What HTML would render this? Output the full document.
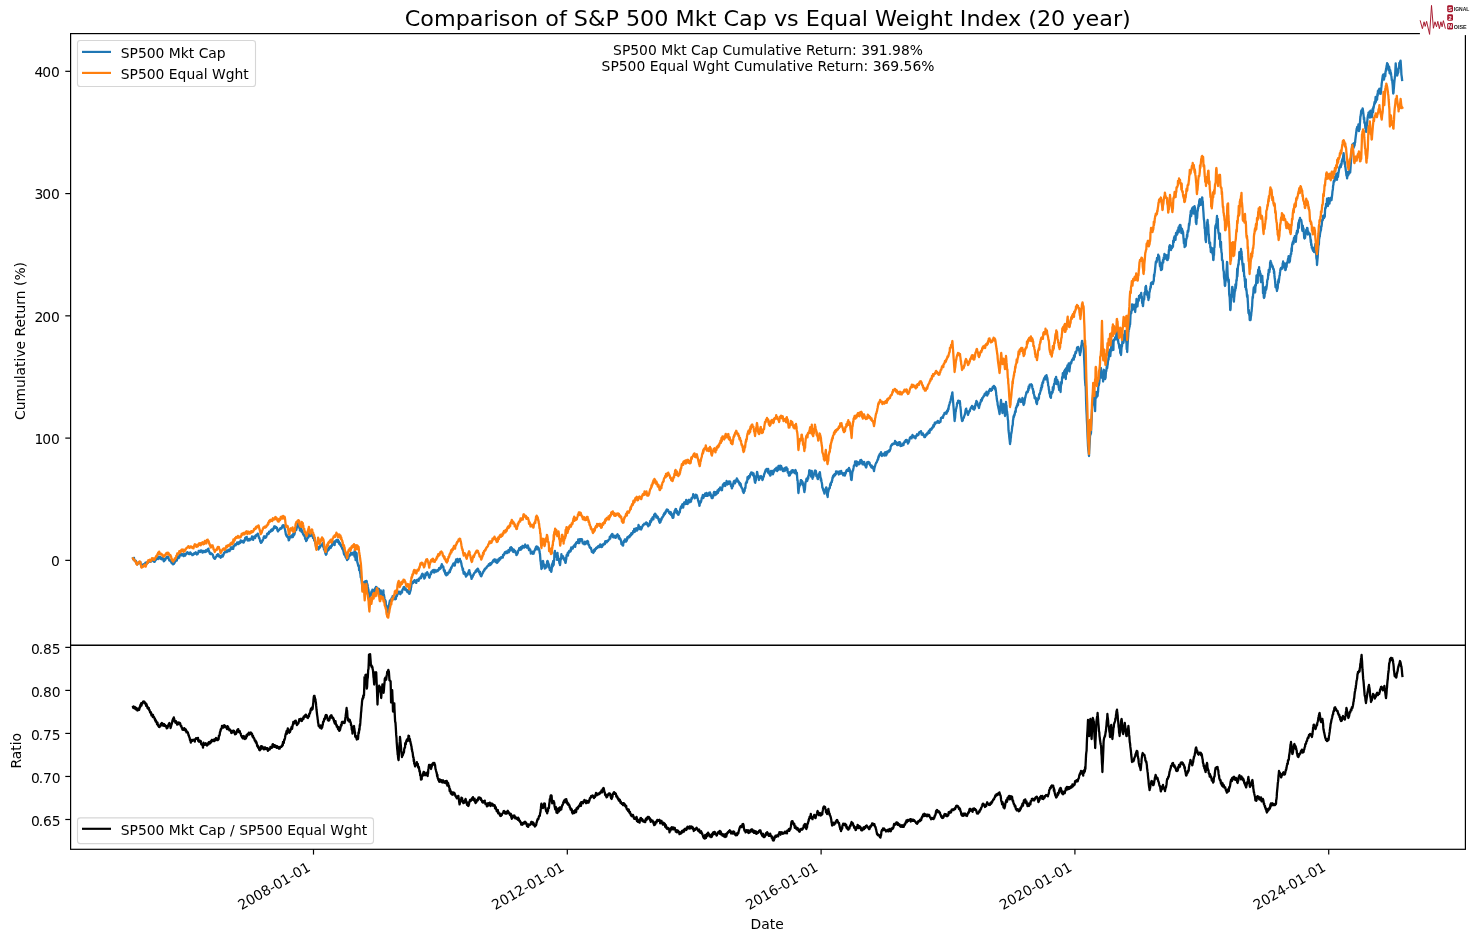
<!DOCTYPE html>
<html lang="en"><head><meta charset="utf-8"><title>Comparison of S&amp;P 500 Mkt Cap vs Equal Weight Index (20 year)</title>
<style>html,body{margin:0;padding:0;background:#fff;}body{width:1475px;height:941px;overflow:hidden;}svg{display:block;}text{font-family:"DejaVu Sans","Liberation Sans",sans-serif;fill:#000;}</style></head><body>
<svg width="1475" height="941" viewBox="0 0 1475 941">
<rect width="1475" height="941" fill="#fff"/>
<text x="767.8" y="26.2" font-size="22.22" text-anchor="middle" textLength="726" lengthAdjust="spacingAndGlyphs" transform="matrix(1 0 0 0.967 0 0.865)">Comparison of S&amp;P 500 Mkt Cap vs Equal Weight Index (20 year)</text>
<defs><clipPath id="cu"><rect x="70.6" y="33.6" width="1394.8000000000002" height="611.6999999999999"/></clipPath><clipPath id="cl"><rect x="70.6" y="645.3" width="1394.8000000000002" height="204.0"/></clipPath></defs>
<g fill="none" stroke-width="2.3" stroke-linejoin="round" stroke-linecap="square">
<path clip-path="url(#cu)" stroke="#1f77b4" d="M133.0,558.4 L133.2,559.2 L133.5,558.7 L133.7,558.8 L134.0,557.9 L134.2,559.6 L134.5,560.0 L134.7,560.6 L135.0,560.5 L135.2,561.2 L135.5,560.8 L135.7,560.6 L136.0,561.2 L136.2,563.0 L136.5,562.9 L136.7,563.9 L137.0,563.5 L137.2,563.8 L137.5,564.3 L137.8,563.1 L138.0,562.7 L138.3,563.0 L138.5,563.2 L138.8,562.4 L139.0,562.8 L139.3,562.7 L139.5,562.5 L139.8,563.1 L140.1,562.6 L140.3,562.0 L140.6,563.1 L140.8,564.2 L141.1,565.3 L141.3,566.3 L141.6,566.0 L141.8,565.0 L142.1,564.6 L142.3,564.7 L142.6,566.1 L142.9,565.3 L143.1,565.1 L143.4,564.5 L143.6,564.7 L143.9,564.7 L144.1,563.8 L144.4,563.8 L144.6,563.8 L144.9,563.5 L145.2,563.4 L145.4,562.7 L145.7,563.2 L145.9,563.3 L146.2,562.6 L146.4,563.4 L146.7,562.3 L146.9,563.3 L147.2,562.2 L147.4,562.4 L147.7,562.9 L148.0,562.7 L148.2,561.3 L148.5,561.7 L148.7,561.8 L149.0,561.2 L149.2,561.2 L149.5,561.2 L149.7,561.2 L150.0,561.6 L150.3,561.2 L150.5,561.1 L150.8,561.7 L151.0,561.4 L151.3,561.1 L151.5,560.8 L151.8,560.5 L152.0,560.2 L152.3,560.0 L152.6,559.7 L152.8,559.9 L153.1,560.3 L153.3,559.7 L153.6,561.3 L153.8,561.1 L154.1,561.7 L154.3,561.0 L154.6,561.8 L154.8,561.5 L155.1,560.2 L155.4,560.5 L155.6,560.2 L155.9,559.3 L156.1,559.8 L156.4,558.5 L156.6,559.0 L156.9,558.7 L157.1,557.8 L157.4,557.1 L157.7,557.7 L157.9,557.3 L158.2,559.0 L158.4,558.4 L158.7,556.7 L158.9,557.1 L159.2,557.2 L159.4,558.0 L159.7,557.1 L159.9,556.8 L160.2,558.5 L160.5,558.1 L160.7,557.8 L161.0,557.4 L161.2,559.1 L161.5,558.8 L161.7,559.2 L162.0,559.0 L162.2,557.9 L162.5,558.0 L162.8,557.5 L163.0,558.8 L163.3,559.7 L163.5,560.6 L163.8,561.4 L164.0,560.3 L164.3,561.0 L164.5,560.2 L164.8,559.2 L165.1,558.6 L165.3,559.9 L165.6,559.1 L165.8,558.7 L166.1,558.2 L166.3,557.8 L166.6,557.4 L166.8,556.9 L167.1,557.1 L167.3,557.6 L167.6,556.7 L167.9,558.1 L168.1,557.7 L168.4,557.0 L168.6,558.6 L168.9,559.2 L169.1,560.1 L169.4,559.7 L169.6,560.7 L169.9,559.9 L170.2,560.5 L170.4,560.2 L170.7,561.1 L170.9,561.8 L171.2,561.5 L171.4,562.7 L171.7,563.0 L171.9,563.3 L172.2,562.6 L172.4,562.4 L172.7,561.8 L173.0,563.6 L173.2,564.4 L173.5,562.5 L173.7,563.7 L174.0,563.8 L174.2,562.7 L174.5,562.4 L174.7,562.8 L175.0,561.5 L175.3,561.6 L175.5,560.3 L175.8,560.5 L176.0,560.2 L176.3,560.2 L176.5,560.5 L176.8,560.6 L177.0,559.1 L177.3,558.7 L177.6,558.2 L177.8,557.0 L178.1,557.1 L178.3,557.1 L178.6,557.5 L178.8,558.1 L179.1,556.1 L179.3,557.3 L179.6,555.0 L179.8,554.9 L180.1,555.1 L180.4,554.8 L180.6,555.3 L180.9,554.3 L181.1,553.7 L181.4,554.6 L181.6,555.3 L181.9,554.8 L182.1,554.6 L182.4,554.4 L182.7,554.1 L182.9,555.4 L183.2,555.0 L183.4,555.0 L183.7,556.1 L183.9,555.5 L184.2,554.8 L184.4,553.9 L184.7,554.7 L184.9,555.4 L185.2,555.6 L185.5,553.8 L185.7,554.6 L186.0,554.5 L186.2,553.6 L186.5,553.5 L186.7,552.7 L187.0,552.5 L187.2,552.6 L187.5,552.3 L187.8,553.4 L188.0,553.1 L188.3,552.8 L188.5,553.9 L188.8,552.9 L189.0,554.0 L189.3,553.1 L189.5,553.0 L189.8,553.3 L190.1,554.0 L190.3,552.4 L190.6,553.2 L190.8,553.6 L191.1,554.0 L191.3,553.9 L191.6,553.7 L191.8,554.2 L192.1,554.3 L192.3,555.1 L192.6,555.1 L192.8,555.0 L193.1,554.8 L193.3,554.3 L193.5,554.5 L193.8,553.8 L194.0,554.3 L194.2,553.1 L194.5,553.4 L194.7,553.1 L194.9,553.6 L195.2,553.1 L195.4,552.6 L195.7,552.3 L195.9,552.6 L196.2,552.8 L196.4,554.1 L196.7,553.3 L196.9,554.5 L197.2,554.0 L197.4,553.6 L197.7,554.0 L198.0,553.5 L198.2,552.7 L198.5,551.9 L198.7,550.8 L199.0,552.0 L199.2,551.6 L199.5,551.0 L199.7,551.2 L200.0,551.1 L200.3,552.0 L200.5,551.7 L200.8,550.5 L201.0,550.7 L201.3,550.9 L201.5,550.5 L201.8,550.8 L202.0,551.2 L202.3,551.5 L202.6,552.7 L202.8,551.7 L203.1,550.9 L203.3,551.3 L203.6,551.5 L203.8,552.0 L204.1,551.5 L204.3,551.3 L204.6,551.7 L204.8,551.6 L205.1,552.1 L205.4,550.9 L205.6,550.5 L205.9,550.3 L206.1,551.1 L206.4,551.5 L206.6,550.6 L206.9,550.1 L207.1,551.1 L207.4,550.9 L207.7,549.2 L207.9,549.6 L208.2,549.0 L208.4,548.6 L208.7,550.1 L208.9,550.8 L209.2,551.8 L209.4,552.5 L209.7,553.1 L209.9,553.7 L210.2,554.0 L210.5,554.0 L210.7,552.9 L211.0,553.6 L211.2,553.4 L211.5,554.1 L211.7,554.1 L212.0,553.8 L212.2,554.4 L212.5,554.6 L212.8,554.7 L213.0,555.2 L213.3,556.6 L213.5,557.4 L213.8,557.5 L214.1,558.4 L214.3,558.2 L214.6,558.7 L214.8,558.5 L215.1,558.7 L215.3,558.4 L215.6,557.1 L215.8,556.9 L216.1,557.0 L216.3,556.6 L216.6,556.5 L216.8,555.2 L217.1,555.1 L217.3,556.0 L217.6,555.3 L217.9,554.1 L218.1,554.8 L218.4,555.7 L218.6,554.7 L218.9,555.4 L219.1,556.5 L219.4,555.6 L219.7,555.6 L219.9,556.9 L220.2,556.3 L220.4,557.0 L220.7,557.7 L221.0,557.2 L221.2,556.9 L221.4,556.4 L221.7,556.2 L221.9,555.6 L222.2,555.1 L222.4,555.2 L222.7,556.7 L223.0,555.9 L223.2,555.1 L223.5,555.0 L223.7,553.5 L224.0,553.6 L224.2,552.6 L224.5,552.9 L224.7,552.3 L225.0,551.8 L225.3,551.2 L225.5,552.1 L225.8,551.8 L226.0,552.0 L226.3,551.0 L226.5,552.2 L226.8,550.4 L227.0,550.4 L227.3,551.0 L227.6,551.6 L227.8,551.0 L228.1,550.5 L228.3,550.2 L228.6,549.8 L228.8,550.0 L229.1,550.0 L229.3,550.8 L229.6,551.0 L229.8,550.1 L230.1,550.0 L230.4,548.8 L230.6,548.4 L230.9,547.3 L231.1,547.2 L231.4,549.1 L231.6,547.3 L231.9,548.3 L232.1,548.0 L232.4,548.7 L232.7,547.3 L232.9,547.5 L233.2,548.9 L233.4,546.1 L233.7,547.0 L233.9,546.0 L234.2,545.5 L234.4,545.7 L234.7,545.4 L234.9,544.4 L235.2,544.5 L235.5,544.6 L235.7,545.3 L236.0,544.6 L236.2,543.8 L236.5,543.8 L236.7,543.3 L237.0,543.3 L237.2,542.3 L237.5,543.2 L237.8,544.0 L238.0,542.9 L238.3,544.2 L238.5,543.2 L238.8,542.7 L239.0,542.1 L239.3,542.9 L239.5,543.4 L239.8,543.0 L240.1,542.9 L240.3,542.1 L240.6,540.5 L240.8,541.5 L241.1,541.7 L241.3,541.3 L241.6,541.9 L241.8,541.0 L242.1,541.3 L242.3,542.1 L242.6,541.9 L242.9,541.0 L243.1,542.2 L243.4,541.8 L243.6,542.6 L243.9,542.1 L244.1,540.5 L244.4,541.2 L244.6,540.0 L244.9,540.2 L245.2,537.9 L245.4,538.3 L245.7,537.5 L245.9,538.8 L246.2,538.2 L246.4,537.5 L246.7,536.9 L246.9,538.3 L247.2,539.4 L247.4,540.2 L247.7,540.2 L248.0,540.6 L248.2,539.2 L248.5,539.3 L248.7,539.0 L249.0,540.1 L249.2,539.6 L249.5,538.9 L249.7,540.3 L250.0,539.8 L250.3,539.7 L250.5,539.4 L250.8,538.6 L251.0,538.8 L251.3,538.6 L251.5,539.2 L251.8,538.7 L252.0,536.4 L252.3,537.8 L252.6,537.8 L252.8,538.9 L253.1,539.8 L253.3,537.0 L253.6,537.2 L253.8,537.1 L254.1,537.5 L254.3,536.6 L254.6,537.3 L254.8,536.3 L255.1,538.2 L255.4,535.6 L255.6,536.7 L255.9,535.2 L256.1,536.2 L256.4,535.9 L256.6,534.7 L256.9,534.7 L257.1,534.4 L257.4,535.3 L257.7,533.7 L257.9,533.7 L258.2,535.2 L258.4,535.8 L258.7,536.1 L258.9,538.0 L259.2,537.9 L259.4,537.9 L259.7,539.3 L259.9,539.7 L260.2,541.5 L260.4,541.5 L260.7,541.7 L260.9,542.9 L261.2,542.6 L261.4,542.4 L261.7,542.4 L262.0,541.6 L262.2,541.3 L262.5,540.1 L262.8,540.3 L263.0,539.9 L263.3,538.8 L263.5,537.6 L263.8,538.3 L264.0,536.3 L264.3,537.7 L264.5,536.3 L264.8,537.6 L265.1,537.0 L265.3,536.9 L265.6,537.8 L265.8,536.7 L266.1,536.2 L266.3,536.9 L266.6,535.7 L266.8,535.1 L267.1,533.9 L267.3,533.8 L267.6,533.4 L267.9,533.7 L268.1,533.7 L268.4,534.1 L268.6,532.8 L268.9,533.5 L269.1,531.7 L269.4,532.4 L269.6,531.9 L269.9,531.6 L270.2,531.6 L270.4,531.7 L270.7,531.1 L270.9,530.1 L271.2,529.9 L271.4,531.0 L271.7,529.3 L271.9,530.1 L272.2,530.2 L272.4,530.6 L272.7,529.3 L272.9,530.1 L273.2,529.4 L273.4,528.2 L273.7,528.5 L273.9,528.5 L274.2,526.4 L274.4,526.6 L274.7,527.6 L274.9,526.5 L275.2,527.8 L275.5,527.9 L275.7,527.4 L276.0,527.0 L276.2,527.9 L276.5,528.0 L276.7,528.5 L277.0,527.9 L277.2,529.6 L277.5,530.5 L277.8,531.0 L278.0,531.4 L278.3,530.3 L278.5,530.7 L278.8,529.9 L279.0,530.1 L279.3,529.6 L279.5,529.4 L279.8,529.5 L280.1,528.3 L280.3,528.6 L280.6,528.0 L280.8,528.7 L281.1,528.5 L281.3,528.6 L281.6,528.1 L281.8,528.0 L282.1,527.3 L282.3,526.0 L282.6,525.5 L282.9,525.3 L283.1,525.2 L283.4,525.4 L283.6,525.5 L283.9,525.2 L284.1,526.6 L284.4,527.3 L284.6,528.7 L284.9,529.0 L285.2,530.4 L285.4,531.8 L285.7,533.2 L285.9,534.6 L286.2,535.0 L286.4,535.8 L286.7,534.8 L286.9,536.4 L287.2,536.8 L287.4,536.6 L287.7,536.3 L288.0,537.9 L288.2,537.8 L288.5,538.5 L288.7,540.3 L289.0,540.2 L289.2,539.2 L289.5,538.9 L289.7,537.9 L290.0,536.4 L290.3,537.1 L290.5,537.1 L290.8,536.5 L291.0,537.0 L291.3,536.0 L291.5,536.5 L291.8,537.2 L292.0,535.3 L292.3,535.0 L292.6,535.6 L292.8,537.2 L293.1,536.2 L293.3,533.7 L293.6,535.5 L293.8,533.7 L294.1,534.6 L294.3,534.8 L294.6,533.6 L294.8,532.6 L295.1,531.5 L295.4,530.5 L295.6,529.5 L295.9,530.0 L296.1,529.0 L296.4,529.9 L296.6,528.1 L296.9,527.8 L297.1,526.4 L297.4,526.0 L297.7,525.1 L297.9,523.2 L298.2,524.9 L298.4,523.0 L298.7,523.9 L298.9,524.9 L299.2,524.8 L299.4,528.1 L299.7,527.1 L299.9,530.5 L300.2,530.0 L300.5,530.2 L300.7,527.9 L301.0,528.3 L301.2,527.5 L301.5,531.7 L301.7,532.1 L302.0,531.8 L302.2,530.5 L302.5,531.3 L302.8,533.0 L303.0,534.1 L303.3,534.1 L303.5,534.7 L303.8,535.6 L304.0,535.4 L304.3,534.6 L304.5,535.5 L304.8,535.6 L305.1,538.8 L305.3,538.7 L305.6,538.6 L305.8,539.2 L306.1,541.1 L306.3,538.7 L306.6,539.0 L306.8,540.2 L307.1,538.5 L307.3,538.4 L307.6,538.5 L307.9,535.2 L308.1,535.0 L308.4,537.3 L308.6,534.4 L308.9,533.6 L309.1,534.3 L309.4,532.7 L309.6,533.3 L309.9,534.5 L310.2,536.0 L310.4,535.6 L310.7,535.6 L310.9,534.9 L311.2,535.5 L311.4,533.8 L311.7,535.3 L311.9,534.6 L312.2,536.1 L312.4,535.2 L312.7,536.5 L313.0,537.9 L313.2,537.1 L313.5,537.7 L313.7,537.1 L314.0,539.2 L314.2,540.7 L314.5,539.4 L314.7,537.9 L315.0,539.7 L315.3,543.3 L315.5,543.3 L315.8,544.8 L316.0,546.0 L316.3,546.9 L316.5,548.9 L316.8,548.7 L317.0,547.6 L317.3,546.3 L317.6,548.3 L317.8,547.3 L318.1,547.9 L318.3,548.6 L318.6,549.5 L318.8,547.4 L319.1,547.2 L319.3,547.4 L319.6,547.9 L319.8,546.3 L320.1,547.3 L320.4,545.7 L320.6,545.4 L320.9,545.5 L321.1,545.3 L321.4,544.9 L321.6,545.5 L321.8,544.6 L322.0,544.7 L322.3,543.9 L322.5,544.7 L322.7,543.1 L323.0,544.8 L323.2,546.4 L323.4,547.3 L323.7,546.7 L323.9,549.1 L324.2,549.9 L324.4,549.0 L324.7,550.7 L324.9,551.2 L325.2,552.5 L325.5,553.7 L325.7,554.0 L326.0,554.8 L326.2,554.1 L326.5,554.1 L326.7,552.6 L327.0,550.7 L327.2,549.9 L327.5,550.0 L327.8,549.1 L328.0,550.5 L328.3,550.1 L328.5,548.3 L328.8,549.7 L329.0,547.4 L329.3,547.9 L329.5,548.4 L329.8,547.5 L330.1,546.4 L330.3,547.1 L330.6,548.0 L330.8,547.9 L331.1,545.8 L331.3,546.8 L331.6,545.3 L331.8,546.3 L332.1,545.0 L332.3,542.2 L332.6,543.3 L332.9,544.0 L333.1,544.0 L333.4,543.3 L333.6,543.4 L333.9,544.5 L334.1,541.7 L334.4,541.5 L334.6,545.0 L334.9,542.3 L335.2,542.0 L335.4,541.2 L335.7,541.2 L335.9,541.6 L336.2,541.2 L336.4,540.0 L336.7,540.1 L336.9,540.7 L337.2,541.0 L337.4,540.0 L337.7,542.1 L338.0,540.0 L338.2,541.8 L338.5,541.7 L338.7,541.7 L339.0,541.4 L339.2,544.0 L339.5,543.1 L339.7,543.9 L340.0,543.1 L340.3,545.0 L340.5,544.3 L340.8,544.5 L341.0,546.3 L341.3,546.1 L341.5,546.4 L341.8,547.3 L342.0,547.9 L342.3,548.8 L342.6,549.2 L342.8,549.0 L343.1,548.7 L343.3,550.7 L343.6,551.9 L343.8,553.3 L344.1,554.5 L344.3,553.4 L344.6,554.6 L344.8,553.9 L345.1,554.4 L345.4,556.7 L345.6,557.0 L345.9,557.4 L346.1,556.1 L346.4,558.7 L346.6,558.2 L346.9,558.3 L347.1,560.1 L347.4,559.0 L347.7,559.4 L347.9,558.6 L348.2,558.9 L348.4,558.6 L348.7,557.0 L348.9,556.1 L349.2,555.9 L349.4,555.3 L349.7,555.5 L349.9,554.7 L350.2,555.5 L350.5,553.9 L350.7,553.1 L351.0,553.0 L351.2,553.1 L351.5,553.9 L351.7,553.5 L352.0,553.3 L352.2,554.5 L352.5,552.9 L352.8,552.9 L353.0,553.1 L353.3,552.8 L353.5,552.8 L353.8,552.4 L354.0,555.0 L354.3,552.3 L354.5,556.7 L354.8,549.8 L355.1,555.0 L355.3,555.7 L355.6,560.2 L355.8,555.0 L356.1,552.7 L356.3,555.0 L356.6,553.2 L356.8,556.3 L357.1,560.0 L357.3,562.1 L357.6,563.2 L357.9,564.2 L358.1,565.2 L358.4,566.2 L358.6,566.3 L358.9,565.4 L359.1,570.3 L359.3,569.2 L359.6,569.7 L359.9,570.0 L360.1,572.8 L360.4,573.8 L360.7,577.4 L360.9,575.8 L361.2,577.6 L361.4,579.4 L361.7,581.2 L361.9,583.0 L362.2,585.3 L362.4,587.7 L362.7,590.1 L362.9,588.8 L363.2,587.6 L363.4,586.3 L363.7,585.0 L363.9,584.5 L364.2,582.0 L364.5,585.7 L364.7,584.3 L365.0,583.0 L365.3,585.5 L365.5,581.1 L365.8,581.7 L366.0,583.3 L366.3,581.6 L366.5,580.9 L366.8,581.9 L367.0,583.0 L367.3,584.0 L367.6,585.0 L367.8,586.5 L368.1,588.1 L368.3,589.6 L368.6,591.1 L368.8,594.2 L369.1,597.2 L369.4,600.3 L369.6,598.1 L369.9,595.9 L370.1,593.7 L370.4,593.7 L370.6,595.8 L370.9,593.9 L371.1,594.5 L371.4,591.5 L371.6,592.1 L371.9,594.5 L372.1,592.2 L372.4,589.6 L372.7,591.3 L372.9,591.3 L373.2,590.6 L373.4,591.1 L373.7,592.2 L373.9,590.6 L374.2,589.6 L374.4,593.0 L374.7,591.6 L374.9,591.3 L375.2,588.1 L375.5,592.2 L375.7,593.3 L376.0,586.8 L376.2,589.1 L376.5,588.7 L376.7,588.3 L377.0,587.9 L377.2,587.6 L377.5,588.7 L377.8,589.8 L378.0,591.0 L378.3,592.1 L378.5,592.2 L378.8,593.2 L379.0,588.8 L379.3,592.7 L379.5,593.8 L379.8,595.0 L380.1,593.5 L380.3,594.2 L380.6,595.8 L380.8,590.4 L381.1,594.3 L381.3,594.4 L381.6,592.1 L381.8,593.7 L382.1,593.6 L382.3,595.7 L382.6,591.8 L382.9,595.9 L383.1,593.7 L383.4,590.3 L383.6,594.8 L383.9,594.7 L384.1,596.1 L384.4,597.5 L384.6,598.9 L384.9,600.3 L385.2,599.9 L385.4,603.8 L385.7,601.1 L385.9,605.5 L386.2,608.0 L386.4,605.4 L386.7,606.2 L386.9,606.9 L387.2,607.7 L387.4,608.5 L387.7,609.8 L387.9,611.2 L388.2,612.6 L388.4,610.2 L388.7,607.8 L389.0,605.4 L389.2,604.1 L389.5,602.9 L389.7,601.6 L390.0,600.3 L390.3,602.6 L390.5,600.4 L390.8,601.2 L391.0,600.6 L391.3,599.4 L391.5,598.3 L391.8,599.3 L392.0,599.9 L392.3,597.7 L392.6,596.2 L392.8,598.5 L393.1,597.2 L393.3,597.5 L393.6,599.0 L393.8,597.4 L394.1,599.1 L394.3,598.7 L394.6,599.1 L394.8,599.0 L395.1,599.3 L395.4,599.1 L395.6,597.7 L395.9,599.0 L396.1,596.7 L396.4,595.1 L396.6,596.2 L396.9,596.0 L397.1,595.0 L397.4,594.4 L397.7,593.3 L397.9,593.9 L398.2,593.2 L398.4,591.6 L398.7,592.3 L398.9,592.7 L399.2,593.3 L399.4,591.8 L399.7,592.1 L399.9,591.6 L400.2,594.1 L400.5,594.2 L400.7,591.9 L401.0,592.5 L401.2,592.7 L401.5,592.1 L401.7,592.6 L402.0,592.6 L402.2,590.5 L402.5,589.5 L402.8,589.1 L403.0,588.7 L403.3,589.2 L403.6,587.1 L403.8,588.6 L404.1,587.0 L404.3,588.5 L404.6,588.8 L404.8,589.6 L405.1,588.5 L405.3,589.6 L405.6,588.4 L405.8,588.9 L406.1,590.2 L406.3,590.4 L406.6,590.1 L406.8,591.1 L407.1,590.2 L407.3,592.0 L407.6,590.5 L407.9,590.2 L408.1,591.8 L408.4,591.6 L408.6,592.0 L408.9,593.5 L409.1,592.6 L409.3,593.8 L409.6,593.7 L409.9,592.5 L410.1,591.9 L410.4,590.8 L410.7,589.9 L410.9,588.1 L411.2,587.0 L411.4,585.0 L411.7,583.9 L411.9,582.9 L412.2,582.3 L412.4,583.0 L412.7,583.0 L413.0,583.1 L413.2,581.4 L413.5,581.4 L413.7,581.2 L414.0,580.9 L414.2,581.1 L414.5,580.2 L414.7,581.8 L415.0,580.7 L415.3,582.3 L415.5,582.4 L415.8,581.3 L416.0,581.8 L416.3,582.8 L416.5,580.3 L416.8,580.8 L417.0,579.9 L417.3,580.6 L417.6,580.4 L417.8,579.7 L418.1,579.4 L418.3,580.5 L418.6,580.9 L418.8,580.0 L419.1,578.5 L419.3,578.4 L419.6,578.2 L419.8,578.7 L420.1,577.9 L420.4,577.7 L420.6,576.8 L420.9,577.2 L421.1,578.2 L421.4,575.5 L421.6,575.8 L421.9,575.7 L422.1,574.2 L422.4,573.7 L422.7,575.4 L422.9,574.2 L423.2,574.8 L423.4,575.6 L423.7,577.1 L424.0,576.6 L424.2,578.6 L424.5,578.4 L424.7,577.7 L425.0,577.5 L425.2,576.5 L425.5,573.5 L425.7,573.8 L426.0,574.4 L426.2,575.1 L426.5,574.3 L426.7,573.3 L427.0,573.4 L427.2,572.2 L427.5,572.8 L427.8,573.3 L428.0,573.8 L428.3,574.3 L428.5,575.3 L428.8,576.1 L429.1,577.1 L429.3,577.7 L429.6,577.3 L429.8,576.3 L430.1,575.1 L430.3,574.8 L430.6,573.8 L430.8,572.8 L431.1,573.8 L431.3,571.7 L431.6,572.1 L431.8,572.5 L432.1,571.8 L432.3,570.7 L432.6,571.1 L432.9,570.2 L433.1,570.7 L433.4,570.0 L433.6,570.3 L433.9,571.2 L434.1,572.6 L434.4,571.7 L434.6,572.3 L434.9,570.0 L435.2,570.4 L435.4,570.2 L435.7,571.2 L435.9,571.2 L436.2,570.9 L436.4,571.6 L436.7,571.4 L436.9,570.4 L437.2,570.2 L437.4,570.9 L437.7,571.1 L438.0,570.2 L438.2,570.0 L438.5,569.5 L438.7,570.2 L439.0,568.1 L439.2,569.1 L439.5,568.2 L439.7,569.2 L440.0,568.2 L440.3,568.8 L440.5,567.9 L440.8,566.5 L441.0,567.8 L441.3,565.9 L441.5,565.8 L441.8,564.1 L442.0,565.9 L442.3,565.3 L442.6,566.1 L442.8,566.7 L443.1,567.2 L443.3,566.6 L443.6,568.3 L443.8,570.4 L444.1,570.7 L444.3,571.6 L444.6,571.9 L444.8,570.3 L445.1,573.1 L445.3,573.9 L445.6,574.4 L445.8,574.9 L446.1,573.9 L446.3,575.3 L446.6,575.2 L446.8,574.8 L447.0,574.2 L447.2,572.9 L447.5,574.7 L447.7,573.4 L447.9,572.8 L448.2,572.8 L448.4,573.4 L448.7,572.9 L448.9,572.4 L449.2,571.7 L449.4,571.5 L449.7,570.2 L449.9,572.0 L450.2,570.2 L450.5,569.1 L450.7,569.8 L451.0,568.0 L451.2,567.4 L451.5,568.1 L451.7,566.9 L452.0,566.7 L452.2,566.1 L452.5,565.3 L452.8,565.2 L453.0,564.1 L453.3,565.2 L453.5,563.5 L453.8,565.4 L454.0,563.6 L454.3,564.1 L454.5,565.1 L454.8,565.6 L455.1,563.1 L455.3,562.0 L455.6,562.8 L455.8,561.5 L456.1,559.4 L456.3,560.6 L456.6,560.3 L456.8,561.5 L457.1,561.6 L457.3,561.2 L457.6,559.0 L457.9,559.3 L458.1,562.3 L458.4,559.8 L458.6,561.1 L458.9,559.6 L459.1,561.4 L459.4,559.5 L459.6,560.2 L459.9,558.8 L460.2,561.0 L460.4,561.2 L460.7,560.9 L460.9,561.5 L461.2,562.8 L461.4,564.1 L461.7,565.4 L461.9,566.6 L462.2,567.3 L462.4,567.9 L462.7,570.0 L463.0,568.6 L463.2,570.6 L463.5,572.8 L463.7,573.7 L464.0,572.6 L464.2,573.5 L464.5,572.1 L464.7,574.1 L465.0,573.3 L465.3,573.1 L465.5,575.2 L465.8,575.9 L466.0,576.6 L466.3,576.2 L466.5,575.8 L466.8,575.5 L467.0,574.8 L467.3,575.2 L467.5,574.0 L467.8,574.3 L468.0,573.6 L468.3,572.4 L468.6,572.1 L468.8,570.9 L469.1,570.2 L469.3,570.1 L469.6,572.3 L469.8,572.3 L470.1,574.5 L470.4,574.0 L470.6,574.8 L470.9,575.8 L471.1,576.8 L471.4,577.9 L471.6,578.9 L471.9,577.9 L472.1,577.3 L472.4,577.4 L472.7,576.5 L472.9,576.0 L473.2,574.8 L473.4,575.0 L473.7,574.8 L473.9,573.5 L474.2,573.2 L474.4,572.8 L474.7,572.8 L474.9,572.6 L475.2,572.5 L475.5,571.1 L475.7,572.2 L476.0,570.8 L476.2,570.2 L476.5,571.1 L476.7,570.6 L477.0,569.5 L477.2,569.7 L477.5,568.8 L477.8,568.7 L478.0,569.3 L478.3,569.3 L478.5,570.8 L478.8,571.9 L479.0,571.4 L479.3,571.7 L479.5,572.4 L479.8,573.9 L480.1,572.0 L480.3,574.2 L480.6,575.5 L480.8,575.9 L481.1,576.3 L481.3,576.3 L481.6,575.5 L481.8,575.0 L482.1,574.2 L482.3,573.7 L482.6,573.4 L482.9,572.8 L483.1,571.8 L483.4,571.9 L483.6,571.2 L483.9,570.6 L484.1,570.0 L484.4,570.5 L484.6,569.5 L484.9,568.7 L485.2,569.1 L485.4,568.7 L485.7,568.5 L485.9,568.3 L486.2,567.7 L486.4,568.1 L486.7,567.4 L486.9,566.6 L487.2,566.5 L487.5,566.3 L487.7,566.2 L488.0,566.0 L488.2,565.4 L488.5,565.7 L488.8,564.2 L489.0,564.2 L489.2,565.0 L489.5,565.4 L489.8,564.0 L490.0,565.0 L490.2,563.2 L490.5,564.3 L490.8,563.3 L491.0,564.3 L491.2,564.3 L491.5,562.9 L491.8,563.1 L492.0,562.4 L492.2,562.4 L492.5,561.6 L492.8,562.0 L493.0,560.8 L493.2,561.5 L493.5,560.0 L493.8,559.6 L494.0,559.6 L494.2,559.8 L494.5,559.7 L494.8,559.5 L495.0,559.7 L495.2,560.7 L495.5,562.1 L495.8,559.7 L496.0,561.1 L496.2,561.1 L496.5,560.7 L496.8,562.4 L497.0,563.0 L497.2,562.2 L497.5,562.5 L497.8,560.5 L498.0,561.3 L498.2,559.4 L498.5,561.4 L498.8,560.7 L499.0,559.5 L499.2,559.2 L499.5,558.2 L499.8,559.3 L500.0,559.0 L500.2,559.5 L500.5,558.2 L500.8,557.5 L501.0,557.2 L501.2,557.8 L501.5,557.4 L501.8,557.7 L502.0,557.0 L502.2,557.2 L502.5,556.8 L502.8,557.6 L503.0,554.9 L503.2,555.6 L503.5,555.6 L503.8,554.1 L504.0,555.0 L504.2,554.0 L504.5,553.0 L504.8,553.1 L505.0,552.1 L505.2,553.3 L505.5,552.8 L505.8,552.6 L506.0,551.7 L506.2,553.0 L506.5,551.4 L506.8,552.0 L507.0,553.2 L507.2,552.4 L507.5,551.7 L507.8,552.3 L508.0,551.6 L508.2,550.8 L508.5,550.0 L508.7,552.3 L509.0,551.8 L509.2,551.2 L509.4,550.8 L509.7,550.5 L509.9,550.7 L510.2,547.7 L510.4,549.7 L510.6,550.3 L510.9,547.3 L511.1,547.1 L511.4,548.3 L511.6,548.0 L511.8,547.8 L512.1,548.6 L512.3,550.7 L512.6,550.5 L512.8,549.2 L513.0,551.7 L513.3,552.0 L513.5,551.5 L513.8,551.8 L514.0,549.6 L514.2,550.2 L514.5,550.5 L514.7,551.1 L515.0,552.0 L515.2,551.7 L515.4,551.1 L515.7,553.1 L515.9,553.4 L516.2,553.2 L516.4,555.0 L516.6,554.5 L516.9,554.8 L517.1,552.5 L517.3,553.1 L517.6,553.5 L517.8,552.7 L518.1,551.3 L518.3,550.3 L518.5,550.4 L518.8,550.3 L519.0,549.6 L519.2,548.2 L519.5,548.9 L519.8,549.6 L520.0,548.2 L520.2,549.9 L520.5,549.1 L520.8,547.2 L521.0,549.5 L521.2,548.2 L521.5,547.4 L521.8,547.3 L522.0,547.6 L522.2,548.4 L522.5,545.9 L522.8,545.8 L523.0,546.1 L523.2,547.0 L523.5,546.8 L523.8,546.6 L524.0,546.1 L524.2,547.6 L524.5,546.1 L524.8,545.2 L525.0,545.0 L525.2,544.5 L525.5,545.5 L525.8,545.8 L526.0,546.8 L526.2,546.1 L526.5,546.4 L526.8,547.6 L527.0,547.4 L527.2,546.5 L527.5,546.8 L527.8,545.3 L528.0,547.0 L528.2,546.4 L528.5,548.7 L528.8,549.3 L529.0,550.1 L529.2,549.2 L529.5,548.6 L529.8,549.6 L530.0,550.0 L530.2,549.5 L530.5,550.9 L530.8,553.6 L531.0,552.0 L531.2,552.4 L531.5,552.0 L531.7,552.0 L531.9,552.2 L532.2,551.8 L532.4,552.5 L532.7,552.0 L532.9,553.9 L533.1,553.2 L533.4,553.2 L533.6,553.6 L533.8,552.8 L534.1,552.2 L534.3,550.8 L534.6,550.7 L534.8,550.7 L535.0,549.3 L535.3,548.8 L535.5,549.7 L535.8,547.5 L536.0,547.0 L536.2,548.6 L536.5,546.5 L536.7,547.3 L537.0,548.9 L537.2,549.4 L537.4,548.7 L537.7,547.0 L537.9,549.0 L538.2,548.8 L538.4,548.0 L538.6,548.0 L538.9,549.3 L539.1,549.9 L539.3,549.6 L539.5,551.8 L539.8,553.5 L540.0,554.0 L540.2,556.9 L540.5,561.1 L540.7,560.9 L540.9,564.0 L541.2,566.1 L541.4,569.0 L541.6,568.4 L541.9,568.4 L542.1,564.6 L542.3,561.8 L542.5,564.5 L542.8,561.3 L543.0,561.0 L543.2,561.5 L543.5,565.5 L543.8,566.4 L544.0,565.6 L544.2,565.4 L544.5,564.6 L544.8,568.6 L545.0,567.0 L545.2,567.3 L545.5,565.3 L545.7,567.2 L545.9,566.9 L546.2,567.5 L546.4,566.5 L546.7,565.9 L546.9,564.2 L547.1,561.5 L547.4,564.2 L547.6,561.0 L547.9,562.7 L548.1,562.1 L548.4,564.9 L548.6,563.9 L548.9,567.7 L549.1,564.7 L549.4,566.6 L549.6,568.0 L549.8,570.2 L550.1,569.2 L550.3,569.5 L550.5,568.1 L550.8,568.2 L551.0,571.0 L551.2,571.8 L551.5,570.8 L551.8,568.4 L552.0,566.0 L552.2,564.2 L552.5,563.3 L552.8,566.4 L553.0,562.0 L553.2,560.9 L553.5,562.2 L553.7,564.9 L553.9,560.3 L554.2,560.5 L554.4,552.5 L554.7,555.8 L554.9,550.8 L555.1,554.0 L555.4,554.6 L555.6,554.0 L555.8,556.2 L556.1,554.8 L556.3,554.2 L556.6,557.3 L556.8,553.3 L557.0,559.9 L557.3,558.5 L557.5,552.9 L557.8,557.8 L558.0,556.0 L558.2,558.0 L558.5,558.7 L558.8,559.2 L559.0,560.0 L559.2,561.8 L559.5,563.5 L559.8,563.4 L560.0,565.0 L560.2,564.0 L560.5,560.7 L560.7,558.5 L561.0,559.3 L561.2,557.7 L561.4,554.1 L561.7,556.4 L561.9,557.9 L562.2,555.8 L562.4,557.0 L562.6,557.6 L562.9,556.9 L563.1,556.4 L563.4,558.5 L563.6,558.8 L563.9,558.4 L564.1,559.9 L564.4,560.0 L564.6,560.4 L564.9,558.3 L565.1,561.5 L565.3,562.6 L565.6,562.9 L565.8,561.8 L566.1,559.3 L566.3,559.1 L566.5,555.8 L566.8,554.7 L567.0,555.6 L567.2,555.4 L567.5,554.9 L567.8,552.7 L568.0,555.6 L568.2,553.1 L568.5,552.3 L568.8,551.7 L569.0,552.7 L569.2,551.0 L569.5,552.2 L569.8,551.7 L570.0,551.0 L570.2,551.1 L570.5,551.3 L570.8,549.0 L571.0,550.6 L571.2,547.5 L571.5,549.1 L571.8,548.4 L572.0,548.0 L572.2,548.1 L572.5,548.5 L572.8,548.5 L573.0,547.0 L573.2,547.0 L573.5,546.7 L573.8,545.7 L574.0,545.9 L574.2,545.3 L574.5,545.2 L574.8,546.0 L575.0,544.5 L575.2,546.8 L575.5,543.9 L575.8,544.3 L576.0,542.9 L576.2,543.1 L576.5,542.3 L576.8,542.4 L577.0,543.0 L577.2,542.9 L577.5,541.9 L577.8,541.6 L578.0,541.4 L578.2,539.4 L578.5,541.5 L578.8,543.2 L579.0,541.9 L579.2,543.0 L579.5,542.7 L579.8,539.1 L580.0,541.1 L580.2,539.7 L580.5,539.2 L580.8,539.8 L581.0,539.6 L581.2,539.4 L581.5,540.6 L581.8,539.9 L582.0,539.3 L582.2,540.5 L582.5,542.3 L582.8,543.4 L583.0,542.4 L583.2,543.3 L583.5,543.2 L583.7,542.7 L583.9,543.7 L584.2,544.3 L584.4,542.7 L584.7,543.8 L584.9,541.7 L585.1,543.0 L585.4,544.2 L585.6,543.0 L585.9,542.3 L586.1,542.9 L586.4,543.3 L586.6,543.2 L586.9,541.7 L587.1,542.2 L587.4,540.8 L587.6,541.0 L587.8,542.6 L588.1,541.5 L588.3,544.5 L588.6,545.0 L588.8,544.6 L589.0,544.7 L589.3,546.0 L589.5,546.9 L589.8,547.7 L590.0,547.0 L590.2,547.2 L590.5,547.9 L590.8,547.9 L591.0,548.0 L591.2,549.4 L591.5,549.9 L591.8,551.9 L592.0,551.2 L592.2,552.0 L592.5,551.5 L592.8,552.4 L593.0,552.4 L593.2,553.0 L593.5,551.2 L593.8,552.2 L594.0,550.2 L594.2,549.6 L594.5,551.2 L594.8,549.6 L595.0,550.6 L595.2,548.9 L595.5,549.0 L595.8,548.7 L596.0,548.0 L596.2,548.8 L596.5,548.0 L596.8,547.9 L597.0,547.3 L597.2,547.4 L597.5,547.8 L597.8,546.6 L598.0,546.3 L598.2,546.8 L598.5,545.9 L598.8,547.1 L599.0,546.0 L599.2,546.3 L599.5,545.6 L599.7,547.2 L599.9,546.6 L600.2,544.4 L600.4,545.8 L600.7,545.8 L600.9,545.7 L601.1,545.6 L601.4,545.2 L601.6,547.0 L601.8,545.3 L602.1,546.8 L602.3,546.4 L602.6,544.4 L602.8,545.2 L603.0,545.3 L603.3,545.0 L603.5,544.2 L603.8,544.3 L604.0,544.4 L604.2,543.6 L604.5,543.7 L604.8,542.7 L605.0,544.0 L605.2,541.4 L605.5,541.1 L605.8,541.5 L606.0,542.1 L606.2,541.6 L606.5,542.4 L606.8,542.4 L607.0,540.9 L607.2,541.4 L607.5,541.1 L607.8,541.2 L608.0,541.0 L608.2,540.5 L608.5,540.0 L608.8,539.6 L609.0,539.8 L609.2,539.3 L609.5,539.3 L609.8,536.8 L610.0,536.7 L610.2,538.6 L610.5,537.4 L610.8,536.3 L611.0,535.5 L611.2,535.2 L611.5,536.0 L611.8,534.5 L612.0,535.0 L612.2,534.0 L612.5,534.1 L612.8,535.8 L613.0,537.1 L613.2,537.2 L613.5,536.4 L613.8,535.6 L614.0,537.3 L614.2,535.8 L614.5,536.9 L614.8,536.8 L615.0,536.4 L615.2,535.9 L615.5,537.9 L615.8,537.6 L616.0,537.6 L616.2,536.4 L616.5,536.4 L616.8,535.2 L617.0,535.9 L617.2,534.9 L617.5,534.3 L617.8,535.1 L618.0,536.0 L618.2,536.1 L618.5,536.4 L618.8,538.7 L619.0,536.0 L619.2,537.3 L619.5,538.5 L619.8,538.1 L620.0,538.4 L620.2,539.6 L620.5,539.0 L620.7,539.8 L621.0,541.0 L621.2,541.8 L621.4,544.1 L621.7,543.5 L621.9,544.2 L622.2,543.5 L622.4,545.0 L622.6,545.3 L622.9,543.3 L623.1,545.6 L623.3,543.4 L623.6,541.8 L623.8,540.9 L624.1,541.0 L624.3,542.0 L624.5,541.6 L624.8,539.5 L625.0,540.0 L625.2,541.3 L625.5,541.0 L625.8,539.3 L626.0,540.9 L626.2,541.6 L626.5,540.0 L626.8,540.6 L627.0,539.5 L627.2,537.5 L627.5,538.9 L627.8,536.8 L628.0,537.6 L628.2,537.5 L628.5,536.7 L628.8,537.2 L629.0,536.2 L629.2,536.4 L629.5,537.2 L629.8,535.7 L630.0,536.0 L630.2,534.8 L630.5,535.5 L630.8,534.3 L631.0,535.3 L631.2,533.4 L631.5,533.1 L631.8,534.3 L632.0,534.3 L632.2,533.4 L632.5,533.7 L632.8,532.5 L633.0,532.0 L633.2,531.0 L633.5,531.1 L633.8,531.3 L634.0,532.2 L634.2,528.8 L634.5,531.3 L634.8,531.9 L635.0,528.8 L635.2,531.0 L635.5,528.7 L635.8,529.0 L636.0,529.0 L636.2,528.2 L636.5,529.4 L636.8,528.7 L637.0,530.5 L637.2,529.1 L637.5,529.9 L637.8,528.7 L638.0,528.2 L638.2,527.8 L638.5,525.0 L638.8,527.1 L639.0,527.0 L639.2,526.2 L639.5,527.4 L639.8,529.0 L640.0,527.2 L640.2,528.9 L640.5,527.2 L640.8,528.2 L641.0,529.0 L641.2,529.5 L641.5,528.0 L641.8,528.2 L642.0,527.6 L642.2,526.7 L642.5,526.1 L642.8,526.0 L643.0,525.0 L643.2,525.2 L643.5,525.1 L643.8,524.8 L644.0,524.4 L644.2,523.8 L644.5,524.1 L644.8,523.9 L645.0,523.7 L645.2,523.9 L645.5,524.1 L645.8,523.5 L646.0,523.6 L646.2,522.3 L646.5,523.9 L646.8,523.9 L647.0,523.9 L647.2,523.0 L647.5,525.2 L647.8,524.9 L648.0,524.7 L648.2,526.3 L648.5,525.9 L648.8,524.4 L649.0,525.0 L649.2,525.1 L649.5,525.2 L649.8,524.6 L650.0,522.1 L650.2,520.8 L650.5,522.3 L650.8,522.3 L651.0,521.0 L651.2,521.3 L651.5,518.8 L651.7,520.2 L652.0,518.6 L652.2,518.8 L652.5,517.4 L652.7,518.0 L652.9,517.1 L653.2,518.5 L653.4,519.4 L653.7,517.0 L653.9,516.4 L654.2,514.7 L654.4,514.4 L654.6,515.9 L654.9,514.6 L655.1,513.7 L655.3,514.1 L655.6,514.3 L655.8,515.0 L656.1,516.1 L656.3,517.7 L656.5,515.5 L656.8,516.1 L657.0,517.0 L657.2,517.6 L657.5,516.7 L657.8,516.8 L658.0,518.3 L658.2,518.1 L658.5,519.9 L658.8,518.9 L659.0,519.7 L659.2,521.7 L659.5,522.0 L659.8,522.8 L660.0,522.4 L660.2,522.0 L660.5,522.1 L660.7,520.5 L661.0,519.2 L661.2,520.4 L661.4,518.6 L661.7,519.1 L661.9,517.6 L662.2,517.4 L662.4,517.0 L662.6,517.5 L662.9,516.6 L663.1,516.1 L663.3,515.3 L663.6,514.6 L663.8,515.5 L664.1,513.5 L664.3,513.4 L664.5,513.0 L664.8,514.2 L665.0,513.0 L665.2,512.2 L665.5,513.1 L665.8,511.2 L666.0,511.3 L666.2,511.7 L666.5,509.9 L666.8,509.5 L667.0,509.6 L667.2,509.6 L667.5,509.7 L667.8,510.3 L668.0,510.0 L668.2,510.8 L668.5,511.6 L668.8,511.5 L669.0,511.7 L669.2,513.2 L669.5,512.9 L669.8,511.8 L670.0,513.0 L670.2,514.1 L670.5,512.2 L670.7,513.1 L671.0,512.3 L671.2,515.1 L671.4,515.0 L671.7,514.8 L671.9,514.0 L672.2,516.7 L672.4,517.0 L672.6,517.8 L672.9,517.4 L673.1,516.9 L673.4,517.7 L673.6,515.7 L673.9,513.2 L674.1,513.8 L674.4,512.2 L674.6,511.0 L674.9,512.0 L675.1,510.1 L675.4,509.8 L675.6,509.0 L675.8,511.4 L676.1,509.1 L676.3,511.4 L676.5,510.5 L676.8,513.0 L677.0,511.0 L677.2,512.5 L677.5,512.7 L677.7,512.7 L677.9,514.7 L678.2,513.7 L678.4,514.0 L678.6,514.7 L678.9,513.1 L679.1,512.7 L679.3,512.2 L679.6,511.3 L679.8,512.4 L680.1,509.7 L680.3,508.7 L680.5,508.6 L680.8,507.1 L681.0,507.0 L681.2,508.0 L681.5,505.9 L681.8,507.4 L682.0,506.6 L682.2,504.5 L682.5,506.6 L682.8,504.7 L683.0,504.3 L683.2,507.7 L683.5,505.3 L683.8,503.5 L684.0,503.6 L684.2,502.4 L684.5,502.2 L684.8,503.3 L685.0,503.3 L685.2,504.2 L685.5,501.7 L685.8,502.1 L686.0,503.9 L686.2,499.8 L686.5,502.4 L686.8,501.5 L687.0,501.0 L687.2,502.1 L687.5,501.8 L687.7,504.0 L687.9,501.7 L688.2,501.0 L688.4,501.3 L688.7,499.9 L688.9,499.7 L689.1,499.8 L689.4,500.8 L689.6,502.4 L689.8,501.0 L690.1,502.0 L690.3,501.0 L690.6,500.7 L690.8,500.8 L691.0,501.7 L691.3,499.0 L691.5,498.1 L691.8,499.0 L692.0,498.0 L692.2,497.5 L692.5,497.0 L692.8,496.5 L693.0,496.0 L693.2,494.1 L693.5,496.1 L693.7,497.2 L694.0,495.3 L694.2,497.2 L694.5,496.0 L694.7,498.3 L694.9,497.4 L695.2,495.9 L695.4,496.2 L695.7,494.7 L695.9,497.5 L696.2,495.2 L696.4,495.6 L696.6,495.1 L696.9,496.3 L697.1,496.1 L697.4,497.9 L697.6,498.1 L697.9,499.2 L698.1,500.9 L698.4,501.0 L698.6,502.1 L698.9,503.2 L699.1,503.6 L699.4,505.8 L699.6,505.6 L699.8,503.2 L700.1,503.5 L700.3,501.4 L700.6,501.1 L700.8,502.2 L701.0,501.7 L701.3,500.8 L701.5,499.4 L701.8,497.7 L702.0,498.0 L702.2,497.7 L702.5,496.3 L702.8,495.0 L703.0,496.6 L703.2,498.0 L703.5,497.8 L703.8,496.3 L704.0,496.6 L704.2,494.8 L704.5,494.8 L704.8,494.5 L705.0,494.0 L705.2,493.5 L705.5,495.9 L705.8,494.5 L706.0,495.9 L706.2,494.5 L706.5,492.9 L706.8,493.4 L707.0,494.6 L707.2,494.7 L707.5,495.8 L707.8,494.3 L708.0,494.4 L708.2,493.6 L708.5,494.2 L708.8,495.4 L709.0,493.9 L709.2,492.7 L709.5,493.3 L709.8,492.6 L710.0,492.4 L710.2,493.4 L710.5,493.6 L710.7,494.1 L710.9,495.2 L711.1,496.2 L711.4,496.1 L711.6,498.0 L711.9,496.7 L712.1,497.0 L712.4,496.4 L712.6,498.1 L712.9,495.4 L713.1,496.9 L713.4,494.7 L713.6,494.0 L713.8,492.6 L714.1,491.9 L714.3,492.1 L714.6,493.0 L714.8,495.2 L715.1,493.6 L715.3,492.2 L715.5,493.5 L715.8,492.2 L716.0,494.5 L716.3,493.7 L716.5,494.1 L716.8,493.5 L717.0,492.4 L717.2,493.4 L717.5,490.4 L717.8,492.5 L718.0,492.9 L718.2,491.3 L718.5,489.6 L718.8,490.4 L719.0,489.0 L719.2,490.6 L719.5,489.6 L719.8,489.5 L720.0,489.0 L720.2,487.3 L720.5,487.7 L720.8,488.6 L721.0,488.6 L721.2,488.7 L721.5,489.7 L721.8,490.3 L722.0,490.1 L722.2,487.7 L722.5,487.3 L722.8,485.1 L723.0,485.0 L723.2,484.2 L723.5,484.7 L723.7,484.7 L724.0,485.5 L724.2,483.1 L724.5,483.2 L724.7,483.0 L724.9,485.2 L725.2,486.0 L725.4,484.5 L725.7,483.9 L725.9,483.1 L726.2,482.4 L726.4,482.4 L726.6,481.0 L726.9,481.9 L727.1,481.8 L727.4,484.5 L727.6,482.5 L727.9,482.7 L728.1,482.6 L728.4,484.0 L728.6,482.2 L728.9,481.4 L729.1,482.5 L729.4,483.6 L729.6,483.0 L729.8,482.4 L730.1,481.5 L730.3,482.4 L730.6,483.9 L730.8,484.7 L731.0,486.2 L731.3,484.4 L731.5,485.9 L731.8,488.4 L732.0,488.4 L732.2,486.9 L732.5,486.0 L732.8,486.4 L733.0,485.8 L733.2,484.4 L733.5,482.8 L733.8,481.5 L734.0,482.4 L734.2,481.0 L734.5,482.3 L734.8,481.6 L735.0,483.4 L735.2,481.4 L735.5,480.3 L735.8,481.9 L736.0,481.4 L736.2,480.1 L736.5,480.6 L736.8,478.5 L737.0,480.0 L737.2,479.1 L737.5,479.6 L737.8,480.9 L738.0,481.7 L738.2,481.1 L738.5,481.2 L738.8,481.6 L739.0,483.1 L739.2,482.8 L739.5,484.5 L739.8,484.1 L740.0,483.0 L740.2,483.4 L740.5,485.9 L740.7,483.9 L741.0,486.2 L741.2,486.3 L741.4,487.5 L741.7,487.5 L741.9,487.9 L742.2,488.7 L742.4,489.0 L742.6,489.8 L742.9,491.5 L743.1,491.6 L743.4,492.4 L743.6,493.0 L743.9,492.3 L744.1,491.1 L744.4,491.1 L744.6,491.1 L744.9,488.2 L745.1,487.6 L745.4,488.2 L745.6,486.0 L745.8,483.2 L746.1,483.2 L746.3,483.0 L746.6,481.4 L746.8,482.8 L747.0,481.9 L747.3,480.1 L747.5,477.2 L747.8,477.2 L748.0,478.0 L748.2,479.1 L748.5,478.1 L748.8,476.1 L749.0,476.0 L749.2,477.9 L749.5,477.5 L749.8,476.6 L750.0,475.7 L750.2,474.4 L750.5,473.7 L750.8,474.0 L751.0,473.6 L751.2,472.5 L751.5,473.2 L751.7,474.1 L751.9,473.5 L752.2,473.8 L752.4,473.6 L752.7,472.8 L752.9,475.4 L753.1,473.1 L753.4,473.5 L753.6,473.6 L753.8,475.3 L754.1,476.0 L754.3,478.5 L754.5,479.9 L754.8,481.5 L755.0,482.4 L755.2,482.7 L755.5,480.9 L755.8,480.9 L756.0,478.7 L756.2,476.9 L756.5,475.5 L756.8,475.1 L757.0,472.0 L757.2,472.1 L757.5,473.9 L757.8,475.5 L758.0,476.8 L758.2,475.8 L758.5,477.4 L758.8,479.5 L759.0,480.0 L759.2,479.4 L759.5,478.5 L759.8,477.6 L760.0,478.1 L760.2,476.5 L760.5,476.8 L760.8,476.2 L761.0,476.0 L761.2,476.4 L761.5,476.5 L761.7,477.4 L761.9,478.6 L762.2,478.7 L762.4,480.0 L762.6,479.6 L762.9,479.1 L763.1,477.5 L763.3,477.4 L763.6,476.2 L763.8,476.7 L764.1,474.2 L764.3,473.8 L764.5,474.0 L764.8,472.5 L765.0,472.4 L765.2,471.0 L765.5,470.5 L765.8,469.8 L766.0,470.6 L766.2,470.8 L766.5,470.0 L766.8,468.8 L767.0,469.0 L767.2,469.3 L767.5,469.5 L767.7,469.5 L767.9,472.7 L768.2,468.9 L768.4,470.2 L768.7,470.9 L768.9,472.2 L769.1,472.4 L769.4,474.0 L769.6,474.4 L769.8,474.4 L770.1,474.9 L770.3,475.6 L770.6,475.5 L770.8,473.3 L771.0,471.0 L771.3,471.8 L771.5,471.3 L771.8,471.9 L772.0,471.6 L772.2,470.9 L772.5,473.1 L772.8,472.3 L773.0,474.3 L773.2,470.9 L773.5,473.0 L773.8,472.0 L774.0,470.7 L774.2,470.2 L774.5,469.7 L774.8,470.5 L775.0,470.0 L775.2,468.8 L775.5,470.3 L775.8,468.3 L776.0,469.1 L776.2,469.7 L776.5,467.6 L776.8,468.4 L777.0,469.2 L777.2,471.1 L777.5,469.0 L777.8,467.5 L778.0,469.0 L778.2,469.9 L778.5,465.8 L778.7,465.9 L779.0,468.0 L779.2,468.1 L779.4,468.1 L779.7,467.6 L779.9,468.7 L780.2,469.6 L780.4,465.6 L780.6,465.8 L780.9,468.0 L781.1,465.9 L781.4,466.9 L781.6,467.6 L781.8,467.6 L782.1,468.5 L782.3,469.7 L782.6,468.8 L782.8,471.0 L783.0,470.4 L783.3,471.0 L783.5,470.8 L783.8,471.1 L784.0,470.0 L784.2,468.5 L784.5,469.4 L784.8,470.0 L785.0,470.0 L785.2,470.6 L785.5,467.7 L785.8,469.4 L786.0,469.3 L786.2,470.2 L786.5,467.4 L786.8,468.6 L787.0,469.0 L787.2,470.3 L787.5,468.8 L787.7,472.5 L787.9,472.6 L788.2,472.8 L788.4,473.3 L788.7,472.3 L788.9,475.6 L789.1,474.8 L789.4,474.1 L789.6,474.4 L789.8,475.4 L790.1,474.5 L790.3,471.8 L790.6,473.4 L790.8,472.7 L791.0,472.2 L791.3,473.2 L791.5,470.6 L791.8,472.1 L792.0,471.0 L792.2,470.2 L792.5,470.8 L792.8,472.2 L793.0,470.9 L793.2,470.3 L793.5,470.7 L793.8,471.9 L794.0,472.0 L794.2,472.4 L794.5,471.7 L794.8,473.2 L795.0,471.0 L795.2,471.1 L795.5,470.0 L795.8,470.9 L796.0,471.0 L796.2,473.2 L796.5,474.5 L796.7,472.7 L796.9,472.9 L797.1,476.4 L797.4,480.7 L797.6,480.0 L797.9,484.3 L798.1,488.7 L798.4,493.0 L798.6,492.1 L798.9,488.0 L799.1,487.5 L799.3,485.8 L799.5,486.1 L799.8,485.6 L800.0,483.6 L800.2,485.1 L800.5,482.3 L800.8,480.1 L801.0,482.2 L801.2,480.2 L801.5,481.0 L801.8,481.4 L802.0,481.0 L802.2,482.1 L802.5,484.2 L802.7,482.1 L802.9,485.3 L803.1,483.8 L803.4,485.6 L803.6,487.0 L803.9,488.7 L804.1,490.3 L804.4,492.0 L804.6,490.4 L804.9,489.7 L805.1,487.1 L805.3,484.4 L805.5,482.4 L805.8,481.8 L806.0,481.0 L806.2,480.1 L806.5,478.7 L806.8,479.8 L807.0,480.8 L807.2,481.0 L807.5,479.7 L807.8,478.4 L808.0,477.0 L808.2,478.6 L808.5,475.3 L808.7,475.5 L809.0,474.1 L809.2,470.7 L809.4,470.2 L809.7,471.1 L809.9,472.5 L810.2,470.6 L810.4,471.0 L810.6,472.4 L810.9,474.0 L811.1,476.6 L811.3,474.4 L811.6,473.3 L811.8,471.0 L812.1,475.8 L812.3,474.4 L812.5,478.8 L812.8,476.6 L813.0,477.0 L813.2,477.1 L813.5,475.7 L813.7,475.2 L813.9,474.0 L814.2,473.8 L814.4,472.2 L814.7,473.8 L814.9,470.6 L815.1,470.5 L815.4,472.1 L815.6,471.6 L815.8,470.8 L816.1,472.5 L816.3,476.2 L816.6,474.2 L816.8,476.6 L817.0,475.6 L817.3,475.8 L817.5,478.6 L817.8,478.7 L818.0,479.0 L818.2,477.5 L818.5,475.1 L818.8,475.4 L819.0,476.7 L819.2,473.3 L819.5,473.8 L819.8,472.1 L820.0,473.0 L820.2,475.1 L820.5,477.4 L820.7,478.1 L820.9,480.6 L821.1,478.9 L821.4,480.6 L821.6,482.0 L821.8,482.7 L822.1,484.5 L822.3,487.6 L822.5,487.2 L822.8,488.5 L823.0,489.0 L823.2,490.0 L823.5,489.7 L823.7,491.5 L823.9,491.7 L824.2,492.3 L824.4,493.6 L824.6,492.2 L824.9,491.0 L825.1,491.2 L825.3,490.2 L825.5,488.8 L825.8,490.1 L826.0,488.0 L826.2,487.4 L826.5,487.9 L826.7,489.9 L826.9,492.1 L827.1,495.3 L827.4,495.0 L827.6,497.0 L827.8,495.6 L828.1,490.6 L828.3,491.9 L828.5,491.0 L828.8,489.5 L829.0,489.0 L829.2,488.3 L829.5,487.6 L829.8,488.2 L830.0,485.7 L830.2,484.5 L830.5,483.5 L830.8,485.1 L831.0,483.0 L831.2,482.6 L831.5,481.8 L831.8,482.1 L832.0,480.1 L832.2,480.7 L832.5,477.5 L832.8,478.1 L833.0,477.0 L833.2,475.7 L833.5,476.9 L833.8,475.4 L834.0,474.8 L834.2,475.4 L834.5,475.0 L834.8,475.5 L835.0,474.0 L835.2,475.1 L835.5,474.5 L835.8,474.2 L836.0,471.5 L836.2,473.8 L836.5,472.3 L836.8,472.4 L837.0,471.6 L837.2,471.7 L837.5,472.1 L837.8,472.0 L838.0,472.4 L838.2,471.9 L838.5,473.1 L838.8,474.5 L839.0,472.1 L839.2,472.7 L839.5,471.4 L839.8,472.4 L840.0,473.8 L840.2,472.4 L840.5,471.7 L840.8,471.2 L841.0,471.0 L841.2,471.0 L841.5,472.7 L841.8,473.3 L842.0,473.5 L842.2,473.8 L842.5,473.5 L842.8,473.3 L843.0,473.6 L843.2,475.3 L843.5,475.1 L843.8,475.1 L844.0,473.2 L844.2,474.2 L844.5,475.3 L844.8,475.5 L845.0,475.0 L845.2,474.2 L845.5,472.4 L845.7,473.7 L845.9,472.4 L846.2,471.4 L846.4,470.5 L846.7,470.6 L846.9,470.0 L847.1,470.7 L847.4,470.7 L847.6,470.0 L847.8,470.3 L848.1,471.0 L848.3,469.0 L848.6,468.6 L848.8,470.8 L849.0,468.0 L849.3,469.9 L849.5,469.1 L849.8,470.1 L850.0,471.0 L850.2,472.1 L850.5,474.3 L850.7,476.1 L850.9,475.5 L851.1,479.6 L851.4,479.5 L851.6,480.0 L851.9,477.3 L852.1,474.7 L852.4,472.0 L852.6,470.6 L852.9,470.8 L853.1,470.3 L853.4,468.5 L853.6,467.5 L853.9,465.7 L854.1,465.7 L854.4,465.0 L854.6,465.3 L854.9,463.4 L855.1,461.5 L855.4,463.9 L855.6,463.1 L855.9,462.9 L856.1,462.4 L856.4,461.4 L856.6,466.0 L856.9,464.5 L857.1,463.0 L857.4,462.8 L857.6,462.0 L857.8,463.6 L858.1,463.4 L858.3,462.4 L858.6,463.5 L858.8,464.4 L859.1,462.5 L859.3,462.6 L859.5,464.1 L859.8,462.0 L860.0,463.1 L860.3,460.2 L860.5,461.4 L860.8,461.4 L861.0,461.0 L861.2,459.9 L861.5,463.0 L861.8,460.9 L862.0,462.1 L862.2,461.4 L862.5,464.3 L862.8,464.0 L863.0,464.4 L863.2,462.3 L863.5,462.7 L863.8,463.4 L864.0,462.4 L864.2,462.0 L864.5,464.1 L864.8,465.3 L865.0,465.4 L865.2,465.8 L865.5,465.7 L865.8,466.9 L866.0,467.0 L866.2,467.5 L866.5,466.4 L866.8,464.6 L867.0,462.5 L867.2,463.7 L867.5,463.5 L867.8,462.8 L868.0,463.0 L868.2,461.9 L868.5,463.0 L868.8,462.1 L869.0,463.2 L869.2,463.8 L869.5,462.5 L869.8,463.8 L870.0,465.2 L870.2,464.7 L870.5,465.0 L870.8,466.5 L871.0,465.6 L871.2,466.9 L871.5,467.5 L871.8,465.7 L872.0,466.4 L872.2,466.5 L872.5,467.6 L872.8,468.3 L873.0,467.0 L873.2,468.0 L873.5,469.0 L873.8,470.0 L874.0,471.0 L874.2,469.8 L874.5,467.9 L874.7,467.1 L874.9,466.3 L875.1,466.1 L875.4,464.7 L875.6,464.0 L875.9,463.5 L876.1,462.9 L876.4,462.6 L876.6,462.5 L876.9,461.7 L877.1,461.2 L877.4,460.2 L877.6,459.6 L877.8,459.1 L878.1,459.5 L878.3,457.1 L878.6,457.7 L878.8,455.8 L879.0,456.8 L879.3,455.2 L879.5,454.3 L879.8,455.2 L880.0,454.0 L880.2,453.7 L880.5,453.5 L880.7,453.0 L881.0,452.2 L881.2,452.7 L881.4,453.8 L881.7,454.1 L881.9,456.0 L882.2,454.8 L882.4,455.6 L882.6,454.2 L882.9,454.6 L883.1,454.3 L883.3,454.7 L883.6,453.7 L883.8,454.6 L884.1,455.5 L884.3,454.0 L884.5,455.7 L884.8,454.7 L885.0,454.0 L885.2,452.1 L885.5,453.2 L885.8,454.2 L886.0,454.7 L886.2,455.4 L886.5,454.4 L886.8,453.3 L887.0,451.7 L887.2,453.7 L887.5,452.7 L887.8,451.7 L888.0,452.0 L888.2,451.2 L888.5,451.0 L888.8,450.5 L889.0,450.9 L889.2,451.7 L889.5,450.8 L889.8,450.9 L890.0,450.0 L890.2,449.4 L890.5,449.0 L890.7,446.7 L891.0,446.2 L891.2,445.3 L891.4,445.3 L891.7,444.8 L891.9,445.3 L892.2,444.1 L892.4,444.0 L892.6,444.2 L892.9,443.7 L893.1,444.0 L893.3,444.1 L893.6,443.8 L893.8,444.1 L894.1,443.9 L894.3,443.0 L894.5,443.6 L894.8,443.3 L895.0,441.0 L895.2,442.2 L895.5,441.5 L895.7,441.9 L895.9,443.9 L896.2,442.2 L896.4,443.9 L896.7,443.5 L896.9,444.5 L897.1,445.0 L897.4,445.0 L897.6,444.0 L897.8,443.0 L898.1,444.5 L898.3,445.0 L898.6,444.0 L898.8,443.1 L899.1,442.3 L899.3,443.6 L899.5,444.2 L899.8,442.1 L900.0,444.0 L900.3,442.9 L900.5,446.1 L900.8,444.7 L901.0,445.6 L901.2,445.3 L901.5,445.4 L901.8,445.8 L902.0,445.0 L902.2,445.1 L902.5,445.0 L902.8,443.7 L903.0,444.0 L903.2,443.4 L903.5,445.1 L903.8,443.1 L904.0,442.5 L904.2,443.0 L904.5,442.1 L904.8,441.2 L905.0,441.9 L905.2,442.0 L905.5,441.6 L905.8,440.1 L906.0,440.0 L906.2,440.5 L906.5,440.1 L906.8,439.9 L907.0,441.7 L907.2,441.8 L907.5,442.0 L907.8,442.9 L908.0,443.6 L908.2,443.2 L908.5,441.2 L908.7,441.9 L909.0,441.7 L909.2,440.8 L909.4,439.3 L909.7,439.2 L909.9,437.8 L910.2,437.6 L910.4,438.0 L910.6,436.9 L910.9,436.9 L911.1,437.9 L911.3,438.1 L911.6,438.3 L911.8,437.0 L912.1,436.1 L912.3,436.2 L912.5,435.0 L912.8,435.7 L913.0,435.6 L913.2,436.4 L913.5,436.0 L913.7,436.4 L913.9,437.4 L914.2,437.5 L914.4,436.7 L914.7,436.8 L914.9,436.4 L915.1,436.9 L915.4,438.3 L915.6,438.0 L915.8,436.2 L916.1,436.0 L916.3,436.4 L916.6,435.6 L916.8,434.8 L917.0,434.3 L917.3,435.6 L917.5,434.3 L917.8,434.6 L918.0,435.0 L918.2,435.0 L918.5,434.8 L918.8,433.6 L919.0,432.7 L919.2,432.3 L919.5,432.2 L919.8,432.4 L920.0,432.0 L920.2,432.1 L920.5,431.6 L920.7,432.2 L921.0,431.2 L921.2,431.8 L921.4,433.3 L921.7,434.7 L921.9,433.3 L922.2,434.4 L922.4,434.0 L922.6,434.7 L922.9,433.4 L923.1,434.9 L923.3,434.8 L923.6,435.7 L923.8,435.7 L924.1,435.8 L924.3,437.1 L924.5,436.2 L924.8,436.7 L925.0,437.0 L925.2,436.7 L925.5,434.6 L925.8,435.5 L926.0,435.2 L926.2,434.7 L926.5,435.2 L926.8,433.7 L927.0,433.5 L927.2,433.9 L927.5,432.7 L927.8,432.5 L928.0,433.6 L928.2,433.5 L928.5,432.3 L928.8,431.0 L929.0,430.9 L929.2,432.3 L929.5,432.9 L929.8,430.9 L930.0,429.4 L930.2,430.7 L930.5,429.2 L930.8,430.0 L931.0,429.0 L931.2,428.7 L931.5,429.6 L931.8,428.3 L932.0,427.7 L932.2,428.1 L932.5,428.2 L932.8,427.4 L933.0,426.2 L933.2,427.0 L933.5,424.9 L933.8,426.7 L934.0,425.0 L934.2,425.4 L934.5,424.7 L934.8,422.7 L935.0,423.3 L935.2,423.9 L935.5,423.4 L935.8,422.5 L936.0,422.9 L936.2,422.5 L936.5,422.4 L936.8,422.5 L937.0,422.0 L937.2,422.3 L937.5,421.6 L937.7,420.8 L937.9,422.6 L938.2,421.1 L938.4,422.0 L938.7,421.9 L938.9,422.1 L939.1,422.8 L939.4,422.1 L939.6,422.4 L939.8,421.6 L940.1,421.7 L940.3,421.8 L940.5,421.8 L940.8,419.1 L941.0,418.0 L941.2,418.3 L941.5,418.2 L941.7,417.6 L941.9,417.6 L942.2,417.1 L942.4,417.0 L942.6,416.8 L942.9,417.8 L943.1,417.2 L943.3,415.5 L943.6,415.6 L943.8,414.7 L944.1,414.8 L944.3,414.1 L944.5,412.8 L944.8,413.5 L945.0,413.6 L945.2,412.6 L945.5,413.5 L945.8,412.5 L946.0,413.0 L946.2,413.4 L946.5,413.7 L946.8,412.4 L947.0,410.9 L947.2,412.2 L947.5,410.2 L947.8,411.2 L948.0,410.0 L948.2,408.3 L948.5,409.5 L948.7,407.2 L949.0,405.3 L949.2,405.4 L949.4,404.2 L949.7,403.3 L949.9,402.2 L950.2,402.5 L950.4,401.0 L950.6,400.2 L950.9,398.7 L951.1,398.7 L951.4,396.1 L951.6,395.8 L951.9,395.5 L952.1,393.6 L952.4,392.4 L952.6,395.4 L952.9,399.0 L953.1,401.6 L953.4,405.7 L953.6,408.0 L953.9,411.2 L954.1,414.5 L954.4,417.8 L954.6,421.0 L954.8,419.2 L955.1,417.8 L955.3,414.6 L955.5,412.1 L955.8,411.3 L956.0,409.0 L956.2,408.9 L956.5,407.3 L956.8,406.0 L957.0,404.2 L957.2,402.9 L957.5,403.4 L957.8,403.0 L958.0,401.0 L958.2,400.6 L958.5,401.0 L958.8,402.4 L959.0,402.5 L959.2,401.1 L959.5,401.9 L959.8,401.0 L960.0,402.4 L960.2,405.2 L960.5,407.4 L960.8,410.1 L961.0,413.1 L961.2,415.8 L961.5,417.9 L961.8,419.1 L962.0,421.0 L962.2,419.5 L962.5,420.0 L962.8,420.5 L963.0,418.5 L963.2,418.1 L963.5,418.2 L963.8,417.5 L964.0,417.0 L964.2,416.3 L964.5,415.3 L964.8,414.7 L965.0,413.7 L965.2,413.2 L965.5,410.7 L965.8,409.3 L966.0,409.0 L966.2,408.6 L966.5,411.4 L966.8,410.8 L967.0,411.8 L967.2,412.3 L967.5,411.9 L967.8,414.4 L968.0,415.0 L968.2,413.8 L968.5,413.7 L968.8,412.5 L969.0,411.6 L969.2,411.5 L969.5,410.7 L969.8,411.3 L970.0,410.0 L970.2,409.5 L970.5,408.7 L970.8,408.1 L971.0,407.5 L971.2,407.2 L971.5,408.0 L971.8,407.2 L972.0,406.0 L972.2,406.9 L972.5,406.7 L972.7,407.2 L973.0,406.5 L973.2,409.1 L973.4,407.4 L973.7,407.4 L973.9,408.4 L974.2,409.7 L974.4,409.0 L974.6,408.4 L974.9,408.4 L975.1,406.6 L975.4,405.3 L975.6,403.6 L975.9,403.8 L976.1,403.0 L976.4,401.0 L976.6,402.1 L976.9,402.2 L977.1,401.9 L977.3,403.2 L977.6,403.3 L977.8,405.7 L978.1,404.7 L978.3,405.2 L978.5,405.9 L978.8,407.5 L979.0,408.0 L979.2,406.6 L979.5,405.4 L979.8,404.3 L980.0,404.4 L980.2,402.5 L980.5,402.8 L980.8,401.5 L981.0,400.0 L981.2,400.2 L981.5,399.8 L981.8,400.7 L982.0,398.2 L982.2,398.1 L982.5,398.7 L982.8,397.5 L983.0,397.3 L983.2,397.3 L983.5,396.3 L983.8,395.9 L984.0,396.0 L984.2,395.9 L984.5,394.2 L984.8,394.8 L985.0,395.2 L985.2,393.4 L985.5,394.5 L985.8,394.1 L986.0,394.5 L986.2,392.8 L986.5,391.8 L986.8,393.3 L987.0,394.0 L987.2,395.7 L987.5,394.4 L987.8,393.7 L988.0,394.2 L988.2,392.9 L988.5,393.4 L988.8,391.2 L989.0,390.4 L989.2,390.7 L989.5,391.0 L989.8,390.4 L990.0,389.0 L990.2,390.0 L990.5,389.3 L990.8,389.1 L991.0,390.4 L991.2,390.7 L991.5,389.7 L991.8,389.1 L992.0,390.0 L992.2,388.6 L992.5,387.6 L992.7,387.0 L992.9,387.9 L993.1,386.8 L993.4,388.2 L993.6,387.0 L993.9,385.8 L994.1,386.5 L994.4,386.7 L994.6,388.4 L994.9,386.9 L995.1,389.5 L995.4,388.0 L995.6,389.0 L995.8,390.8 L996.1,392.4 L996.3,395.7 L996.5,395.5 L996.8,399.1 L997.0,400.0 L997.2,401.3 L997.5,402.2 L997.7,404.9 L997.9,405.5 L998.2,406.6 L998.4,408.0 L998.6,408.7 L998.9,410.1 L999.1,411.4 L999.4,413.0 L999.6,414.0 L999.8,411.6 L1000.1,408.3 L1000.3,407.8 L1000.5,405.2 L1000.8,401.9 L1001.0,400.0 L1001.2,402.1 L1001.5,403.8 L1001.7,405.0 L1001.9,407.7 L1002.2,410.5 L1002.4,413.0 L1002.6,412.5 L1002.9,411.9 L1003.1,406.7 L1003.4,408.0 L1003.6,404.0 L1003.8,407.0 L1004.1,408.8 L1004.3,410.9 L1004.5,410.0 L1004.8,414.1 L1005.0,416.0 L1005.2,412.5 L1005.5,409.0 L1005.8,405.5 L1006.0,402.0 L1006.2,405.1 L1006.5,405.6 L1006.7,409.5 L1006.9,413.0 L1007.1,411.5 L1007.4,415.1 L1007.6,416.0 L1007.8,419.1 L1008.1,420.8 L1008.3,425.4 L1008.5,430.2 L1008.8,432.6 L1009.0,434.0 L1009.2,436.5 L1009.5,439.0 L1009.8,441.5 L1010.0,444.0 L1010.2,442.3 L1010.5,441.5 L1010.7,438.2 L1010.9,437.8 L1011.1,434.3 L1011.4,433.1 L1011.6,432.0 L1011.8,430.9 L1012.1,427.8 L1012.3,425.8 L1012.5,426.1 L1012.8,424.2 L1013.0,420.0 L1013.2,419.9 L1013.5,416.5 L1013.8,417.3 L1014.0,415.2 L1014.2,415.9 L1014.5,415.3 L1014.8,413.8 L1015.0,412.0 L1015.2,411.3 L1015.5,412.2 L1015.7,411.8 L1015.9,408.0 L1016.2,408.1 L1016.4,407.4 L1016.7,406.0 L1016.9,405.9 L1017.1,406.6 L1017.4,404.1 L1017.6,404.0 L1017.8,403.3 L1018.1,405.0 L1018.3,401.0 L1018.6,402.2 L1018.8,399.5 L1019.0,401.2 L1019.3,400.3 L1019.5,398.6 L1019.8,400.9 L1020.0,400.0 L1020.2,401.2 L1020.5,399.9 L1020.7,400.7 L1021.0,402.0 L1021.2,401.5 L1021.4,401.0 L1021.7,399.9 L1021.9,399.6 L1022.2,399.4 L1022.4,398.0 L1022.6,398.4 L1022.9,400.8 L1023.1,402.3 L1023.4,404.4 L1023.6,405.0 L1023.9,403.4 L1024.1,404.0 L1024.3,403.4 L1024.6,400.8 L1024.8,400.1 L1025.1,397.4 L1025.3,397.8 L1025.6,396.0 L1025.8,395.0 L1026.1,394.5 L1026.3,392.5 L1026.6,392.9 L1026.8,392.1 L1027.0,391.5 L1027.3,391.4 L1027.5,392.3 L1027.8,391.8 L1028.0,391.0 L1028.2,388.7 L1028.5,390.2 L1028.7,386.3 L1029.0,388.1 L1029.2,387.0 L1029.4,388.0 L1029.7,384.6 L1029.9,384.7 L1030.2,385.0 L1030.4,385.0 L1030.7,384.7 L1030.9,384.8 L1031.2,384.3 L1031.4,385.3 L1031.7,385.5 L1031.9,385.1 L1032.2,386.6 L1032.4,388.0 L1032.7,389.1 L1032.9,388.7 L1033.2,391.1 L1033.4,393.3 L1033.7,391.5 L1033.9,393.7 L1034.2,395.4 L1034.4,396.0 L1034.6,398.2 L1034.9,396.9 L1035.1,398.6 L1035.3,397.6 L1035.6,399.0 L1035.8,397.9 L1036.1,401.4 L1036.3,402.7 L1036.5,403.0 L1036.8,403.7 L1037.0,404.0 L1037.2,401.4 L1037.5,398.8 L1037.7,399.5 L1037.9,400.1 L1038.2,399.0 L1038.4,398.0 L1038.6,397.1 L1038.9,398.6 L1039.1,394.6 L1039.3,394.0 L1039.6,393.7 L1039.8,394.0 L1040.1,392.5 L1040.3,391.7 L1040.5,390.3 L1040.8,390.6 L1041.0,388.0 L1041.2,389.9 L1041.5,388.0 L1041.7,385.2 L1041.9,387.6 L1042.2,386.2 L1042.4,382.7 L1042.7,383.1 L1042.9,381.9 L1043.1,382.9 L1043.4,380.3 L1043.6,380.0 L1043.8,379.7 L1044.1,378.1 L1044.3,378.3 L1044.6,378.1 L1044.8,378.0 L1045.1,376.4 L1045.3,379.4 L1045.5,377.5 L1045.8,379.4 L1046.0,379.0 L1046.3,376.3 L1046.5,375.2 L1046.8,377.0 L1047.0,377.0 L1047.2,377.6 L1047.5,379.2 L1047.7,382.4 L1047.9,382.0 L1048.2,385.6 L1048.4,386.0 L1048.6,386.2 L1048.9,390.0 L1049.1,389.6 L1049.3,392.7 L1049.5,393.4 L1049.8,393.9 L1050.0,395.0 L1050.2,396.8 L1050.5,394.6 L1050.7,395.5 L1050.9,397.9 L1051.1,395.3 L1051.4,392.2 L1051.6,394.0 L1051.8,393.1 L1052.1,392.3 L1052.3,392.8 L1052.6,392.5 L1052.8,387.2 L1053.1,390.6 L1053.3,389.4 L1053.6,389.0 L1053.8,385.7 L1054.1,383.9 L1054.3,383.8 L1054.6,384.2 L1054.8,381.5 L1055.1,378.9 L1055.3,381.8 L1055.6,379.0 L1055.8,378.2 L1056.1,376.8 L1056.3,378.4 L1056.6,382.5 L1056.8,384.2 L1057.0,384.0 L1057.3,379.8 L1057.5,383.0 L1057.8,383.9 L1058.0,383.0 L1058.2,381.7 L1058.5,384.5 L1058.7,387.4 L1058.9,386.4 L1059.1,390.0 L1059.4,387.2 L1059.6,390.0 L1059.8,388.6 L1060.1,389.7 L1060.3,388.1 L1060.6,392.0 L1060.8,387.7 L1061.1,382.1 L1061.3,384.8 L1061.6,382.0 L1061.8,383.2 L1062.1,377.5 L1062.3,376.8 L1062.6,378.1 L1062.8,373.2 L1063.0,376.0 L1063.3,373.6 L1063.5,376.5 L1063.8,375.4 L1064.0,374.0 L1064.2,371.1 L1064.5,373.3 L1064.8,377.4 L1065.0,369.7 L1065.2,377.3 L1065.5,376.1 L1065.8,379.0 L1066.0,370.7 L1066.2,368.1 L1066.5,374.1 L1066.8,373.6 L1067.0,368.0 L1067.2,366.9 L1067.5,365.3 L1067.7,370.1 L1067.9,370.2 L1068.2,366.8 L1068.4,365.5 L1068.7,363.3 L1068.9,367.9 L1069.1,369.4 L1069.4,371.3 L1069.6,369.0 L1069.8,368.1 L1070.1,365.1 L1070.3,364.0 L1070.6,362.5 L1070.8,363.8 L1071.0,363.4 L1071.3,363.2 L1071.5,361.8 L1071.8,361.0 L1072.0,360.0 L1072.2,360.6 L1072.5,360.0 L1072.8,359.2 L1073.0,358.4 L1073.2,358.0 L1073.5,357.7 L1073.8,359.6 L1074.0,355.4 L1074.2,355.9 L1074.5,357.3 L1074.8,356.5 L1075.0,354.0 L1075.2,354.2 L1075.5,351.9 L1075.8,352.8 L1076.0,352.9 L1076.2,352.0 L1076.5,351.1 L1076.8,349.4 L1077.0,348.0 L1077.2,347.4 L1077.5,349.0 L1077.8,348.2 L1078.0,349.0 L1078.2,347.0 L1078.5,347.6 L1078.8,350.2 L1079.0,349.0 L1079.2,350.5 L1079.5,352.0 L1079.8,353.5 L1080.0,355.0 L1080.2,353.2 L1080.5,352.7 L1080.8,351.0 L1081.0,348.8 L1081.2,345.9 L1081.5,345.4 L1081.8,343.0 L1082.0,341.0 L1082.2,341.0 L1082.5,343.6 L1082.7,344.0 L1082.9,344.0 L1083.1,343.7 L1083.4,344.5 L1083.6,346.0 L1083.9,352.0 L1084.1,358.0 L1084.4,364.0 L1084.6,367.6 L1084.9,378.7 L1085.1,381.3 L1085.4,385.6 L1085.6,384.0 L1085.9,392.7 L1086.1,401.3 L1086.4,410.0 L1086.7,415.5 L1086.9,421.0 L1087.2,426.5 L1087.4,432.0 L1087.7,439.0 L1088.0,446.0 L1088.2,448.5 L1088.5,451.0 L1088.8,453.5 L1089.0,456.0 L1089.2,451.0 L1089.5,446.0 L1089.8,441.0 L1090.0,436.0 L1090.2,435.2 L1090.5,434.5 L1090.8,433.8 L1091.0,433.0 L1091.2,427.2 L1091.5,421.5 L1091.8,415.8 L1092.0,410.0 L1092.2,407.5 L1092.5,405.0 L1092.8,402.5 L1093.0,400.0 L1093.2,391.0 L1093.5,396.1 L1093.7,398.8 L1093.9,397.5 L1094.2,399.6 L1094.4,404.0 L1094.6,404.8 L1094.9,403.2 L1095.1,411.1 L1095.3,404.0 L1095.5,398.1 L1095.8,395.6 L1096.0,392.0 L1096.2,396.0 L1096.5,397.5 L1096.7,396.6 L1096.9,396.4 L1097.1,396.2 L1097.4,395.2 L1097.6,396.0 L1097.8,392.7 L1098.1,391.8 L1098.3,386.8 L1098.5,385.7 L1098.8,385.2 L1099.0,384.0 L1099.2,383.6 L1099.5,380.5 L1099.8,377.2 L1100.0,370.5 L1100.2,372.1 L1100.5,372.9 L1100.8,368.4 L1101.0,368.0 L1101.2,373.9 L1101.5,377.5 L1101.7,376.4 L1101.9,372.3 L1102.2,376.4 L1102.4,378.0 L1102.6,377.7 L1102.9,378.0 L1103.1,381.5 L1103.3,375.1 L1103.5,370.7 L1103.8,369.8 L1104.0,370.0 L1104.2,370.7 L1104.5,377.7 L1104.7,373.6 L1104.9,375.3 L1105.1,379.2 L1105.4,376.5 L1105.6,378.0 L1105.8,374.0 L1106.1,370.4 L1106.3,371.1 L1106.5,369.3 L1106.8,366.1 L1107.0,364.0 L1107.2,368.2 L1107.5,365.1 L1107.7,364.8 L1107.9,361.6 L1108.2,360.7 L1108.4,358.0 L1108.6,359.6 L1108.9,353.0 L1109.1,351.4 L1109.3,356.5 L1109.6,351.3 L1109.8,349.8 L1110.1,349.4 L1110.3,356.1 L1110.5,353.7 L1110.8,350.3 L1111.0,349.0 L1111.2,346.5 L1111.5,350.7 L1111.7,346.6 L1111.9,348.1 L1112.2,341.6 L1112.4,349.7 L1112.7,348.7 L1112.9,340.6 L1113.1,344.6 L1113.4,349.9 L1113.6,340.0 L1113.8,339.8 L1114.1,340.6 L1114.3,340.3 L1114.6,340.0 L1114.8,339.8 L1115.1,337.6 L1115.3,339.0 L1115.6,337.0 L1115.8,337.0 L1116.1,337.7 L1116.3,332.6 L1116.5,336.5 L1116.8,333.2 L1117.0,332.0 L1117.2,334.1 L1117.5,340.3 L1117.8,338.9 L1118.0,338.7 L1118.2,341.8 L1118.5,343.6 L1118.8,343.7 L1119.0,345.0 L1119.2,346.9 L1119.5,348.2 L1119.8,348.1 L1120.0,345.2 L1120.2,352.7 L1120.5,353.4 L1120.8,351.7 L1121.0,355.0 L1121.2,352.7 L1121.5,348.3 L1121.7,345.5 L1121.9,346.8 L1122.2,344.3 L1122.4,340.0 L1122.6,341.5 L1122.9,339.5 L1123.1,341.5 L1123.3,342.4 L1123.5,342.7 L1123.8,339.9 L1124.0,338.0 L1124.2,334.3 L1124.5,335.4 L1124.7,334.6 L1124.9,335.3 L1125.1,331.0 L1125.4,331.6 L1125.6,332.0 L1125.8,335.7 L1126.1,340.9 L1126.3,341.2 L1126.5,343.5 L1126.7,349.1 L1127.0,348.4 L1127.2,352.0 L1127.4,348.2 L1127.7,342.8 L1127.9,339.7 L1128.2,335.9 L1128.4,332.0 L1128.6,331.4 L1128.9,326.9 L1129.1,329.2 L1129.3,326.2 L1129.6,326.9 L1129.8,324.4 L1130.1,324.5 L1130.3,319.5 L1130.5,315.0 L1130.8,311.9 L1131.0,312.0 L1131.2,313.5 L1131.5,310.2 L1131.8,308.8 L1132.0,304.3 L1132.2,306.8 L1132.5,310.1 L1132.8,306.8 L1133.0,304.7 L1133.2,305.5 L1133.5,307.7 L1133.8,306.4 L1134.0,307.0 L1134.2,308.8 L1134.5,307.9 L1134.8,306.1 L1135.0,304.6 L1135.2,312.0 L1135.5,307.0 L1135.8,306.9 L1136.0,307.6 L1136.2,306.3 L1136.5,299.0 L1136.8,303.3 L1137.0,304.0 L1137.2,300.4 L1137.5,306.4 L1137.8,302.4 L1138.0,301.6 L1138.2,300.3 L1138.5,299.3 L1138.8,300.6 L1139.0,296.0 L1139.2,298.2 L1139.5,297.0 L1139.8,295.5 L1140.0,296.3 L1140.2,294.9 L1140.5,297.7 L1140.8,295.2 L1141.0,294.0 L1141.2,292.9 L1141.5,297.5 L1141.8,296.4 L1142.0,301.2 L1142.2,303.0 L1142.5,302.0 L1142.8,305.7 L1143.0,306.0 L1143.2,304.2 L1143.5,300.9 L1143.8,299.1 L1144.0,298.7 L1144.2,299.4 L1144.5,292.9 L1144.8,292.6 L1145.0,292.3 L1145.2,290.9 L1145.5,286.8 L1145.8,288.0 L1146.0,286.0 L1146.2,288.2 L1146.5,292.6 L1146.7,294.6 L1147.0,291.1 L1147.2,294.6 L1147.4,293.5 L1147.7,295.2 L1147.9,297.5 L1148.2,295.7 L1148.4,300.0 L1148.6,298.9 L1148.9,297.6 L1149.1,297.7 L1149.3,292.1 L1149.6,291.9 L1149.8,290.9 L1150.1,288.7 L1150.3,289.0 L1150.5,286.3 L1150.8,287.4 L1151.0,283.0 L1151.2,282.9 L1151.5,283.3 L1151.8,282.5 L1152.0,283.1 L1152.2,283.5 L1152.5,282.0 L1152.8,283.6 L1153.0,284.0 L1153.2,281.8 L1153.5,281.8 L1153.8,280.5 L1154.0,275.0 L1154.2,276.7 L1154.5,273.8 L1154.8,272.3 L1155.0,270.0 L1155.2,268.2 L1155.5,265.0 L1155.8,262.2 L1156.0,261.3 L1156.2,262.4 L1156.5,262.5 L1156.8,261.3 L1157.0,258.0 L1157.2,258.8 L1157.5,259.5 L1157.8,258.4 L1158.0,257.6 L1158.2,254.7 L1158.5,257.9 L1158.8,256.9 L1159.0,256.0 L1159.2,257.0 L1159.5,260.6 L1159.8,264.6 L1160.0,266.4 L1160.2,262.4 L1160.5,263.9 L1160.8,269.0 L1161.0,270.0 L1161.2,269.7 L1161.5,269.9 L1161.8,267.8 L1162.0,269.1 L1162.2,266.5 L1162.5,262.7 L1162.8,261.1 L1163.0,260.0 L1163.2,262.6 L1163.5,259.5 L1163.7,257.3 L1163.9,258.2 L1164.2,256.4 L1164.4,254.0 L1164.7,258.8 L1164.9,256.0 L1165.1,256.8 L1165.4,255.2 L1165.6,255.0 L1165.8,255.8 L1166.1,255.8 L1166.3,255.3 L1166.6,256.0 L1166.8,258.7 L1167.1,260.0 L1167.3,260.1 L1167.6,260.0 L1167.8,259.7 L1168.1,255.0 L1168.3,258.3 L1168.6,254.8 L1168.8,251.5 L1169.1,248.9 L1169.3,246.3 L1169.6,246.0 L1169.8,245.2 L1170.1,246.6 L1170.3,247.2 L1170.6,247.2 L1170.8,249.6 L1171.0,250.0 L1171.3,247.4 L1171.5,246.9 L1171.8,246.1 L1172.0,248.0 L1172.2,246.5 L1172.5,245.9 L1172.8,246.9 L1173.0,246.3 L1173.2,240.6 L1173.5,240.9 L1173.8,242.3 L1174.0,238.0 L1174.2,239.0 L1174.5,236.5 L1174.8,237.1 L1175.0,237.5 L1175.2,237.0 L1175.5,239.9 L1175.8,235.5 L1176.0,233.0 L1176.2,235.3 L1176.5,235.3 L1176.8,234.6 L1177.0,234.0 L1177.2,234.3 L1177.5,230.3 L1177.8,230.7 L1178.0,231.1 L1178.2,231.6 L1178.5,227.3 L1178.8,232.3 L1179.0,227.7 L1179.2,228.1 L1179.5,225.7 L1179.8,226.4 L1180.0,225.0 L1180.2,226.8 L1180.5,225.2 L1180.7,227.8 L1181.0,229.1 L1181.2,231.1 L1181.4,233.1 L1181.7,228.9 L1181.9,228.6 L1182.2,229.9 L1182.4,232.0 L1182.6,230.7 L1182.9,233.1 L1183.1,232.2 L1183.4,237.3 L1183.6,238.8 L1183.9,243.3 L1184.1,240.8 L1184.4,239.1 L1184.6,247.1 L1184.9,244.4 L1185.1,245.9 L1185.4,245.9 L1185.6,246.0 L1185.8,245.2 L1186.1,240.6 L1186.3,239.0 L1186.6,238.9 L1186.8,237.3 L1187.0,234.8 L1187.3,236.6 L1187.5,232.7 L1187.8,230.6 L1188.0,232.0 L1188.2,231.8 L1188.5,229.8 L1188.8,226.4 L1189.0,223.7 L1189.2,225.5 L1189.5,223.6 L1189.8,220.3 L1190.0,218.0 L1190.2,216.0 L1190.5,213.9 L1190.8,211.0 L1191.0,212.8 L1191.2,216.2 L1191.5,213.5 L1191.8,209.2 L1192.0,209.0 L1192.2,208.2 L1192.5,209.7 L1192.8,207.3 L1193.0,210.2 L1193.2,211.5 L1193.5,213.5 L1193.8,213.6 L1194.0,207.0 L1194.2,208.1 L1194.5,206.1 L1194.8,207.2 L1195.0,208.0 L1195.2,210.8 L1195.5,214.9 L1195.7,217.6 L1195.9,222.8 L1196.2,222.2 L1196.4,224.0 L1196.6,220.2 L1196.9,215.8 L1197.1,218.1 L1197.3,214.9 L1197.5,210.5 L1197.8,211.0 L1198.0,208.0 L1198.2,208.4 L1198.5,205.3 L1198.8,204.3 L1199.0,206.2 L1199.2,201.3 L1199.5,200.0 L1199.8,199.3 L1200.0,202.0 L1200.2,204.8 L1200.5,204.3 L1200.7,203.2 L1200.9,204.0 L1201.1,204.7 L1201.4,200.8 L1201.6,199.0 L1201.8,199.6 L1202.1,197.5 L1202.3,197.6 L1202.5,203.7 L1202.8,201.3 L1203.0,206.0 L1203.2,209.4 L1203.5,213.2 L1203.7,216.7 L1203.9,219.3 L1204.2,221.1 L1204.4,224.0 L1204.6,228.3 L1204.9,228.8 L1205.1,233.3 L1205.3,235.0 L1205.5,240.0 L1205.8,240.4 L1206.0,242.0 L1206.2,237.5 L1206.5,233.4 L1206.7,227.9 L1206.9,232.7 L1207.1,222.3 L1207.4,222.0 L1207.6,220.0 L1207.8,223.8 L1208.1,224.7 L1208.3,227.2 L1208.6,234.6 L1208.8,234.1 L1209.1,238.3 L1209.3,243.4 L1209.6,242.0 L1209.8,243.5 L1210.1,242.6 L1210.3,247.8 L1210.6,247.6 L1210.8,252.0 L1211.1,247.3 L1211.3,250.0 L1211.6,252.0 L1211.8,247.8 L1212.1,250.3 L1212.3,249.3 L1212.5,253.9 L1212.7,253.7 L1213.0,255.2 L1213.2,260.0 L1213.5,260.0 L1213.7,255.1 L1214.0,255.2 L1214.2,247.6 L1214.5,247.4 L1214.7,243.3 L1215.0,236.0 L1215.2,227.9 L1215.5,225.6 L1215.8,228.3 L1216.0,224.4 L1216.2,224.6 L1216.5,222.2 L1216.8,218.5 L1217.0,216.0 L1217.2,222.6 L1217.5,221.5 L1217.8,219.0 L1218.0,226.3 L1218.2,230.0 L1218.5,232.7 L1218.8,234.0 L1219.0,234.0 L1219.2,238.9 L1219.5,233.1 L1219.8,238.5 L1220.0,233.8 L1220.2,245.2 L1220.5,247.3 L1220.8,244.7 L1221.0,242.0 L1221.2,249.2 L1221.5,252.5 L1221.8,253.2 L1222.0,259.9 L1222.2,260.1 L1222.5,260.1 L1222.8,261.2 L1223.0,264.0 L1223.2,268.8 L1223.5,270.8 L1223.8,271.5 L1224.0,277.2 L1224.2,278.5 L1224.5,280.0 L1224.8,285.4 L1225.0,286.0 L1225.2,285.4 L1225.5,280.4 L1225.8,280.9 L1226.0,275.4 L1226.2,275.0 L1226.5,271.0 L1226.8,267.3 L1227.0,262.0 L1227.2,262.3 L1227.5,270.7 L1227.8,278.9 L1228.0,277.5 L1228.2,280.4 L1228.5,282.2 L1228.8,279.7 L1229.0,288.0 L1229.2,294.5 L1229.5,296.2 L1229.7,297.4 L1229.9,302.3 L1230.2,309.9 L1230.4,310.0 L1230.6,308.5 L1230.9,301.0 L1231.1,296.6 L1231.3,297.2 L1231.5,294.8 L1231.8,293.6 L1232.0,290.0 L1232.2,286.8 L1232.5,287.1 L1232.7,290.9 L1233.0,295.2 L1233.2,289.7 L1233.4,292.9 L1233.7,300.3 L1233.9,301.6 L1234.2,297.2 L1234.4,296.0 L1234.7,292.2 L1234.9,291.0 L1235.2,290.8 L1235.4,284.3 L1235.7,288.6 L1235.9,286.8 L1236.2,284.8 L1236.4,280.0 L1236.7,280.6 L1236.9,277.0 L1237.2,268.7 L1237.4,276.5 L1237.7,271.5 L1237.9,267.5 L1238.2,265.0 L1238.4,264.0 L1238.6,264.6 L1238.9,259.6 L1239.1,260.7 L1239.3,252.2 L1239.6,256.3 L1239.8,259.3 L1240.1,252.2 L1240.3,253.6 L1240.5,258.1 L1240.8,252.5 L1241.0,249.0 L1241.2,251.9 L1241.5,251.4 L1241.8,255.4 L1242.0,257.2 L1242.2,261.5 L1242.5,264.8 L1242.8,265.9 L1243.0,268.0 L1243.2,271.3 L1243.5,264.0 L1243.8,270.0 L1244.0,272.7 L1244.2,276.7 L1244.5,276.0 L1244.8,281.2 L1245.0,280.0 L1245.2,287.1 L1245.5,284.7 L1245.8,279.3 L1246.0,289.8 L1246.2,288.4 L1246.5,289.9 L1246.8,293.5 L1247.0,296.0 L1247.2,296.9 L1247.5,295.2 L1247.8,301.1 L1248.0,303.7 L1248.2,308.9 L1248.5,313.2 L1248.8,310.0 L1249.0,312.0 L1249.2,314.9 L1249.5,315.1 L1249.7,320.0 L1249.9,315.3 L1250.1,316.2 L1250.4,316.8 L1250.6,320.0 L1250.9,316.4 L1251.1,315.9 L1251.4,312.1 L1251.6,311.4 L1251.9,307.7 L1252.1,306.1 L1252.4,300.0 L1252.6,296.9 L1252.9,298.0 L1253.1,294.2 L1253.3,293.6 L1253.5,289.6 L1253.8,287.5 L1254.0,290.0 L1254.2,292.3 L1254.5,288.4 L1254.8,288.1 L1255.0,285.5 L1255.2,292.4 L1255.5,284.8 L1255.8,285.8 L1256.0,284.5 L1256.2,281.6 L1256.5,275.5 L1256.8,275.3 L1257.0,280.0 L1257.2,279.5 L1257.5,279.2 L1257.7,282.8 L1257.9,273.4 L1258.2,269.7 L1258.4,275.9 L1258.7,271.4 L1258.9,273.4 L1259.1,267.1 L1259.4,272.7 L1259.6,272.0 L1259.8,271.0 L1260.1,272.7 L1260.3,275.8 L1260.6,273.8 L1260.8,280.9 L1261.1,282.1 L1261.3,278.4 L1261.6,280.0 L1261.8,277.1 L1262.1,279.6 L1262.3,275.9 L1262.6,282.7 L1262.8,282.6 L1263.0,293.2 L1263.3,290.0 L1263.5,291.9 L1263.8,297.4 L1264.0,298.0 L1264.2,297.0 L1264.5,296.8 L1264.8,292.9 L1265.0,287.5 L1265.2,293.3 L1265.5,287.2 L1265.8,286.6 L1266.0,290.0 L1266.2,289.4 L1266.5,287.7 L1266.8,285.6 L1267.0,283.9 L1267.2,281.1 L1267.5,279.4 L1267.8,279.2 L1268.0,278.0 L1268.2,273.6 L1268.5,275.3 L1268.7,269.8 L1268.9,271.1 L1269.2,270.1 L1269.4,272.2 L1269.7,267.8 L1269.9,269.5 L1270.1,262.4 L1270.4,263.5 L1270.6,261.0 L1270.8,262.6 L1271.1,263.0 L1271.3,263.1 L1271.6,266.5 L1271.8,264.7 L1272.0,265.5 L1272.3,265.6 L1272.5,266.5 L1272.8,266.6 L1273.0,268.0 L1273.2,269.1 L1273.5,268.7 L1273.8,269.4 L1274.0,273.1 L1274.2,271.3 L1274.5,276.7 L1274.8,278.8 L1275.0,280.0 L1275.2,282.7 L1275.5,287.3 L1275.8,284.9 L1276.0,284.9 L1276.2,285.5 L1276.5,287.8 L1276.8,290.1 L1277.0,291.0 L1277.2,287.7 L1277.5,289.0 L1277.8,287.0 L1278.0,281.3 L1278.2,284.0 L1278.5,279.5 L1278.8,282.4 L1279.0,280.0 L1279.2,278.5 L1279.5,275.7 L1279.8,275.3 L1280.0,272.4 L1280.2,271.2 L1280.5,268.9 L1280.8,269.6 L1281.0,268.0 L1281.2,268.2 L1281.5,267.9 L1281.7,268.1 L1281.9,267.8 L1282.2,267.0 L1282.4,268.6 L1282.7,263.3 L1282.9,266.7 L1283.1,261.5 L1283.4,267.0 L1283.6,264.0 L1283.8,266.0 L1284.1,265.7 L1284.3,267.2 L1284.6,263.5 L1284.8,267.2 L1285.1,266.2 L1285.3,270.1 L1285.6,270.0 L1285.8,269.3 L1286.1,266.0 L1286.3,263.5 L1286.6,267.0 L1286.8,264.1 L1287.1,262.4 L1287.3,263.0 L1287.6,262.0 L1287.8,260.3 L1288.1,258.6 L1288.3,257.8 L1288.6,256.2 L1288.8,258.6 L1289.0,261.2 L1289.3,262.4 L1289.5,257.6 L1289.8,261.5 L1290.0,260.0 L1290.2,257.3 L1290.5,256.6 L1290.8,253.7 L1291.0,253.8 L1291.2,254.3 L1291.5,248.2 L1291.8,251.1 L1292.0,246.0 L1292.2,245.1 L1292.5,243.0 L1292.8,243.9 L1293.0,241.3 L1293.2,242.9 L1293.5,243.6 L1293.8,239.1 L1294.0,238.0 L1294.2,239.7 L1294.5,239.0 L1294.8,236.2 L1295.0,236.7 L1295.2,239.4 L1295.5,237.5 L1295.8,241.9 L1296.0,240.0 L1296.2,237.6 L1296.5,232.9 L1296.8,234.3 L1297.0,230.6 L1297.2,230.8 L1297.5,232.7 L1297.8,232.1 L1298.0,228.0 L1298.2,224.5 L1298.5,222.6 L1298.8,228.0 L1299.0,221.9 L1299.2,220.2 L1299.5,220.0 L1299.8,218.8 L1300.0,217.9 L1300.2,220.2 L1300.5,219.4 L1300.8,220.3 L1301.0,220.0 L1301.2,220.0 L1301.5,221.6 L1301.8,224.2 L1302.0,227.6 L1302.2,229.8 L1302.5,230.8 L1302.8,225.6 L1303.0,228.0 L1303.2,228.7 L1303.5,228.3 L1303.8,232.6 L1304.0,234.6 L1304.2,238.0 L1304.5,238.5 L1304.8,237.9 L1305.0,238.0 L1305.2,236.5 L1305.5,233.8 L1305.8,232.7 L1306.0,233.0 L1306.2,229.8 L1306.5,233.3 L1306.8,230.4 L1307.0,228.0 L1307.2,230.8 L1307.5,228.1 L1307.8,234.5 L1308.0,231.1 L1308.2,231.4 L1308.5,233.3 L1308.8,233.9 L1309.0,233.9 L1309.2,234.2 L1309.5,233.3 L1309.8,234.4 L1310.0,234.0 L1310.2,236.6 L1310.5,238.8 L1310.8,242.5 L1311.0,240.2 L1311.2,245.2 L1311.5,244.0 L1311.8,247.8 L1312.0,248.0 L1312.2,247.4 L1312.5,249.2 L1312.8,249.7 L1313.0,250.7 L1313.2,249.7 L1313.5,247.9 L1313.8,250.1 L1314.0,252.0 L1314.2,251.4 L1314.5,252.1 L1314.7,249.5 L1314.9,250.1 L1315.1,246.4 L1315.4,243.9 L1315.6,244.0 L1315.8,246.5 L1316.1,250.7 L1316.3,257.1 L1316.5,258.9 L1316.8,259.5 L1317.0,265.0 L1317.2,262.6 L1317.5,259.1 L1317.7,257.2 L1317.9,253.1 L1318.2,248.8 L1318.4,246.0 L1318.6,245.2 L1318.9,244.1 L1319.1,239.0 L1319.3,238.5 L1319.5,235.2 L1319.8,236.7 L1320.0,234.0 L1320.2,232.7 L1320.5,231.3 L1320.8,230.5 L1321.0,229.9 L1321.2,226.1 L1321.5,226.6 L1321.8,224.3 L1322.0,222.0 L1322.2,219.7 L1322.5,219.5 L1322.8,220.1 L1323.0,217.4 L1323.2,215.6 L1323.5,216.4 L1323.8,215.4 L1324.0,218.0 L1324.2,216.2 L1324.5,214.9 L1324.8,216.8 L1325.0,211.1 L1325.2,208.3 L1325.5,207.3 L1325.8,207.9 L1326.0,204.0 L1326.2,203.6 L1326.5,203.4 L1326.8,204.1 L1327.0,198.7 L1327.2,204.5 L1327.5,202.7 L1327.8,206.0 L1328.0,206.0 L1328.2,201.0 L1328.5,198.2 L1328.8,198.3 L1329.0,200.3 L1329.2,200.2 L1329.5,203.6 L1329.8,199.6 L1330.0,200.0 L1330.2,200.9 L1330.5,198.0 L1330.8,197.7 L1331.0,199.0 L1331.2,198.2 L1331.5,200.2 L1331.8,197.5 L1332.0,196.0 L1332.2,194.6 L1332.5,191.0 L1332.7,190.4 L1332.9,188.9 L1333.1,185.6 L1333.4,184.8 L1333.6,182.0 L1333.8,181.1 L1334.1,180.5 L1334.3,181.6 L1334.6,180.9 L1334.8,178.4 L1335.0,177.3 L1335.3,176.4 L1335.5,177.3 L1335.8,179.3 L1336.0,178.0 L1336.3,173.6 L1336.5,177.8 L1336.8,178.4 L1337.0,179.8 L1337.3,173.6 L1337.5,174.8 L1337.8,177.0 L1338.0,177.0 L1338.3,173.7 L1338.6,172.3 L1338.8,170.9 L1339.1,169.6 L1339.4,167.2 L1339.6,167.7 L1339.8,167.6 L1340.1,167.3 L1340.3,165.5 L1340.6,164.5 L1340.8,167.1 L1341.1,164.7 L1341.3,165.2 L1341.6,163.8 L1341.8,161.2 L1342.1,159.9 L1342.3,161.2 L1342.5,158.9 L1342.8,158.9 L1343.1,157.0 L1343.3,155.1 L1343.6,153.2 L1343.9,156.2 L1344.2,159.2 L1344.4,162.2 L1344.7,164.1 L1344.9,162.1 L1345.2,166.7 L1345.4,166.9 L1345.7,169.6 L1345.9,171.1 L1346.1,171.6 L1346.4,175.4 L1346.6,175.9 L1346.8,174.6 L1347.1,178.4 L1347.3,176.1 L1347.5,174.3 L1347.8,173.5 L1348.0,171.9 L1348.2,175.3 L1348.5,172.1 L1348.7,174.0 L1348.9,173.7 L1349.2,171.4 L1349.4,173.3 L1349.7,169.3 L1349.9,171.6 L1350.2,172.5 L1350.4,169.6 L1350.7,165.5 L1351.0,161.4 L1351.2,157.3 L1351.5,154.1 L1351.7,151.0 L1352.0,147.8 L1352.2,144.6 L1352.4,146.9 L1352.7,145.6 L1352.9,145.1 L1353.1,144.7 L1353.4,148.2 L1353.6,143.4 L1353.8,145.8 L1354.1,146.8 L1354.3,143.0 L1354.6,145.3 L1354.8,143.2 L1355.1,142.6 L1355.3,140.1 L1355.6,137.7 L1355.9,135.2 L1356.2,133.0 L1356.4,130.8 L1356.7,128.6 L1357.0,128.1 L1357.2,126.8 L1357.4,129.4 L1357.7,130.3 L1357.9,127.8 L1358.2,129.3 L1358.4,124.5 L1358.6,128.8 L1358.9,131.2 L1359.1,127.3 L1359.3,127.9 L1359.6,129.5 L1359.8,125.1 L1360.1,120.7 L1360.4,116.4 L1360.6,116.2 L1360.9,114.3 L1361.1,111.5 L1361.4,110.3 L1361.6,110.6 L1361.9,110.0 L1362.1,112.8 L1362.4,109.5 L1362.6,108.5 L1362.8,109.0 L1363.1,111.5 L1363.4,113.9 L1363.7,116.4 L1363.9,119.4 L1364.2,117.8 L1364.4,122.9 L1364.7,122.1 L1364.9,123.7 L1365.1,124.3 L1365.4,128.4 L1365.6,127.4 L1365.9,130.2 L1366.1,131.9 L1366.4,129.5 L1366.7,127.0 L1366.9,124.6 L1367.2,121.8 L1367.5,119.1 L1367.8,116.4 L1368.0,115.4 L1368.3,113.9 L1368.5,112.6 L1368.7,114.2 L1369.0,112.3 L1369.2,113.8 L1369.5,114.3 L1369.7,111.5 L1369.9,117.6 L1370.2,112.4 L1370.4,112.9 L1370.6,110.6 L1370.9,111.4 L1371.1,113.8 L1371.4,112.0 L1371.6,116.0 L1371.9,115.6 L1372.0,117.3 L1372.3,112.7 L1372.6,108.9 L1372.8,108.8 L1373.1,112.1 L1373.3,107.2 L1373.6,108.2 L1373.8,106.6 L1374.1,105.1 L1374.3,103.6 L1374.6,102.0 L1374.8,103.6 L1375.1,103.1 L1375.4,99.6 L1375.6,97.0 L1375.9,101.9 L1376.1,98.3 L1376.4,98.4 L1376.6,99.0 L1376.9,99.3 L1377.1,99.8 L1377.4,94.1 L1377.7,95.8 L1377.9,91.1 L1378.2,90.8 L1378.4,90.4 L1378.7,90.1 L1378.9,89.7 L1379.2,89.3 L1379.4,88.8 L1379.7,91.1 L1379.9,93.7 L1380.2,92.0 L1380.5,92.2 L1380.7,93.9 L1381.0,91.3 L1381.2,88.8 L1381.5,86.2 L1381.7,83.7 L1382.0,81.6 L1382.2,79.6 L1382.5,77.6 L1382.8,75.5 L1383.0,75.1 L1383.3,74.5 L1383.5,76.8 L1383.8,77.1 L1384.0,79.7 L1384.3,77.6 L1384.5,76.5 L1384.8,73.7 L1385.1,74.6 L1385.3,76.2 L1385.6,71.1 L1385.8,71.4 L1386.1,68.5 L1386.3,69.0 L1386.6,65.8 L1386.8,65.6 L1387.1,63.2 L1387.3,66.3 L1387.6,66.5 L1387.9,64.2 L1388.1,67.4 L1388.4,69.1 L1388.6,70.2 L1388.9,67.9 L1389.1,66.6 L1389.4,68.4 L1389.6,73.1 L1389.9,70.3 L1390.2,70.2 L1390.4,71.4 L1390.7,74.6 L1390.9,73.0 L1391.2,75.5 L1391.4,76.3 L1391.7,79.1 L1391.9,80.6 L1392.2,80.1 L1392.4,82.7 L1392.7,85.5 L1393.0,90.4 L1393.2,93.5 L1393.5,92.9 L1393.7,89.8 L1394.0,86.7 L1394.2,83.7 L1394.5,80.6 L1394.7,78.9 L1395.0,76.5 L1395.2,73.5 L1395.5,67.2 L1395.7,63.3 L1396.0,67.0 L1396.2,68.6 L1396.5,71.1 L1396.8,73.2 L1397.0,75.5 L1397.3,75.5 L1397.6,71.3 L1397.8,73.8 L1398.1,70.9 L1398.3,72.5 L1398.6,68.4 L1398.8,68.8 L1399.1,67.5 L1399.3,63.0 L1399.6,63.8 L1399.8,66.0 L1400.1,61.5 L1400.4,63.5 L1400.6,60.7 L1400.9,65.3 L1401.2,69.9 L1401.4,74.5 L1401.7,76.4 L1401.9,78.2 L1402.1,80.1"/>
<path clip-path="url(#cu)" stroke="#ff7f0e" d="M133.0,558.4 L133.2,558.7 L133.5,559.6 L133.7,559.2 L134.0,559.3 L134.2,559.6 L134.5,560.7 L134.7,560.4 L135.0,560.7 L135.2,561.2 L135.5,561.2 L135.7,561.9 L136.0,562.4 L136.2,563.7 L136.5,562.9 L136.7,564.2 L137.0,564.7 L137.2,563.8 L137.5,563.5 L137.8,563.7 L138.0,562.8 L138.3,562.6 L138.5,562.5 L138.8,562.2 L139.0,561.9 L139.3,562.3 L139.5,561.4 L139.8,562.5 L140.1,562.1 L140.3,561.7 L140.6,563.1 L140.8,564.5 L141.1,565.9 L141.3,567.3 L141.6,567.6 L141.8,567.5 L142.1,567.3 L142.3,566.6 L142.6,566.4 L142.9,566.8 L143.1,566.8 L143.4,565.9 L143.6,566.2 L143.9,566.2 L144.1,565.5 L144.4,564.8 L144.6,565.2 L144.9,564.8 L145.2,565.8 L145.4,565.5 L145.7,566.6 L145.9,565.8 L146.2,565.1 L146.4,564.3 L146.7,564.4 L146.9,563.6 L147.2,563.2 L147.4,561.7 L147.7,561.9 L148.0,562.3 L148.2,560.4 L148.5,560.3 L148.7,560.8 L149.0,560.1 L149.2,560.7 L149.5,560.2 L149.7,559.8 L150.0,560.5 L150.3,560.0 L150.5,560.2 L150.8,561.4 L151.0,560.7 L151.3,560.1 L151.5,559.4 L151.8,558.8 L152.0,558.2 L152.3,558.7 L152.6,559.3 L152.8,558.5 L153.1,558.2 L153.3,558.9 L153.6,559.9 L153.8,559.7 L154.1,559.7 L154.3,559.9 L154.6,558.7 L154.8,559.3 L155.1,558.2 L155.4,557.5 L155.6,557.7 L155.9,557.3 L156.1,556.2 L156.4,556.7 L156.6,555.7 L156.9,555.8 L157.1,556.0 L157.4,554.3 L157.7,554.1 L157.9,554.0 L158.2,552.6 L158.4,553.1 L158.7,552.1 L158.9,553.9 L159.2,551.7 L159.4,552.5 L159.7,553.1 L159.9,553.6 L160.2,553.5 L160.5,554.3 L160.7,553.8 L161.0,554.2 L161.2,553.8 L161.5,554.1 L161.7,554.6 L162.0,554.7 L162.2,554.4 L162.5,555.7 L162.8,555.0 L163.0,555.3 L163.3,556.6 L163.5,556.8 L163.8,556.6 L164.0,556.6 L164.3,555.7 L164.5,556.1 L164.8,555.9 L165.1,554.8 L165.3,555.1 L165.6,555.2 L165.8,553.7 L166.1,553.4 L166.3,553.7 L166.6,552.9 L166.8,553.1 L167.1,552.9 L167.3,553.9 L167.6,553.9 L167.9,552.7 L168.1,554.1 L168.4,554.5 L168.6,553.1 L168.9,554.6 L169.1,554.5 L169.4,554.5 L169.6,555.3 L169.9,555.1 L170.2,555.5 L170.4,555.1 L170.7,555.8 L170.9,556.5 L171.2,556.9 L171.4,558.3 L171.7,559.4 L171.9,560.2 L172.2,560.6 L172.4,559.9 L172.7,560.7 L173.0,560.0 L173.2,561.7 L173.5,561.2 L173.7,560.7 L174.0,560.7 L174.2,560.1 L174.5,559.9 L174.7,558.5 L175.0,559.0 L175.3,558.0 L175.5,557.9 L175.8,557.9 L176.0,557.1 L176.3,555.7 L176.5,555.6 L176.8,555.7 L177.0,555.1 L177.3,553.3 L177.6,554.3 L177.8,553.8 L178.1,553.6 L178.3,553.4 L178.6,553.0 L178.8,553.5 L179.1,552.5 L179.3,551.1 L179.6,551.5 L179.8,551.4 L180.1,551.0 L180.4,552.5 L180.6,551.0 L180.9,551.3 L181.1,550.5 L181.4,550.3 L181.6,549.8 L181.9,550.7 L182.1,550.6 L182.4,549.5 L182.7,550.0 L182.9,550.1 L183.2,550.4 L183.4,551.9 L183.7,549.6 L183.9,551.1 L184.2,550.8 L184.4,550.5 L184.7,551.1 L184.9,549.6 L185.2,550.5 L185.5,549.5 L185.7,549.4 L186.0,548.8 L186.2,548.3 L186.5,548.1 L186.7,548.1 L187.0,547.8 L187.2,547.4 L187.5,547.2 L187.8,547.4 L188.0,547.0 L188.3,546.2 L188.5,546.5 L188.8,546.4 L189.0,546.8 L189.3,546.9 L189.5,547.8 L189.8,547.7 L190.1,547.0 L190.3,547.1 L190.6,546.5 L190.8,546.4 L191.1,546.4 L191.3,547.2 L191.6,547.0 L191.8,547.1 L192.1,547.5 L192.3,548.0 L192.6,547.6 L192.8,547.7 L193.1,547.8 L193.3,547.2 L193.5,548.3 L193.8,546.2 L194.0,546.9 L194.2,546.1 L194.5,544.9 L194.7,544.5 L194.9,544.2 L195.2,544.9 L195.4,544.9 L195.7,546.3 L195.9,544.9 L196.2,545.2 L196.4,545.1 L196.7,546.9 L196.9,545.0 L197.2,546.1 L197.4,545.9 L197.7,546.0 L198.0,546.2 L198.2,544.3 L198.5,545.2 L198.7,545.3 L199.0,543.3 L199.2,544.4 L199.5,543.4 L199.7,544.6 L200.0,544.2 L200.3,543.3 L200.5,545.0 L200.8,545.2 L201.0,544.2 L201.3,543.5 L201.5,542.9 L201.8,543.5 L202.0,542.6 L202.3,542.5 L202.6,542.7 L202.8,542.2 L203.1,544.2 L203.3,544.4 L203.6,543.4 L203.8,543.4 L204.1,543.0 L204.3,543.9 L204.6,542.7 L204.8,540.9 L205.1,542.2 L205.4,542.9 L205.6,542.0 L205.9,542.2 L206.1,542.3 L206.4,543.3 L206.6,541.2 L206.9,539.8 L207.1,539.8 L207.4,540.6 L207.7,539.6 L207.9,540.8 L208.2,540.8 L208.4,540.7 L208.7,541.3 L208.9,542.4 L209.2,543.6 L209.4,543.4 L209.7,544.4 L209.9,545.2 L210.2,545.9 L210.5,546.7 L210.7,547.4 L210.9,547.5 L211.2,546.1 L211.4,545.6 L211.6,545.5 L211.9,546.0 L212.1,545.4 L212.3,546.4 L212.6,545.4 L212.8,546.2 L213.0,547.0 L213.3,547.6 L213.5,549.3 L213.7,549.0 L214.0,549.5 L214.3,550.3 L214.5,551.2 L214.8,552.0 L215.1,551.1 L215.3,550.5 L215.6,550.0 L215.8,549.7 L216.1,550.1 L216.3,550.0 L216.6,550.0 L216.8,549.9 L217.1,548.7 L217.3,548.3 L217.6,547.4 L217.9,546.9 L218.1,547.1 L218.4,546.9 L218.6,548.0 L218.9,547.2 L219.1,548.7 L219.4,549.0 L219.7,549.8 L219.9,549.8 L220.2,550.9 L220.4,553.0 L220.7,553.1 L221.0,551.9 L221.2,552.1 L221.4,551.4 L221.7,551.0 L221.9,550.5 L222.2,550.3 L222.4,549.8 L222.7,549.1 L223.0,548.9 L223.2,549.4 L223.5,548.5 L223.7,548.7 L224.0,549.5 L224.2,548.6 L224.5,549.4 L224.7,549.3 L225.0,549.8 L225.3,548.4 L225.5,548.5 L225.8,547.4 L226.0,546.9 L226.3,546.0 L226.5,547.3 L226.8,547.2 L227.0,547.3 L227.3,546.8 L227.6,545.4 L227.8,545.9 L228.1,545.9 L228.3,545.5 L228.6,545.1 L228.8,545.4 L229.1,545.8 L229.3,544.8 L229.6,544.6 L229.8,545.4 L230.1,544.4 L230.4,543.5 L230.6,544.6 L230.9,543.2 L231.1,543.3 L231.4,542.6 L231.6,543.8 L231.9,544.3 L232.1,542.9 L232.4,543.3 L232.7,543.8 L232.9,541.7 L233.2,540.8 L233.4,539.5 L233.7,542.0 L233.9,540.7 L234.2,540.9 L234.4,540.5 L234.7,540.3 L234.9,539.1 L235.2,537.9 L235.5,538.5 L235.7,538.2 L236.0,537.9 L236.2,536.8 L236.5,537.3 L236.7,537.8 L237.0,537.8 L237.2,537.4 L237.5,537.1 L237.8,537.3 L238.0,536.0 L238.3,536.9 L238.5,537.6 L238.8,536.7 L239.0,537.6 L239.3,536.6 L239.5,537.3 L239.8,537.0 L240.1,537.4 L240.3,536.9 L240.6,537.2 L240.8,536.2 L241.1,536.6 L241.3,535.7 L241.6,533.9 L241.8,535.1 L242.1,534.0 L242.3,534.2 L242.6,534.6 L242.9,534.6 L243.1,533.1 L243.4,533.3 L243.6,532.9 L243.9,533.7 L244.1,533.5 L244.4,533.2 L244.6,534.3 L244.9,533.5 L245.2,533.1 L245.4,532.4 L245.7,533.0 L245.9,531.8 L246.2,531.6 L246.4,531.4 L246.7,532.5 L246.9,531.5 L247.2,533.6 L247.4,534.0 L247.7,532.6 L248.0,532.9 L248.2,533.3 L248.5,531.6 L248.7,532.6 L249.0,532.1 L249.2,533.4 L249.5,533.6 L249.7,533.3 L250.0,533.2 L250.3,533.3 L250.5,532.2 L250.8,531.5 L251.0,531.9 L251.3,531.1 L251.5,532.5 L251.8,532.4 L252.0,531.6 L252.3,532.0 L252.6,531.5 L252.8,531.8 L253.1,531.7 L253.3,530.6 L253.6,530.6 L253.8,530.6 L254.1,528.8 L254.3,529.8 L254.6,528.7 L254.8,528.6 L255.1,529.1 L255.4,528.7 L255.6,527.7 L255.9,528.6 L256.1,526.8 L256.4,526.7 L256.6,526.5 L256.9,526.8 L257.1,527.4 L257.3,527.4 L257.6,526.5 L257.8,526.7 L258.0,525.9 L258.2,526.9 L258.5,525.3 L258.7,525.6 L259.0,527.4 L259.2,527.9 L259.4,529.0 L259.7,529.6 L259.9,530.7 L260.2,531.9 L260.5,533.0 L260.7,534.2 L261.0,532.9 L261.2,533.4 L261.5,532.6 L261.7,532.7 L262.0,531.2 L262.2,530.6 L262.5,530.0 L262.8,529.3 L263.0,528.7 L263.3,528.1 L263.5,527.4 L263.8,527.9 L264.0,527.5 L264.3,527.1 L264.5,526.7 L264.8,527.5 L265.1,526.6 L265.3,527.6 L265.6,526.8 L265.8,526.6 L266.1,527.1 L266.3,526.7 L266.6,525.3 L266.8,525.5 L267.1,525.8 L267.3,525.2 L267.6,525.1 L267.9,523.9 L268.1,523.0 L268.4,524.0 L268.6,522.3 L268.9,521.9 L269.1,521.1 L269.4,520.6 L269.6,520.7 L269.9,521.9 L270.2,520.0 L270.4,521.2 L270.7,520.0 L270.9,520.4 L271.2,520.0 L271.4,520.6 L271.7,520.9 L271.9,519.7 L272.2,521.1 L272.4,519.1 L272.7,520.1 L272.9,518.2 L273.2,518.6 L273.4,518.7 L273.7,518.8 L273.9,518.9 L274.2,519.5 L274.4,519.1 L274.7,519.0 L274.9,518.3 L275.2,517.1 L275.5,517.9 L275.7,517.0 L276.0,517.8 L276.2,519.3 L276.5,518.6 L276.7,518.1 L277.0,519.7 L277.2,519.8 L277.5,520.2 L277.8,521.3 L278.0,521.5 L278.3,519.9 L278.5,519.8 L278.8,521.7 L279.0,519.0 L279.3,520.4 L279.5,519.9 L279.8,519.8 L280.1,520.0 L280.3,519.0 L280.6,517.7 L280.8,516.9 L281.1,518.5 L281.3,516.7 L281.6,517.3 L281.8,518.3 L282.1,517.3 L282.3,518.6 L282.6,516.3 L282.9,517.0 L283.1,515.9 L283.4,516.4 L283.6,517.6 L283.9,518.5 L284.1,517.9 L284.4,516.8 L284.6,516.7 L284.9,517.8 L285.2,520.1 L285.4,522.3 L285.7,524.6 L285.9,526.9 L286.2,526.8 L286.4,525.6 L286.7,526.5 L286.9,527.0 L287.2,527.4 L287.4,525.9 L287.7,526.3 L288.0,527.7 L288.2,529.7 L288.5,531.4 L288.7,533.8 L289.0,534.6 L289.2,533.8 L289.5,534.4 L289.7,531.4 L290.0,529.8 L290.3,529.5 L290.5,528.5 L290.8,528.2 L291.0,529.3 L291.3,530.1 L291.5,528.7 L291.8,529.4 L292.0,530.7 L292.3,528.7 L292.6,527.4 L292.8,529.5 L293.1,529.4 L293.3,531.9 L293.6,531.0 L293.8,530.7 L294.1,530.4 L294.3,530.9 L294.6,531.5 L294.8,529.7 L295.1,528.0 L295.4,526.2 L295.6,524.4 L295.9,523.2 L296.1,523.8 L296.4,521.9 L296.6,522.8 L296.9,522.2 L297.1,521.8 L297.4,521.4 L297.7,520.7 L297.9,520.4 L298.2,520.5 L298.4,520.2 L298.7,520.3 L298.9,522.5 L299.2,521.0 L299.4,524.6 L299.7,524.0 L299.9,524.8 L300.2,526.4 L300.5,526.1 L300.7,526.2 L301.0,526.9 L301.2,525.3 L301.5,526.8 L301.7,521.9 L302.0,522.3 L302.2,523.4 L302.5,524.1 L302.8,523.2 L303.0,524.4 L303.3,525.7 L303.5,528.0 L303.8,528.5 L304.0,529.2 L304.3,528.9 L304.5,532.0 L304.8,532.2 L305.1,531.5 L305.3,532.6 L305.6,533.7 L305.8,533.6 L306.1,533.3 L306.3,534.7 L306.6,536.2 L306.8,535.6 L307.1,534.5 L307.3,534.3 L307.6,532.2 L307.9,530.6 L308.1,530.2 L308.4,528.6 L308.6,528.9 L308.9,526.9 L309.1,528.0 L309.4,530.4 L309.6,529.9 L309.9,531.3 L310.2,533.2 L310.4,533.6 L310.7,532.7 L310.9,531.9 L311.2,531.7 L311.4,532.3 L311.7,530.8 L311.9,529.5 L312.2,529.7 L312.4,531.5 L312.7,532.5 L313.0,532.2 L313.2,533.0 L313.5,534.6 L313.7,535.4 L314.0,535.0 L314.2,535.9 L314.5,537.7 L314.7,538.2 L315.0,540.7 L315.3,541.8 L315.5,544.3 L315.8,546.9 L316.0,547.3 L316.3,547.7 L316.5,549.9 L316.8,548.2 L317.0,544.0 L317.3,543.8 L317.6,543.8 L317.8,540.8 L318.1,537.7 L318.3,539.1 L318.6,538.7 L318.8,542.2 L319.1,542.7 L319.3,542.6 L319.6,543.8 L319.8,543.3 L320.1,543.0 L320.4,541.3 L320.6,540.3 L320.9,541.2 L321.1,539.7 L321.4,538.6 L321.6,540.6 L321.8,538.4 L322.0,537.4 L322.3,538.6 L322.5,539.0 L322.7,539.5 L323.0,538.7 L323.2,540.1 L323.4,539.5 L323.7,541.2 L323.9,543.1 L324.2,544.8 L324.4,547.1 L324.7,548.5 L324.9,548.9 L325.2,550.5 L325.5,551.9 L325.7,551.9 L326.0,550.4 L326.2,548.6 L326.5,547.8 L326.7,547.4 L327.0,545.3 L327.2,544.8 L327.5,544.9 L327.8,543.5 L328.0,545.6 L328.3,542.6 L328.5,543.4 L328.8,542.0 L329.0,542.5 L329.3,541.7 L329.5,542.5 L329.8,540.6 L330.1,541.2 L330.3,541.8 L330.6,539.9 L330.8,539.6 L331.1,541.0 L331.3,540.2 L331.6,542.7 L331.8,541.4 L332.1,540.4 L332.3,541.5 L332.6,538.5 L332.9,538.2 L333.1,538.2 L333.4,537.7 L333.6,536.4 L333.9,536.8 L334.1,536.2 L334.4,536.3 L334.6,535.5 L334.9,535.3 L335.2,536.9 L335.4,535.1 L335.7,535.0 L335.9,534.5 L336.2,533.8 L336.4,532.7 L336.7,533.6 L336.9,533.6 L337.2,534.6 L337.4,534.2 L337.7,535.9 L338.0,537.2 L338.2,536.0 L338.5,536.1 L338.7,536.2 L339.0,534.3 L339.2,537.3 L339.5,534.6 L339.7,535.8 L340.0,535.4 L340.3,536.4 L340.5,535.6 L340.8,537.3 L341.0,539.2 L341.3,537.6 L341.5,539.7 L341.8,539.6 L342.0,540.7 L342.3,540.7 L342.6,542.6 L342.8,543.6 L343.1,545.9 L343.3,545.6 L343.6,544.8 L343.8,545.1 L344.1,545.9 L344.3,548.7 L344.6,547.6 L344.8,549.6 L345.1,551.3 L345.4,551.4 L345.6,551.9 L345.9,553.2 L346.1,554.9 L346.4,553.7 L346.6,555.4 L346.9,557.3 L347.1,558.1 L347.4,557.1 L347.7,553.9 L347.9,552.7 L348.2,551.7 L348.4,551.0 L348.7,549.9 L348.9,550.2 L349.2,550.0 L349.4,549.6 L349.7,548.4 L349.9,548.7 L350.2,550.9 L350.5,551.0 L350.7,549.9 L351.0,549.0 L351.2,547.7 L351.5,546.6 L351.7,546.3 L352.0,547.7 L352.2,547.5 L352.5,545.6 L352.8,546.4 L353.0,546.7 L353.3,544.9 L353.5,545.9 L353.8,545.8 L354.0,544.1 L354.3,547.3 L354.5,545.1 L354.8,544.9 L355.1,549.9 L355.3,549.7 L355.6,548.5 L355.8,546.8 L356.1,549.4 L356.3,548.8 L356.6,545.4 L356.8,545.3 L357.1,548.6 L357.3,547.9 L357.6,545.7 L357.9,546.3 L358.1,549.5 L358.4,548.6 L358.6,546.9 L358.9,549.9 L359.1,551.7 L359.4,553.5 L359.6,555.3 L359.9,557.0 L360.2,558.8 L360.4,560.6 L360.7,562.4 L360.9,564.2 L361.2,568.3 L361.5,572.3 L361.7,576.4 L362.0,581.5 L362.2,586.6 L362.4,591.7 L362.7,591.1 L362.9,589.3 L363.2,587.6 L363.4,585.8 L363.7,584.0 L363.9,588.1 L364.2,592.1 L364.4,596.2 L364.7,600.3 L365.0,596.2 L365.2,592.1 L365.5,588.1 L365.8,586.7 L366.1,585.3 L366.3,584.0 L366.6,586.7 L366.8,589.4 L367.0,592.1 L367.3,593.2 L367.5,594.2 L367.8,595.2 L368.0,597.2 L368.3,599.3 L368.6,601.3 L368.8,604.7 L369.1,608.1 L369.4,611.5 L369.6,608.2 L369.9,604.9 L370.2,601.6 L370.4,598.3 L370.7,597.8 L370.9,599.9 L371.1,599.3 L371.4,603.9 L371.6,602.3 L371.9,600.8 L372.1,599.3 L372.4,597.8 L372.7,596.2 L372.9,595.4 L373.2,593.7 L373.4,598.0 L373.7,598.5 L373.9,593.0 L374.2,594.2 L374.4,593.3 L374.7,594.2 L374.9,594.8 L375.2,594.9 L375.5,595.6 L375.7,596.2 L376.0,594.3 L376.2,591.6 L376.4,592.9 L376.7,589.7 L376.9,588.1 L377.2,588.7 L377.5,589.4 L377.8,590.1 L378.0,591.6 L378.3,593.2 L378.5,594.7 L378.8,596.2 L379.0,596.0 L379.3,596.9 L379.5,599.6 L379.8,601.1 L380.0,601.3 L380.3,600.8 L380.5,599.0 L380.8,596.0 L381.1,598.8 L381.3,596.7 L381.6,598.4 L381.8,596.7 L382.1,597.3 L382.3,598.5 L382.6,598.3 L382.9,597.2 L383.1,597.6 L383.4,600.6 L383.6,601.6 L383.9,601.4 L384.1,600.1 L384.4,602.3 L384.7,605.4 L384.9,606.0 L385.2,606.5 L385.4,607.1 L385.7,608.5 L386.0,609.3 L386.2,609.2 L386.4,612.7 L386.7,614.6 L386.9,614.6 L387.2,616.5 L387.4,616.8 L387.7,615.3 L387.9,616.5 L388.2,617.7 L388.4,616.5 L388.7,614.3 L389.0,613.2 L389.2,612.5 L389.5,610.5 L389.7,609.2 L390.0,608.0 L390.3,606.7 L390.5,605.4 L390.8,604.6 L391.0,602.8 L391.3,604.3 L391.5,602.2 L391.8,598.9 L392.0,600.3 L392.3,600.6 L392.6,599.2 L392.8,598.5 L393.1,598.4 L393.3,597.6 L393.6,596.2 L393.8,595.4 L394.1,594.9 L394.3,595.4 L394.6,593.8 L394.8,591.5 L395.1,591.1 L395.4,590.6 L395.6,591.5 L395.9,591.8 L396.1,591.7 L396.4,593.2 L396.6,593.2 L396.9,591.3 L397.2,589.5 L397.4,586.5 L397.7,584.2 L398.0,583.0 L398.2,582.3 L398.4,581.6 L398.7,580.9 L398.9,582.4 L399.2,584.0 L399.4,585.5 L399.7,587.0 L399.9,586.5 L400.2,586.0 L400.5,585.5 L400.7,585.0 L401.0,583.2 L401.2,582.2 L401.5,583.1 L401.7,583.1 L402.0,583.9 L402.2,583.0 L402.5,581.2 L402.8,581.5 L403.0,581.5 L403.3,582.1 L403.5,579.7 L403.8,579.9 L404.0,579.8 L404.3,579.9 L404.5,580.1 L404.8,580.8 L405.1,581.8 L405.3,581.9 L405.6,583.0 L405.8,584.0 L406.1,585.0 L406.3,586.0 L406.6,585.2 L406.8,586.6 L407.1,585.3 L407.3,584.3 L407.6,585.1 L407.9,584.0 L408.1,584.3 L408.4,584.7 L408.6,585.9 L408.9,588.8 L409.1,589.3 L409.4,589.1 L409.6,587.8 L409.9,586.5 L410.2,585.3 L410.4,584.0 L410.7,582.4 L410.9,580.9 L411.2,579.4 L411.4,577.9 L411.7,576.8 L411.9,577.7 L412.2,576.3 L412.4,574.5 L412.7,575.3 L413.0,573.8 L413.2,574.2 L413.5,571.8 L413.7,571.0 L414.0,572.4 L414.2,569.8 L414.5,570.7 L414.7,570.2 L415.0,570.3 L415.3,570.4 L415.5,572.8 L415.8,572.8 L416.0,572.8 L416.3,573.5 L416.5,573.2 L416.8,571.7 L417.0,570.5 L417.3,570.9 L417.6,569.7 L417.8,570.1 L418.1,569.7 L418.3,570.7 L418.6,570.0 L418.8,569.5 L419.1,568.7 L419.3,567.1 L419.6,567.5 L419.8,566.6 L420.1,565.1 L420.4,563.5 L420.6,563.6 L420.9,563.3 L421.1,563.1 L421.4,562.8 L421.6,562.6 L421.9,562.9 L422.1,564.5 L422.4,562.8 L422.7,563.3 L422.9,564.9 L423.2,564.6 L423.4,565.8 L423.7,565.9 L424.0,567.4 L424.2,566.8 L424.5,566.6 L424.7,565.5 L425.0,563.9 L425.2,564.1 L425.5,561.4 L425.7,561.5 L426.0,561.7 L426.2,559.6 L426.5,559.5 L426.7,559.6 L427.0,559.1 L427.2,559.5 L427.5,560.3 L427.8,561.0 L428.0,561.8 L428.3,562.6 L428.5,563.8 L428.8,565.1 L429.0,566.4 L429.3,567.7 L429.5,565.1 L429.8,564.8 L430.1,563.1 L430.3,562.9 L430.6,561.6 L430.8,560.5 L431.1,560.0 L431.3,559.8 L431.6,561.3 L431.8,559.5 L432.1,559.6 L432.3,559.5 L432.6,559.6 L432.9,558.7 L433.1,558.9 L433.4,561.6 L433.6,560.1 L433.9,561.0 L434.1,560.9 L434.4,561.3 L434.6,560.5 L434.9,561.9 L435.2,560.1 L435.4,560.0 L435.7,559.6 L435.9,559.5 L436.2,559.8 L436.4,558.2 L436.7,558.6 L436.9,556.9 L437.2,557.9 L437.4,556.7 L437.7,555.5 L438.0,556.4 L438.2,554.2 L438.5,554.7 L438.7,555.6 L439.0,555.3 L439.2,554.2 L439.5,555.1 L439.7,553.3 L440.0,553.9 L440.3,552.1 L440.5,552.3 L440.8,551.6 L441.0,551.6 L441.3,551.5 L441.5,552.4 L441.8,552.7 L442.0,552.3 L442.3,552.7 L442.6,553.8 L442.8,555.5 L443.1,555.3 L443.3,556.2 L443.6,556.4 L443.8,557.3 L444.1,556.3 L444.3,558.7 L444.6,557.0 L444.8,559.1 L445.1,559.5 L445.3,559.6 L445.6,559.2 L445.8,560.8 L446.1,561.5 L446.3,561.5 L446.6,562.3 L446.8,562.5 L447.0,562.5 L447.2,559.5 L447.5,559.9 L447.7,561.2 L447.9,559.3 L448.2,558.0 L448.4,557.0 L448.7,557.9 L448.9,556.5 L449.2,556.8 L449.4,555.4 L449.7,554.4 L449.9,553.4 L450.2,554.4 L450.5,553.5 L450.7,552.6 L451.0,551.1 L451.2,550.1 L451.5,552.3 L451.7,550.2 L452.0,549.4 L452.2,549.3 L452.5,549.9 L452.8,550.2 L453.0,548.3 L453.3,547.8 L453.5,548.9 L453.8,546.5 L454.0,546.0 L454.3,546.7 L454.5,546.8 L454.8,547.6 L455.1,548.6 L455.3,546.7 L455.6,545.1 L455.8,544.9 L456.1,545.1 L456.3,544.2 L456.6,543.0 L456.8,543.7 L457.1,542.0 L457.3,541.9 L457.6,542.1 L457.9,541.1 L458.1,541.0 L458.4,540.8 L458.6,539.3 L458.9,539.6 L459.1,539.6 L459.4,539.1 L459.6,538.6 L459.9,540.5 L460.2,538.8 L460.4,540.8 L460.7,541.1 L460.9,542.1 L461.2,543.7 L461.4,545.2 L461.7,546.7 L461.9,548.3 L462.2,548.5 L462.4,550.1 L462.7,549.8 L463.0,552.3 L463.2,553.3 L463.5,554.4 L463.7,555.6 L464.0,555.4 L464.2,553.2 L464.5,555.1 L464.7,554.9 L465.0,553.4 L465.3,554.2 L465.5,555.7 L465.8,554.9 L466.0,557.4 L466.3,557.0 L466.5,558.5 L466.8,558.7 L467.0,556.9 L467.3,556.8 L467.5,556.0 L467.8,555.4 L468.0,554.7 L468.3,553.7 L468.6,552.3 L468.8,552.1 L469.1,551.3 L469.3,553.0 L469.6,552.2 L469.8,554.0 L470.1,555.2 L470.4,555.8 L470.6,557.4 L470.9,558.6 L471.1,559.9 L471.3,560.7 L471.6,561.3 L471.8,562.0 L472.1,561.5 L472.4,559.7 L472.6,559.1 L472.9,557.4 L473.2,556.4 L473.4,556.6 L473.7,555.4 L473.9,557.0 L474.2,555.5 L474.4,555.4 L474.7,554.4 L474.9,553.9 L475.2,553.2 L475.5,552.9 L475.7,552.9 L476.0,551.5 L476.2,551.3 L476.5,552.1 L476.7,550.7 L477.0,550.9 L477.2,550.7 L477.5,552.0 L477.8,550.8 L478.0,551.0 L478.3,552.1 L478.5,552.6 L478.8,553.3 L479.0,554.2 L479.3,554.4 L479.5,556.4 L479.8,556.1 L480.1,556.7 L480.3,556.9 L480.6,557.5 L480.8,557.4 L481.1,559.2 L481.3,559.5 L481.6,558.8 L481.8,557.8 L482.1,557.9 L482.3,555.3 L482.6,556.2 L482.9,554.4 L483.1,552.7 L483.4,553.7 L483.6,554.3 L483.9,551.9 L484.1,551.0 L484.4,551.5 L484.6,551.1 L484.9,550.3 L485.2,549.6 L485.4,550.3 L485.7,549.5 L485.9,548.5 L486.2,548.8 L486.4,547.8 L486.7,547.1 L486.9,547.2 L487.2,546.9 L487.5,546.6 L487.7,546.3 L488.0,546.0 L488.2,544.7 L488.5,544.0 L488.8,543.9 L489.0,543.7 L489.2,542.5 L489.5,541.5 L489.8,542.7 L490.0,542.2 L490.2,542.1 L490.5,543.2 L490.8,541.5 L491.0,541.2 L491.2,542.3 L491.5,542.7 L491.8,542.0 L492.0,541.0 L492.2,541.0 L492.5,538.7 L492.8,539.4 L493.0,539.6 L493.2,539.3 L493.5,539.4 L493.8,537.9 L494.0,538.0 L494.2,538.0 L494.5,536.6 L494.8,537.7 L495.0,539.0 L495.2,539.1 L495.5,538.3 L495.8,538.7 L496.0,540.4 L496.2,539.0 L496.5,541.7 L496.8,542.0 L497.0,542.0 L497.2,541.2 L497.5,540.3 L497.8,541.3 L498.0,539.1 L498.2,537.4 L498.5,537.2 L498.8,537.8 L499.0,539.0 L499.2,536.6 L499.5,536.9 L499.8,535.4 L500.0,536.0 L500.2,535.4 L500.5,534.8 L500.8,536.9 L501.0,536.5 L501.2,535.8 L501.5,534.7 L501.8,535.7 L502.0,535.2 L502.2,536.0 L502.5,534.0 L502.8,533.2 L503.0,534.8 L503.2,534.1 L503.5,532.5 L503.8,531.3 L504.0,531.0 L504.2,531.0 L504.5,532.6 L504.8,531.4 L505.0,532.1 L505.2,530.7 L505.5,532.3 L505.8,529.8 L506.0,530.9 L506.2,530.1 L506.5,531.2 L506.8,530.3 L507.0,528.8 L507.2,528.5 L507.5,527.3 L507.8,527.7 L508.0,527.0 L508.2,526.4 L508.5,528.2 L508.7,526.6 L509.0,527.5 L509.2,526.3 L509.4,525.7 L509.7,525.1 L509.9,526.1 L510.2,526.2 L510.4,522.9 L510.6,523.1 L510.9,523.3 L511.1,521.9 L511.4,521.2 L511.6,521.0 L511.8,519.8 L512.1,520.9 L512.3,520.8 L512.6,522.3 L512.8,521.9 L513.0,523.7 L513.3,521.8 L513.5,522.8 L513.8,523.3 L514.0,523.0 L514.2,523.2 L514.5,524.1 L514.7,526.3 L515.0,524.6 L515.2,525.9 L515.4,526.3 L515.7,526.1 L515.9,526.8 L516.2,528.5 L516.4,529.0 L516.6,529.0 L516.9,528.9 L517.1,527.9 L517.3,526.1 L517.6,526.1 L517.8,523.7 L518.1,524.8 L518.3,523.1 L518.5,523.9 L518.8,522.0 L519.0,522.0 L519.2,521.7 L519.5,521.5 L519.8,520.4 L520.0,521.3 L520.2,521.6 L520.5,518.4 L520.8,520.1 L521.0,519.9 L521.2,518.9 L521.5,519.8 L521.8,518.3 L522.0,519.0 L522.2,518.2 L522.5,517.9 L522.8,519.5 L523.0,517.9 L523.2,516.3 L523.5,514.4 L523.8,515.3 L524.0,514.3 L524.2,514.9 L524.5,516.7 L524.8,515.3 L525.0,516.0 L525.2,516.3 L525.5,517.0 L525.8,515.8 L526.0,517.0 L526.2,518.6 L526.5,517.7 L526.8,518.9 L527.0,518.5 L527.2,517.4 L527.5,518.1 L527.8,518.0 L528.0,518.0 L528.2,519.1 L528.5,519.7 L528.8,521.5 L529.0,523.8 L529.2,521.7 L529.5,524.2 L529.8,522.6 L530.0,523.7 L530.2,525.1 L530.5,526.5 L530.8,526.0 L531.0,525.0 L531.2,524.7 L531.5,525.8 L531.7,525.7 L531.9,524.7 L532.2,526.6 L532.4,525.5 L532.7,525.9 L532.9,525.7 L533.1,526.1 L533.4,527.7 L533.6,527.0 L533.8,525.2 L534.1,524.4 L534.3,523.1 L534.6,522.5 L534.8,522.4 L535.0,521.8 L535.3,522.9 L535.5,519.9 L535.8,519.4 L536.0,517.0 L536.2,516.5 L536.5,516.9 L536.7,515.7 L537.0,516.3 L537.2,516.8 L537.4,519.4 L537.7,517.3 L537.9,518.4 L538.2,520.3 L538.4,520.0 L538.6,522.0 L538.9,523.4 L539.1,523.7 L539.3,525.9 L539.5,528.1 L539.8,528.4 L540.0,530.0 L540.2,533.7 L540.5,533.0 L540.7,536.6 L540.9,542.6 L541.2,546.0 L541.4,548.0 L541.6,546.2 L541.9,545.3 L542.1,544.4 L542.3,544.0 L542.5,542.6 L542.8,538.6 L543.0,539.0 L543.2,538.9 L543.5,540.9 L543.8,543.6 L544.0,544.8 L544.2,544.0 L544.5,546.1 L544.8,543.2 L545.0,545.0 L545.2,540.4 L545.5,538.6 L545.7,538.8 L545.9,538.6 L546.2,538.7 L546.4,537.4 L546.7,541.3 L546.9,534.8 L547.1,535.2 L547.4,536.5 L547.6,538.0 L547.9,540.5 L548.1,541.9 L548.4,542.4 L548.6,542.1 L548.9,545.8 L549.1,551.1 L549.4,549.9 L549.6,549.0 L549.8,549.9 L550.1,548.6 L550.3,549.5 L550.5,552.5 L550.8,553.0 L551.0,554.0 L551.2,551.9 L551.5,550.8 L551.8,553.5 L552.0,548.0 L552.2,549.0 L552.5,545.1 L552.8,545.5 L553.0,542.0 L553.2,540.8 L553.5,541.0 L553.7,535.0 L553.9,539.8 L554.2,532.9 L554.4,531.7 L554.7,534.2 L554.9,531.1 L555.1,528.7 L555.4,531.5 L555.6,530.0 L555.8,532.5 L556.1,532.9 L556.3,530.0 L556.6,534.6 L556.8,534.5 L557.0,534.8 L557.3,536.2 L557.5,532.8 L557.8,535.0 L558.0,533.0 L558.2,535.7 L558.5,531.3 L558.8,533.4 L559.0,536.1 L559.2,538.8 L559.5,539.3 L559.8,540.8 L560.0,544.0 L560.2,545.6 L560.5,543.7 L560.7,542.2 L561.0,538.8 L561.2,539.5 L561.4,540.2 L561.7,540.8 L561.9,535.0 L562.2,536.0 L562.4,535.0 L562.6,536.9 L562.9,539.4 L563.1,538.4 L563.4,538.0 L563.6,543.7 L563.9,538.8 L564.1,540.9 L564.4,539.0 L564.6,536.7 L564.9,538.4 L565.1,538.3 L565.3,535.1 L565.6,530.0 L565.8,536.4 L566.1,530.9 L566.3,528.4 L566.5,527.1 L566.8,533.0 L567.0,533.0 L567.2,531.7 L567.5,533.0 L567.8,531.6 L568.0,531.1 L568.2,529.6 L568.5,527.5 L568.8,529.1 L569.0,528.4 L569.2,526.6 L569.5,526.0 L569.8,526.0 L570.0,527.0 L570.2,525.1 L570.5,526.0 L570.8,525.8 L571.0,526.6 L571.2,524.8 L571.5,524.4 L571.8,523.1 L572.0,523.2 L572.2,524.3 L572.5,523.9 L572.8,522.1 L573.0,521.0 L573.2,520.6 L573.5,518.3 L573.8,519.8 L574.0,518.7 L574.2,516.6 L574.5,520.8 L574.8,518.0 L575.0,517.7 L575.2,520.2 L575.5,518.2 L575.8,518.5 L576.0,519.8 L576.2,518.2 L576.5,519.3 L576.8,519.3 L577.0,518.0 L577.2,517.5 L577.5,516.6 L577.8,515.5 L578.0,514.3 L578.2,515.1 L578.5,515.0 L578.8,512.5 L579.0,515.1 L579.2,513.8 L579.5,515.0 L579.8,512.4 L580.0,514.9 L580.2,514.3 L580.5,515.0 L580.8,513.0 L581.0,515.0 L581.2,514.4 L581.5,515.4 L581.8,515.6 L582.0,516.8 L582.2,516.5 L582.5,516.5 L582.8,519.0 L583.0,519.0 L583.2,519.4 L583.5,519.5 L583.7,518.2 L583.9,518.7 L584.2,517.3 L584.4,517.2 L584.7,517.9 L584.9,518.5 L585.1,520.1 L585.4,519.7 L585.6,520.0 L585.9,519.2 L586.1,519.3 L586.4,519.4 L586.6,519.8 L586.9,517.0 L587.1,517.7 L587.4,517.3 L587.6,517.0 L587.8,518.7 L588.1,519.5 L588.3,519.3 L588.6,522.0 L588.8,520.9 L589.0,522.2 L589.3,522.3 L589.5,524.8 L589.8,524.2 L590.0,525.0 L590.2,526.0 L590.5,526.4 L590.8,528.5 L591.0,527.1 L591.2,529.3 L591.5,529.2 L591.8,529.0 L592.0,529.7 L592.2,529.8 L592.5,531.6 L592.8,532.6 L593.0,533.0 L593.2,532.2 L593.5,530.0 L593.8,532.0 L594.0,529.6 L594.2,528.8 L594.5,529.8 L594.8,530.6 L595.0,528.9 L595.2,527.7 L595.5,526.9 L595.8,527.6 L596.0,526.0 L596.2,526.0 L596.5,525.8 L596.8,527.2 L597.0,524.0 L597.2,525.6 L597.5,525.3 L597.8,525.8 L598.0,524.6 L598.2,524.2 L598.5,524.4 L598.8,524.2 L599.0,524.0 L599.2,524.2 L599.5,524.0 L599.7,524.7 L599.9,526.0 L600.2,523.8 L600.4,524.5 L600.7,525.4 L600.9,526.9 L601.1,527.8 L601.4,526.7 L601.6,527.0 L601.8,527.5 L602.1,524.7 L602.3,525.0 L602.6,523.8 L602.8,523.3 L603.0,524.4 L603.3,524.7 L603.5,523.2 L603.8,523.2 L604.0,523.0 L604.2,521.9 L604.5,522.7 L604.8,523.1 L605.0,520.1 L605.2,520.7 L605.5,519.3 L605.8,518.9 L606.0,520.6 L606.2,518.7 L606.5,519.8 L606.8,518.0 L607.0,518.2 L607.2,519.2 L607.5,519.0 L607.8,518.3 L608.0,518.0 L608.2,518.1 L608.5,516.5 L608.8,518.8 L609.0,519.5 L609.2,517.5 L609.5,517.8 L609.8,517.3 L610.0,515.2 L610.2,515.0 L610.5,516.1 L610.8,515.5 L611.0,515.0 L611.2,512.5 L611.5,514.2 L611.8,513.2 L612.0,512.0 L612.2,512.5 L612.5,512.7 L612.8,511.4 L613.0,513.8 L613.2,512.3 L613.5,514.2 L613.8,513.0 L614.0,512.9 L614.2,515.6 L614.5,514.6 L614.8,515.6 L615.0,515.0 L615.2,515.9 L615.5,515.9 L615.8,515.6 L616.0,513.6 L616.2,515.2 L616.5,514.1 L616.8,514.2 L617.0,514.7 L617.2,513.7 L617.5,514.2 L617.8,513.4 L618.0,514.0 L618.2,513.9 L618.5,514.4 L618.8,515.8 L619.0,514.0 L619.2,516.4 L619.5,514.9 L619.8,515.3 L620.0,516.0 L620.2,517.2 L620.5,516.1 L620.7,516.3 L621.0,517.6 L621.2,516.7 L621.4,518.8 L621.7,518.7 L621.9,521.4 L622.2,521.8 L622.4,522.0 L622.6,522.1 L622.9,522.8 L623.1,522.3 L623.3,520.5 L623.6,522.5 L623.8,519.6 L624.1,519.5 L624.3,517.5 L624.5,517.9 L624.8,517.6 L625.0,517.0 L625.2,516.3 L625.5,516.3 L625.8,514.9 L626.0,513.9 L626.2,515.1 L626.5,513.3 L626.8,515.6 L627.0,515.0 L627.2,512.1 L627.5,511.5 L627.8,512.1 L628.0,513.0 L628.2,512.4 L628.5,511.6 L628.8,511.8 L629.0,512.7 L629.2,511.3 L629.5,510.8 L629.8,510.3 L630.0,510.0 L630.2,509.4 L630.5,507.3 L630.8,509.1 L631.0,506.5 L631.2,507.3 L631.5,506.1 L631.8,505.9 L632.0,504.1 L632.2,504.7 L632.5,504.0 L632.8,505.0 L633.0,504.0 L633.2,501.5 L633.5,500.6 L633.8,501.0 L634.0,502.5 L634.2,500.9 L634.5,502.2 L634.8,500.8 L635.0,499.4 L635.2,498.7 L635.5,497.9 L635.8,499.7 L636.0,499.0 L636.2,499.2 L636.5,497.2 L636.8,496.8 L637.0,497.9 L637.2,499.4 L637.5,500.4 L637.8,499.0 L638.0,500.2 L638.2,498.3 L638.5,497.7 L638.8,498.2 L639.0,497.0 L639.2,497.2 L639.5,496.5 L639.8,497.0 L640.0,498.0 L640.2,497.6 L640.5,498.7 L640.8,497.7 L641.0,499.0 L641.2,499.1 L641.5,498.6 L641.8,496.2 L642.0,497.0 L642.2,496.4 L642.5,495.0 L642.8,494.2 L643.0,494.0 L643.2,494.3 L643.5,493.6 L643.8,493.6 L644.0,494.9 L644.2,494.5 L644.5,491.5 L644.8,494.7 L645.0,493.4 L645.2,492.5 L645.5,494.3 L645.8,492.6 L646.0,492.0 L646.2,493.6 L646.5,491.5 L646.8,494.2 L647.0,493.3 L647.2,495.7 L647.5,493.4 L647.8,494.9 L648.0,493.7 L648.2,493.7 L648.5,495.6 L648.8,494.1 L649.0,494.0 L649.2,493.7 L649.5,491.9 L649.8,490.7 L650.0,490.0 L650.2,489.4 L650.5,488.6 L650.8,488.5 L651.0,488.0 L651.2,487.7 L651.5,485.2 L651.7,486.8 L652.0,484.8 L652.2,485.3 L652.5,483.1 L652.7,482.7 L652.9,482.1 L653.2,483.4 L653.4,480.3 L653.7,482.8 L653.9,481.6 L654.2,480.1 L654.4,479.0 L654.6,479.3 L654.9,479.6 L655.1,479.9 L655.3,480.9 L655.6,482.6 L655.8,482.3 L656.1,482.2 L656.3,484.1 L656.5,481.6 L656.8,483.7 L657.0,483.0 L657.2,484.2 L657.5,484.5 L657.8,486.7 L658.0,486.7 L658.2,486.6 L658.5,484.9 L658.8,486.2 L659.0,486.6 L659.2,487.9 L659.5,489.8 L659.8,490.0 L660.0,490.0 L660.2,489.0 L660.5,488.8 L660.7,487.9 L661.0,486.4 L661.2,487.3 L661.4,488.1 L661.7,484.8 L661.9,485.6 L662.2,484.1 L662.4,483.0 L662.6,482.3 L662.9,482.3 L663.1,481.7 L663.3,481.1 L663.6,481.3 L663.8,479.5 L664.1,478.4 L664.3,478.1 L664.5,477.6 L664.8,477.7 L665.0,477.0 L665.2,475.9 L665.5,476.6 L665.8,477.2 L666.0,473.9 L666.2,476.6 L666.5,474.3 L666.8,475.8 L667.0,476.1 L667.2,473.4 L667.5,474.5 L667.8,474.0 L668.0,473.0 L668.2,472.6 L668.5,473.7 L668.8,473.9 L669.0,474.2 L669.2,475.2 L669.5,475.1 L669.8,476.1 L670.0,477.0 L670.2,478.1 L670.5,478.1 L670.7,477.6 L671.0,478.3 L671.2,480.2 L671.4,480.3 L671.7,478.3 L671.9,479.4 L672.2,479.5 L672.4,481.0 L672.6,481.0 L672.9,479.9 L673.1,479.1 L673.4,477.4 L673.6,476.9 L673.9,476.6 L674.1,477.4 L674.4,473.9 L674.6,475.1 L674.9,473.4 L675.1,470.7 L675.4,471.5 L675.6,470.0 L675.8,471.5 L676.1,472.1 L676.3,474.9 L676.5,473.1 L676.8,472.9 L677.0,474.8 L677.2,471.6 L677.5,475.3 L677.7,473.7 L677.9,474.3 L678.2,475.7 L678.4,476.0 L678.6,474.8 L678.9,475.2 L679.1,473.8 L679.3,474.2 L679.6,474.4 L679.8,472.9 L680.1,472.8 L680.3,469.6 L680.5,470.8 L680.8,468.5 L681.0,468.0 L681.2,468.3 L681.5,466.1 L681.8,464.2 L682.0,465.0 L682.2,465.2 L682.5,464.9 L682.8,464.4 L683.0,463.0 L683.2,464.8 L683.5,461.7 L683.8,462.8 L684.0,463.0 L684.2,461.1 L684.5,462.8 L684.8,461.5 L685.0,461.6 L685.2,463.2 L685.5,460.3 L685.8,463.6 L686.0,462.0 L686.2,461.1 L686.5,462.7 L686.8,462.3 L687.0,461.0 L687.2,459.8 L687.5,460.5 L687.7,462.4 L687.9,459.8 L688.2,460.0 L688.4,461.2 L688.7,462.8 L688.9,461.0 L689.1,462.3 L689.4,461.2 L689.6,463.0 L689.8,463.3 L690.1,463.3 L690.3,462.4 L690.6,463.0 L690.8,462.1 L691.0,459.2 L691.3,457.5 L691.5,459.4 L691.8,458.6 L692.0,457.0 L692.2,456.8 L692.5,456.5 L692.8,456.2 L693.0,456.0 L693.2,455.2 L693.5,456.0 L693.7,454.3 L694.0,453.7 L694.2,455.9 L694.5,453.3 L694.7,456.8 L694.9,456.0 L695.2,456.3 L695.4,455.5 L695.7,454.5 L695.9,456.8 L696.2,457.4 L696.4,454.4 L696.6,455.1 L696.9,454.3 L697.1,455.7 L697.4,456.5 L697.6,457.9 L697.9,458.3 L698.1,459.8 L698.4,461.0 L698.6,462.0 L698.9,463.0 L699.1,464.2 L699.4,464.6 L699.6,466.0 L699.8,466.1 L700.1,464.1 L700.3,462.9 L700.6,459.7 L700.8,461.2 L701.0,459.6 L701.3,458.3 L701.5,457.4 L701.8,457.0 L702.0,455.0 L702.2,453.9 L702.5,453.4 L702.8,451.9 L703.0,453.5 L703.2,450.1 L703.5,451.9 L703.8,449.1 L704.0,449.2 L704.2,448.5 L704.5,448.2 L704.8,448.8 L705.0,449.0 L705.2,447.7 L705.5,448.0 L705.8,445.5 L706.0,446.4 L706.2,449.3 L706.5,448.6 L706.8,450.7 L707.0,450.4 L707.2,450.6 L707.5,448.7 L707.8,450.4 L708.0,450.0 L708.2,449.0 L708.5,449.0 L708.8,451.1 L709.0,449.0 L709.2,447.9 L709.5,448.7 L709.8,448.7 L710.0,447.0 L710.2,449.8 L710.5,449.2 L710.7,448.1 L710.9,450.9 L711.1,452.5 L711.4,454.4 L711.6,455.0 L711.9,455.6 L712.1,454.0 L712.4,453.7 L712.6,451.3 L712.9,450.6 L713.1,451.2 L713.4,449.7 L713.6,449.0 L713.8,448.8 L714.1,449.1 L714.3,449.0 L714.6,448.3 L714.8,449.2 L715.1,451.8 L715.3,449.2 L715.5,452.4 L715.8,449.2 L716.0,449.4 L716.3,449.8 L716.5,450.0 L716.8,446.9 L717.0,448.0 L717.2,447.0 L717.5,446.3 L717.8,447.6 L718.0,446.9 L718.2,445.3 L718.5,447.0 L718.8,445.6 L719.0,444.5 L719.2,445.5 L719.5,443.7 L719.8,442.9 L720.0,443.0 L720.2,443.5 L720.5,440.7 L720.8,442.9 L721.0,442.7 L721.2,440.6 L721.5,438.0 L721.8,441.2 L722.0,439.1 L722.2,437.6 L722.5,436.4 L722.8,438.3 L723.0,438.0 L723.2,436.7 L723.5,437.1 L723.7,438.9 L724.0,437.4 L724.2,439.5 L724.5,438.4 L724.7,436.2 L724.9,435.9 L725.2,437.8 L725.4,434.8 L725.7,433.9 L725.9,435.6 L726.2,435.8 L726.4,435.0 L726.6,434.5 L726.9,436.0 L727.1,437.3 L727.4,434.8 L727.6,436.8 L727.9,434.5 L728.1,435.1 L728.4,434.0 L728.6,436.2 L728.9,439.3 L729.1,439.4 L729.4,437.9 L729.6,437.0 L729.8,437.7 L730.1,440.3 L730.3,440.2 L730.6,439.7 L730.8,440.7 L731.0,443.2 L731.3,442.5 L731.5,441.4 L731.8,443.9 L732.0,444.0 L732.2,443.3 L732.5,444.2 L732.8,441.5 L733.0,440.4 L733.2,439.8 L733.5,437.0 L733.8,437.2 L734.0,436.0 L734.2,435.1 L734.5,436.0 L734.8,434.0 L735.0,433.6 L735.2,432.7 L735.5,432.8 L735.8,431.8 L736.0,431.5 L736.2,430.8 L736.5,431.2 L736.8,433.2 L737.0,433.0 L737.2,433.8 L737.5,434.3 L737.8,434.5 L738.0,434.7 L738.2,433.6 L738.5,436.1 L738.8,435.5 L739.0,435.7 L739.2,437.1 L739.5,439.3 L739.8,439.1 L740.0,438.0 L740.2,439.5 L740.5,440.1 L740.7,441.3 L741.0,440.8 L741.2,442.7 L741.4,444.0 L741.7,445.2 L741.9,444.4 L742.2,445.3 L742.4,446.0 L742.6,447.5 L742.9,447.9 L743.1,450.8 L743.4,450.4 L743.6,452.0 L743.9,450.9 L744.1,451.1 L744.4,449.2 L744.6,447.7 L744.9,445.6 L745.1,447.5 L745.4,444.4 L745.6,442.0 L745.8,442.7 L746.1,439.4 L746.3,441.0 L746.6,439.3 L746.8,439.3 L747.0,436.4 L747.3,434.9 L747.5,433.8 L747.8,433.4 L748.0,432.0 L748.2,432.7 L748.5,430.6 L748.8,431.0 L749.0,431.7 L749.2,433.6 L749.5,430.4 L749.8,431.8 L750.0,428.6 L750.2,432.0 L750.5,426.6 L750.8,429.1 L751.0,426.4 L751.2,426.3 L751.5,425.1 L751.7,425.4 L751.9,424.7 L752.2,426.2 L752.4,424.7 L752.7,426.8 L752.9,426.6 L753.1,427.0 L753.4,426.6 L753.6,428.0 L753.8,428.8 L754.1,431.6 L754.3,431.4 L754.5,432.8 L754.8,433.7 L755.0,436.0 L755.2,434.8 L755.5,431.6 L755.8,430.8 L756.0,430.9 L756.2,427.8 L756.5,427.4 L756.8,423.8 L757.0,423.0 L757.2,424.4 L757.5,426.8 L757.8,428.5 L758.0,430.5 L758.2,432.2 L758.5,433.0 L758.8,433.8 L759.0,434.0 L759.2,434.1 L759.5,431.2 L759.8,431.6 L760.0,432.4 L760.2,428.7 L760.5,427.4 L760.8,426.9 L761.0,428.0 L761.2,428.6 L761.5,431.8 L761.7,431.9 L761.9,433.1 L762.2,430.9 L762.4,432.0 L762.6,431.2 L762.9,432.5 L763.1,429.7 L763.3,429.7 L763.6,429.2 L763.8,429.4 L764.1,429.0 L764.3,426.5 L764.5,425.3 L764.8,423.6 L765.0,422.0 L765.2,422.2 L765.5,422.5 L765.8,421.5 L766.0,419.8 L766.2,419.4 L766.5,419.2 L766.8,419.7 L767.0,418.0 L767.2,419.3 L767.5,420.0 L767.7,419.6 L767.9,419.3 L768.2,419.4 L768.4,422.6 L768.7,421.2 L768.9,424.6 L769.1,421.5 L769.4,423.5 L769.6,425.0 L769.8,425.8 L770.1,425.4 L770.3,425.0 L770.6,424.6 L770.8,423.3 L771.0,422.3 L771.3,420.5 L771.5,420.6 L771.8,421.0 L772.0,420.0 L772.2,420.6 L772.5,420.4 L772.8,421.0 L773.0,421.1 L773.2,423.2 L773.5,420.4 L773.8,422.3 L774.0,418.7 L774.2,419.7 L774.5,419.6 L774.8,419.1 L775.0,418.4 L775.2,417.8 L775.5,418.2 L775.8,418.1 L776.0,417.2 L776.2,415.2 L776.5,418.5 L776.8,417.1 L777.0,416.8 L777.2,418.3 L777.5,419.2 L777.8,419.2 L778.0,419.0 L778.2,419.8 L778.5,419.2 L778.7,419.2 L779.0,422.0 L779.2,420.3 L779.4,421.1 L779.7,416.9 L779.9,417.1 L780.2,418.1 L780.4,416.5 L780.6,416.2 L780.9,417.4 L781.1,415.6 L781.4,416.0 L781.6,417.0 L781.8,418.2 L782.1,418.0 L782.3,416.3 L782.6,418.5 L782.8,416.5 L783.0,418.4 L783.3,419.1 L783.5,421.2 L783.8,419.2 L784.0,420.0 L784.2,419.1 L784.5,419.2 L784.8,419.2 L785.0,420.7 L785.2,420.8 L785.5,420.2 L785.8,418.5 L786.0,422.3 L786.2,422.3 L786.5,419.9 L786.8,417.2 L787.0,419.0 L787.2,420.3 L787.5,421.0 L787.7,419.3 L787.9,421.8 L788.2,424.0 L788.4,425.2 L788.7,427.7 L788.9,427.6 L789.1,426.1 L789.4,427.5 L789.6,426.0 L789.8,426.0 L790.1,424.9 L790.3,423.7 L790.6,424.7 L790.8,420.8 L791.0,423.2 L791.3,423.0 L791.5,424.5 L791.8,424.8 L792.0,423.0 L792.2,422.0 L792.5,423.1 L792.8,425.5 L793.0,425.2 L793.2,426.1 L793.5,427.6 L793.8,427.4 L794.0,428.0 L794.2,427.0 L794.5,428.4 L794.8,428.3 L795.0,428.3 L795.2,424.8 L795.5,425.9 L795.8,425.1 L796.0,424.0 L796.2,425.9 L796.5,426.7 L796.7,429.7 L796.9,431.2 L797.1,431.7 L797.4,433.8 L797.6,436.0 L797.9,440.7 L798.1,445.3 L798.4,450.0 L798.6,449.0 L798.9,445.2 L799.1,444.1 L799.3,443.9 L799.5,441.4 L799.8,440.4 L800.0,439.0 L800.2,440.7 L800.5,440.7 L800.8,440.1 L801.0,439.6 L801.2,439.1 L801.5,434.9 L801.8,434.6 L802.0,436.0 L802.2,438.2 L802.5,440.4 L802.7,438.4 L802.9,442.5 L803.1,444.8 L803.4,443.3 L803.6,444.0 L803.9,446.3 L804.1,448.7 L804.4,451.0 L804.6,448.2 L804.9,447.5 L805.1,448.0 L805.3,443.5 L805.5,441.4 L805.8,438.3 L806.0,438.0 L806.2,436.5 L806.5,435.8 L806.8,435.3 L807.0,435.6 L807.2,434.7 L807.5,437.3 L807.8,433.7 L808.0,433.0 L808.2,433.8 L808.5,432.6 L808.7,432.5 L809.0,433.1 L809.2,432.9 L809.4,430.5 L809.7,430.1 L809.9,428.6 L810.2,427.2 L810.4,428.0 L810.6,430.5 L810.9,431.0 L811.1,430.8 L811.3,433.3 L811.6,429.7 L811.8,424.6 L812.1,429.6 L812.3,431.9 L812.5,434.9 L812.8,434.0 L813.0,435.0 L813.2,436.2 L813.5,433.6 L813.7,432.3 L813.9,433.3 L814.2,428.7 L814.4,428.4 L814.7,429.2 L814.9,424.6 L815.1,425.5 L815.4,426.5 L815.6,429.0 L815.8,429.3 L816.1,430.2 L816.3,430.8 L816.6,435.0 L816.8,432.2 L817.0,435.6 L817.3,435.4 L817.5,436.8 L817.8,436.6 L818.0,439.0 L818.2,440.5 L818.5,440.5 L818.8,436.4 L819.0,435.4 L819.2,436.9 L819.5,433.4 L819.8,434.2 L820.0,434.0 L820.2,435.9 L820.5,435.9 L820.7,437.5 L820.9,437.7 L821.1,440.6 L821.4,443.1 L821.6,444.0 L821.8,445.8 L822.1,447.2 L822.3,451.8 L822.5,452.7 L822.8,453.1 L823.0,454.0 L823.2,453.9 L823.5,456.7 L823.7,455.6 L823.9,459.4 L824.2,459.1 L824.4,460.0 L824.6,460.5 L824.9,459.5 L825.1,455.6 L825.3,455.7 L825.5,452.2 L825.8,449.8 L826.0,452.0 L826.2,455.3 L826.5,456.6 L826.7,460.1 L826.9,458.9 L827.1,461.2 L827.4,463.7 L827.6,464.0 L827.8,462.1 L828.1,461.2 L828.3,460.6 L828.5,456.2 L828.8,454.2 L829.0,454.0 L829.2,452.8 L829.5,451.4 L829.8,452.0 L830.0,449.3 L830.2,445.4 L830.5,448.3 L830.8,443.6 L831.0,444.0 L831.2,442.4 L831.5,442.1 L831.8,439.5 L832.0,440.6 L832.2,438.9 L832.5,437.3 L832.8,438.4 L833.0,436.0 L833.2,435.5 L833.5,435.2 L833.8,434.4 L834.0,432.5 L834.2,433.7 L834.5,433.9 L834.8,432.6 L835.0,431.0 L835.2,430.7 L835.5,430.5 L835.8,431.9 L836.0,430.0 L836.2,431.3 L836.5,430.6 L836.8,429.3 L837.0,430.0 L837.2,429.1 L837.5,429.9 L837.8,429.5 L838.0,429.0 L838.2,428.2 L838.5,427.9 L838.8,426.8 L839.0,428.1 L839.2,426.3 L839.5,425.9 L839.8,427.0 L840.0,426.7 L840.2,423.4 L840.5,424.8 L840.8,424.9 L841.0,424.0 L841.2,425.8 L841.5,423.2 L841.8,425.6 L842.0,425.9 L842.2,426.7 L842.5,427.5 L842.8,428.5 L843.0,429.0 L843.2,430.6 L843.5,428.7 L843.8,432.0 L844.0,432.2 L844.2,432.1 L844.5,430.5 L844.8,429.8 L845.0,431.0 L845.2,429.4 L845.5,426.8 L845.7,427.7 L845.9,427.1 L846.2,425.5 L846.4,424.2 L846.7,426.4 L846.9,425.3 L847.1,424.4 L847.4,423.8 L847.6,422.0 L847.8,421.6 L848.1,422.9 L848.3,420.2 L848.6,424.8 L848.8,424.9 L849.0,424.3 L849.3,423.3 L849.5,422.1 L849.8,422.8 L850.0,423.0 L850.2,426.4 L850.5,429.0 L850.7,430.1 L850.9,431.2 L851.1,432.7 L851.4,435.8 L851.6,438.0 L851.9,434.0 L852.1,430.0 L852.4,426.0 L852.6,426.3 L852.9,424.0 L853.1,421.7 L853.4,421.8 L853.6,418.6 L853.9,418.8 L854.1,417.7 L854.4,417.0 L854.6,416.0 L854.9,417.4 L855.1,417.3 L855.4,418.7 L855.6,417.4 L855.9,415.6 L856.1,416.0 L856.4,416.6 L856.6,417.6 L856.9,415.9 L857.1,414.6 L857.4,416.2 L857.6,414.0 L857.8,413.3 L858.1,414.7 L858.3,414.5 L858.6,413.6 L858.8,415.1 L859.1,412.8 L859.3,416.3 L859.5,413.7 L859.8,414.3 L860.0,415.7 L860.3,412.9 L860.5,412.1 L860.8,412.0 L861.0,412.0 L861.2,411.8 L861.5,412.5 L861.8,412.5 L862.0,414.6 L862.2,417.2 L862.5,416.1 L862.8,418.6 L863.0,416.7 L863.2,414.6 L863.5,414.5 L863.8,415.0 L864.0,414.4 L864.2,416.0 L864.5,415.5 L864.8,417.2 L865.0,418.0 L865.2,417.9 L865.5,417.9 L865.8,419.0 L866.0,419.0 L866.2,418.1 L866.5,417.5 L866.8,417.8 L867.0,417.9 L867.2,418.7 L867.5,417.8 L867.8,414.6 L868.0,415.0 L868.2,415.8 L868.5,417.1 L868.8,417.4 L869.0,417.5 L869.2,415.9 L869.5,417.3 L869.8,417.8 L870.0,416.8 L870.2,417.9 L870.5,417.6 L870.8,419.6 L871.0,419.0 L871.2,419.0 L871.5,418.4 L871.8,419.9 L872.0,420.8 L872.2,420.7 L872.5,421.1 L872.8,421.2 L873.0,421.0 L873.2,422.2 L873.5,423.5 L873.8,424.8 L874.0,426.0 L874.2,424.8 L874.5,423.4 L874.7,422.1 L874.9,420.5 L875.1,418.2 L875.4,417.9 L875.6,416.0 L875.9,414.4 L876.1,413.6 L876.4,413.2 L876.6,412.2 L876.9,411.3 L877.1,410.7 L877.4,408.7 L877.6,408.0 L877.8,406.8 L878.1,405.0 L878.3,403.7 L878.6,404.4 L878.8,402.3 L879.0,403.3 L879.3,402.7 L879.5,402.6 L879.8,402.2 L880.0,400.0 L880.2,399.9 L880.5,401.3 L880.7,401.0 L881.0,401.3 L881.2,401.6 L881.4,402.0 L881.7,401.7 L881.9,401.6 L882.2,402.8 L882.4,404.0 L882.6,403.0 L882.9,402.9 L883.1,402.0 L883.3,402.7 L883.6,403.4 L883.8,403.1 L884.1,403.5 L884.3,403.6 L884.5,403.3 L884.8,403.2 L885.0,402.0 L885.2,401.5 L885.5,401.9 L885.8,401.6 L886.0,400.9 L886.2,401.9 L886.5,401.3 L886.8,402.8 L887.0,399.3 L887.2,400.7 L887.5,400.7 L887.8,400.2 L888.0,400.0 L888.2,398.3 L888.5,398.3 L888.8,398.9 L889.0,398.4 L889.2,398.1 L889.5,397.5 L889.8,397.6 L890.0,398.0 L890.2,396.6 L890.5,396.0 L890.7,395.4 L891.0,395.7 L891.2,394.8 L891.4,394.9 L891.7,394.9 L891.9,394.0 L892.2,393.6 L892.4,392.0 L892.6,391.6 L892.9,392.1 L893.1,389.9 L893.3,390.1 L893.6,390.8 L893.8,389.8 L894.1,390.4 L894.3,390.4 L894.5,390.3 L894.8,388.8 L895.0,389.0 L895.2,389.1 L895.5,390.1 L895.7,390.5 L895.9,390.0 L896.2,391.7 L896.4,390.1 L896.7,392.2 L896.9,390.5 L897.1,391.3 L897.4,392.5 L897.6,393.0 L897.8,393.6 L898.1,391.8 L898.3,392.8 L898.6,393.0 L898.8,393.3 L899.1,392.9 L899.3,392.6 L899.5,394.0 L899.8,394.3 L900.0,391.6 L900.3,392.1 L900.5,392.8 L900.8,393.1 L901.0,394.0 L901.2,394.4 L901.5,394.1 L901.8,394.3 L902.0,392.3 L902.2,392.9 L902.5,392.6 L902.8,392.3 L903.0,392.4 L903.2,392.5 L903.5,391.8 L903.8,391.9 L904.0,390.4 L904.2,391.3 L904.5,389.7 L904.8,391.0 L905.0,390.3 L905.2,391.4 L905.5,391.0 L905.8,390.1 L906.0,389.6 L906.2,391.3 L906.5,389.4 L906.8,389.6 L907.0,392.0 L907.2,392.8 L907.5,393.1 L907.8,393.1 L908.0,394.0 L908.2,393.5 L908.5,393.7 L908.7,392.9 L909.0,392.1 L909.2,392.4 L909.4,390.8 L909.7,389.9 L909.9,389.2 L910.2,388.4 L910.4,388.0 L910.6,387.2 L910.9,386.9 L911.1,387.4 L911.3,386.5 L911.6,385.9 L911.8,384.6 L912.1,385.4 L912.3,387.1 L912.5,386.0 L912.8,386.2 L913.0,385.0 L913.2,386.0 L913.5,386.1 L913.7,385.4 L913.9,386.6 L914.2,385.8 L914.4,385.6 L914.7,386.7 L914.9,386.8 L915.1,387.5 L915.4,386.8 L915.6,388.0 L915.8,388.4 L916.1,386.3 L916.3,386.0 L916.6,385.9 L916.8,384.8 L917.0,387.2 L917.3,385.4 L917.5,384.2 L917.8,385.1 L918.0,384.4 L918.2,384.0 L918.5,384.4 L918.8,384.7 L919.0,384.9 L919.2,383.1 L919.5,382.2 L919.8,382.4 L920.0,381.6 L920.2,381.3 L920.5,382.4 L920.7,381.3 L921.0,381.4 L921.2,382.8 L921.4,382.3 L921.7,382.7 L921.9,384.3 L922.2,385.0 L922.4,385.6 L922.6,385.1 L922.9,385.6 L923.1,387.7 L923.3,387.1 L923.6,388.7 L923.8,387.6 L924.1,389.0 L924.3,388.9 L924.5,388.7 L924.8,390.6 L925.0,390.0 L925.2,389.7 L925.5,389.1 L925.8,390.5 L926.0,389.0 L926.2,388.8 L926.5,387.8 L926.8,388.2 L927.0,388.5 L927.2,388.7 L927.5,387.2 L927.8,386.2 L928.0,385.0 L928.2,384.8 L928.5,384.7 L928.8,383.7 L929.0,383.4 L929.2,383.4 L929.5,382.4 L929.8,381.4 L930.0,381.1 L930.2,380.2 L930.5,380.9 L930.8,378.6 L931.0,379.0 L931.2,378.6 L931.5,379.3 L931.8,378.9 L932.0,375.9 L932.2,377.3 L932.5,376.0 L932.8,376.0 L933.0,374.1 L933.2,375.3 L933.5,376.1 L933.8,374.2 L934.0,374.0 L934.2,374.0 L934.5,374.3 L934.8,373.8 L935.0,372.8 L935.2,373.0 L935.5,373.4 L935.8,371.1 L936.0,372.4 L936.2,370.9 L936.5,372.1 L936.8,372.3 L937.0,372.0 L937.2,371.9 L937.5,372.8 L937.7,373.2 L937.9,374.0 L938.2,374.1 L938.4,374.5 L938.7,374.7 L938.9,373.6 L939.1,374.0 L939.4,374.6 L939.6,374.0 L939.8,372.5 L940.1,372.6 L940.3,372.1 L940.5,370.6 L940.8,369.8 L941.0,369.9 L941.2,369.8 L941.5,368.9 L941.7,367.6 L941.9,366.9 L942.2,366.3 L942.4,366.0 L942.6,366.2 L942.9,365.3 L943.1,365.3 L943.3,367.0 L943.6,364.7 L943.8,363.9 L944.1,364.0 L944.3,363.5 L944.5,362.7 L944.8,362.2 L945.0,361.0 L945.2,362.4 L945.5,362.0 L945.8,361.7 L946.0,361.0 L946.2,359.6 L946.5,359.8 L946.8,358.5 L947.0,358.8 L947.2,358.3 L947.5,356.4 L947.8,356.5 L948.0,357.0 L948.2,356.4 L948.5,355.8 L948.7,354.3 L949.0,354.0 L949.2,352.5 L949.4,352.2 L949.7,352.0 L949.9,347.9 L950.2,348.4 L950.4,348.0 L950.6,347.2 L950.9,346.7 L951.1,345.0 L951.4,345.6 L951.6,344.8 L951.9,344.3 L952.1,342.4 L952.4,341.0 L952.6,344.0 L952.9,348.5 L953.1,350.7 L953.4,354.9 L953.6,358.0 L953.9,361.5 L954.1,365.0 L954.4,368.5 L954.6,372.0 L954.8,370.0 L955.1,367.9 L955.3,367.0 L955.5,364.4 L955.8,362.2 L956.0,360.0 L956.2,360.2 L956.5,358.0 L956.8,356.4 L957.0,356.1 L957.2,355.3 L957.5,354.3 L957.8,354.5 L958.0,353.0 L958.2,353.3 L958.5,353.9 L958.8,353.9 L959.0,353.4 L959.2,354.4 L959.5,355.5 L959.8,354.4 L960.0,354.0 L960.2,356.1 L960.5,358.2 L960.8,361.3 L961.0,360.8 L961.2,364.2 L961.5,365.2 L961.8,367.6 L962.0,370.0 L962.2,369.3 L962.5,368.9 L962.8,368.9 L963.0,368.4 L963.2,367.4 L963.5,368.2 L963.8,367.5 L964.0,366.0 L964.2,365.4 L964.5,365.8 L964.8,363.3 L965.0,361.8 L965.2,361.0 L965.5,362.0 L965.8,359.5 L966.0,359.0 L966.2,359.3 L966.5,360.3 L966.8,360.7 L967.0,361.5 L967.2,361.7 L967.5,363.5 L967.8,364.0 L968.0,365.0 L968.2,364.2 L968.5,364.6 L968.8,362.9 L969.0,362.0 L969.2,363.2 L969.5,361.0 L969.8,361.5 L970.0,360.0 L970.2,359.1 L970.5,359.3 L970.8,358.4 L971.0,357.5 L971.2,357.5 L971.5,356.5 L971.8,355.5 L972.0,356.0 L972.2,356.3 L972.5,358.5 L972.7,355.1 L973.0,355.3 L973.2,358.4 L973.4,358.3 L973.7,359.5 L973.9,359.2 L974.2,359.5 L974.4,359.0 L974.6,357.7 L974.9,357.1 L975.1,355.2 L975.4,353.1 L975.6,352.4 L975.9,352.3 L976.1,351.7 L976.4,350.0 L976.6,349.3 L976.9,348.9 L977.1,349.5 L977.3,351.3 L977.6,351.8 L977.8,352.0 L978.1,353.8 L978.3,354.2 L978.5,356.1 L978.8,355.5 L979.0,357.0 L979.2,355.9 L979.5,355.9 L979.8,354.9 L980.0,353.3 L980.2,352.3 L980.5,352.9 L980.8,351.3 L981.0,351.0 L981.2,352.1 L981.5,351.9 L981.8,349.8 L982.0,350.3 L982.2,348.1 L982.5,347.7 L982.8,347.2 L983.0,348.3 L983.2,346.5 L983.5,347.4 L983.8,347.1 L984.0,347.0 L984.2,346.9 L984.5,345.7 L984.8,346.7 L985.0,348.0 L985.2,347.9 L985.5,345.2 L985.8,345.5 L986.0,344.2 L986.2,345.0 L986.5,344.0 L986.8,343.4 L987.0,345.0 L987.2,344.3 L987.5,344.0 L987.8,343.8 L988.0,341.1 L988.2,341.2 L988.5,341.4 L988.8,338.7 L989.0,339.5 L989.2,339.0 L989.5,338.4 L989.8,340.1 L990.0,339.6 L990.2,341.2 L990.5,341.8 L990.8,342.4 L991.0,340.8 L991.2,342.2 L991.5,341.8 L991.8,341.2 L992.0,342.0 L992.2,341.2 L992.5,340.6 L992.7,339.4 L992.9,340.2 L993.1,339.1 L993.4,338.8 L993.6,337.6 L993.9,338.3 L994.1,340.3 L994.4,339.8 L994.6,338.4 L994.9,340.9 L995.1,339.2 L995.4,340.6 L995.6,342.0 L995.8,343.8 L996.1,345.8 L996.3,347.2 L996.5,348.8 L996.8,350.5 L997.0,352.0 L997.2,353.8 L997.5,355.3 L997.7,358.6 L997.9,360.5 L998.2,363.1 L998.4,364.0 L998.6,365.7 L998.9,367.8 L999.1,369.0 L999.4,372.2 L999.6,373.0 L999.8,370.5 L1000.1,367.8 L1000.3,364.9 L1000.5,360.6 L1000.8,358.5 L1001.0,355.0 L1001.2,353.0 L1001.5,355.7 L1001.7,358.9 L1001.9,359.3 L1002.2,361.5 L1002.4,364.0 L1002.6,364.0 L1002.9,363.2 L1003.1,360.8 L1003.4,358.7 L1003.6,359.0 L1003.8,361.2 L1004.1,360.7 L1004.3,362.0 L1004.5,363.6 L1004.8,367.9 L1005.0,369.0 L1005.2,365.8 L1005.5,362.5 L1005.8,359.2 L1006.0,356.0 L1006.2,358.1 L1006.5,362.2 L1006.7,364.1 L1006.9,367.0 L1007.1,369.9 L1007.4,369.3 L1007.6,374.0 L1007.8,377.7 L1008.1,378.9 L1008.3,383.8 L1008.5,384.3 L1008.8,389.5 L1009.0,392.0 L1009.2,395.8 L1009.5,399.5 L1009.8,403.2 L1010.0,407.0 L1010.2,405.3 L1010.5,404.8 L1010.7,400.4 L1010.9,399.2 L1011.1,397.5 L1011.4,394.8 L1011.6,392.0 L1011.8,390.0 L1012.1,387.7 L1012.3,386.0 L1012.5,381.5 L1012.8,383.6 L1013.0,380.0 L1013.2,378.9 L1013.5,377.8 L1013.8,375.0 L1014.0,375.9 L1014.2,372.9 L1014.5,371.4 L1014.8,372.1 L1015.0,369.0 L1015.2,366.6 L1015.5,368.0 L1015.7,365.4 L1015.9,364.3 L1016.2,363.7 L1016.4,363.3 L1016.7,359.3 L1016.9,361.1 L1017.1,362.4 L1017.4,359.5 L1017.6,359.0 L1017.8,357.7 L1018.1,357.0 L1018.3,354.1 L1018.6,351.3 L1018.8,353.0 L1019.0,352.3 L1019.3,354.4 L1019.5,350.5 L1019.8,349.3 L1020.0,350.0 L1020.2,350.8 L1020.5,351.3 L1020.7,349.8 L1021.0,350.3 L1021.2,347.9 L1021.4,350.8 L1021.7,349.4 L1021.9,350.6 L1022.2,348.6 L1022.4,348.0 L1022.6,349.3 L1022.9,350.3 L1023.1,353.7 L1023.4,353.0 L1023.6,356.0 L1023.9,355.8 L1024.1,352.4 L1024.3,354.8 L1024.6,354.2 L1024.8,351.3 L1025.1,350.1 L1025.3,348.7 L1025.6,349.0 L1025.8,348.1 L1026.1,347.3 L1026.3,347.6 L1026.6,347.6 L1026.8,345.4 L1027.0,341.4 L1027.3,342.9 L1027.5,343.7 L1027.8,342.2 L1028.0,341.0 L1028.2,339.4 L1028.5,340.1 L1028.7,339.9 L1029.0,339.4 L1029.2,337.8 L1029.4,338.1 L1029.7,340.6 L1029.9,338.6 L1030.2,337.4 L1030.4,338.0 L1030.7,337.7 L1030.9,336.5 L1031.2,338.3 L1031.4,341.1 L1031.7,339.2 L1031.9,338.2 L1032.2,338.3 L1032.4,340.0 L1032.7,339.5 L1032.9,341.8 L1033.2,341.5 L1033.4,346.2 L1033.7,346.1 L1033.9,345.9 L1034.2,347.4 L1034.4,349.0 L1034.6,349.4 L1034.9,350.9 L1035.1,354.3 L1035.3,353.4 L1035.6,357.0 L1035.8,356.1 L1036.1,355.9 L1036.3,355.3 L1036.5,356.0 L1036.8,358.9 L1037.0,360.0 L1037.2,358.6 L1037.5,356.3 L1037.7,355.6 L1037.9,351.8 L1038.2,350.5 L1038.4,350.0 L1038.6,349.7 L1038.9,348.2 L1039.1,349.2 L1039.3,349.6 L1039.6,344.4 L1039.8,344.1 L1040.1,343.6 L1040.3,341.6 L1040.5,342.3 L1040.8,339.4 L1041.0,340.0 L1041.2,338.1 L1041.5,337.6 L1041.7,337.3 L1041.9,337.3 L1042.2,337.7 L1042.4,337.9 L1042.7,337.1 L1042.9,338.9 L1043.1,335.5 L1043.4,332.9 L1043.6,333.0 L1043.8,332.2 L1044.1,332.8 L1044.3,334.3 L1044.6,331.8 L1044.8,334.4 L1045.1,331.6 L1045.3,333.3 L1045.5,328.7 L1045.8,333.4 L1046.0,330.7 L1046.3,333.7 L1046.5,330.3 L1046.8,330.4 L1047.0,331.0 L1047.2,333.7 L1047.5,334.7 L1047.7,335.7 L1047.9,336.3 L1048.2,337.7 L1048.4,340.0 L1048.6,339.7 L1048.9,341.3 L1049.1,343.7 L1049.3,346.6 L1049.5,349.4 L1049.8,350.7 L1050.0,352.0 L1050.2,350.1 L1050.5,354.1 L1050.7,353.0 L1050.9,354.1 L1051.1,352.4 L1051.4,355.3 L1051.6,355.0 L1051.8,356.5 L1052.1,352.8 L1052.3,353.5 L1052.6,351.7 L1052.8,346.2 L1053.1,350.1 L1053.3,349.4 L1053.6,347.0 L1053.8,348.6 L1054.1,343.8 L1054.3,342.5 L1054.6,343.3 L1054.8,341.1 L1055.1,338.5 L1055.3,335.7 L1055.6,334.0 L1055.8,337.1 L1056.1,333.7 L1056.3,330.4 L1056.6,334.8 L1056.8,337.6 L1057.0,331.9 L1057.3,337.0 L1057.5,338.4 L1057.8,340.2 L1058.0,340.0 L1058.2,342.8 L1058.5,342.6 L1058.7,345.8 L1058.9,345.7 L1059.1,347.3 L1059.4,347.9 L1059.6,349.0 L1059.8,344.1 L1060.1,347.5 L1060.3,343.1 L1060.6,343.1 L1060.8,343.2 L1061.1,339.8 L1061.3,338.0 L1061.6,338.0 L1061.8,335.0 L1062.1,332.7 L1062.3,328.5 L1062.6,328.8 L1062.8,329.9 L1063.0,327.4 L1063.3,326.8 L1063.5,328.6 L1063.8,329.1 L1064.0,328.0 L1064.2,330.3 L1064.5,324.6 L1064.8,331.9 L1065.0,323.8 L1065.2,325.0 L1065.5,331.8 L1065.8,326.4 L1066.0,324.3 L1066.2,328.8 L1066.5,329.3 L1066.8,325.2 L1067.0,323.0 L1067.2,321.1 L1067.5,318.0 L1067.7,316.6 L1067.9,323.6 L1068.2,320.5 L1068.4,324.5 L1068.7,322.5 L1068.9,323.9 L1069.1,326.9 L1069.4,325.7 L1069.6,327.0 L1069.8,326.3 L1070.1,323.5 L1070.3,323.8 L1070.6,322.7 L1070.8,319.5 L1071.0,319.6 L1071.3,317.1 L1071.5,318.3 L1071.8,318.9 L1072.0,317.0 L1072.2,315.4 L1072.5,316.2 L1072.8,314.5 L1073.0,313.9 L1073.2,315.2 L1073.5,317.1 L1073.8,316.9 L1074.0,316.9 L1074.2,311.6 L1074.5,313.2 L1074.8,311.4 L1075.0,312.0 L1075.2,310.7 L1075.5,309.4 L1075.8,309.8 L1076.0,306.4 L1076.2,307.5 L1076.5,306.7 L1076.8,306.9 L1077.0,305.0 L1077.2,305.4 L1077.5,306.3 L1077.8,305.7 L1078.0,305.9 L1078.2,307.3 L1078.5,308.6 L1078.8,307.8 L1079.0,308.0 L1079.2,308.7 L1079.5,312.6 L1079.7,313.5 L1079.9,315.3 L1080.2,316.2 L1080.4,319.0 L1080.6,316.5 L1080.9,314.8 L1081.1,312.2 L1081.3,308.9 L1081.5,308.7 L1081.8,306.3 L1082.0,304.0 L1082.2,304.3 L1082.5,302.4 L1082.7,303.2 L1082.9,305.5 L1083.1,305.5 L1083.4,306.0 L1083.6,307.0 L1083.9,313.3 L1084.1,319.7 L1084.4,326.0 L1084.6,332.3 L1084.9,346.7 L1085.1,340.5 L1085.4,347.5 L1085.6,346.0 L1085.9,357.3 L1086.1,368.7 L1086.4,380.0 L1086.7,387.5 L1086.9,395.0 L1087.2,402.5 L1087.4,410.0 L1087.7,423.0 L1088.0,436.0 L1088.2,440.5 L1088.5,445.0 L1088.8,449.5 L1089.0,454.0 L1089.2,445.5 L1089.5,437.0 L1089.8,428.5 L1090.0,420.0 L1090.2,422.5 L1090.5,425.0 L1090.8,427.5 L1091.0,430.0 L1091.2,423.5 L1091.5,417.0 L1091.8,410.5 L1092.0,404.0 L1092.2,400.0 L1092.5,396.0 L1092.8,392.0 L1093.0,388.0 L1093.2,382.8 L1093.5,384.4 L1093.7,386.6 L1093.9,384.8 L1094.2,391.0 L1094.4,396.0 L1094.6,386.4 L1094.9,384.3 L1095.1,379.2 L1095.4,381.0 L1095.6,368.0 L1095.8,366.8 L1096.1,368.3 L1096.3,378.3 L1096.5,382.7 L1096.8,384.9 L1097.0,386.0 L1097.2,381.1 L1097.5,381.8 L1097.7,381.3 L1097.9,380.7 L1098.2,379.4 L1098.4,378.0 L1098.6,378.9 L1098.9,371.7 L1099.1,370.7 L1099.3,369.7 L1099.5,369.0 L1099.8,365.7 L1100.0,364.0 L1100.2,356.9 L1100.5,356.4 L1100.7,355.9 L1101.0,350.9 L1101.2,350.0 L1101.5,340.3 L1101.7,330.7 L1102.0,321.0 L1102.2,330.0 L1102.5,338.0 L1102.7,344.3 L1103.0,354.7 L1103.2,360.0 L1103.4,360.3 L1103.7,353.8 L1103.9,350.9 L1104.2,349.5 L1104.4,350.0 L1104.6,357.0 L1104.9,357.5 L1105.1,360.2 L1105.4,364.9 L1105.6,364.0 L1105.8,362.9 L1106.1,360.9 L1106.3,355.3 L1106.5,354.1 L1106.8,355.6 L1107.0,354.0 L1107.2,349.5 L1107.5,343.2 L1107.7,350.9 L1107.9,343.1 L1108.2,343.9 L1108.4,344.0 L1108.6,339.0 L1108.9,344.1 L1109.1,345.1 L1109.3,340.6 L1109.6,340.5 L1109.8,342.2 L1110.1,333.9 L1110.3,342.4 L1110.5,345.4 L1110.8,340.9 L1111.0,338.0 L1111.2,339.7 L1111.5,334.2 L1111.7,332.7 L1111.9,332.9 L1112.2,336.2 L1112.4,327.1 L1112.7,330.7 L1112.9,324.3 L1113.1,335.9 L1113.4,328.6 L1113.6,328.0 L1113.8,325.9 L1114.1,329.0 L1114.3,331.8 L1114.6,333.7 L1114.8,330.1 L1115.1,331.0 L1115.3,328.8 L1115.6,332.0 L1115.8,331.2 L1116.1,327.3 L1116.3,326.4 L1116.5,325.5 L1116.8,319.1 L1117.0,319.0 L1117.2,321.8 L1117.5,321.4 L1117.8,326.3 L1118.0,329.5 L1118.2,330.6 L1118.5,331.7 L1118.8,334.5 L1119.0,338.0 L1119.2,337.8 L1119.5,337.0 L1119.7,331.6 L1119.9,331.3 L1120.2,327.7 L1120.4,328.0 L1120.6,328.1 L1120.9,332.3 L1121.1,332.8 L1121.3,332.6 L1121.5,335.5 L1121.8,338.2 L1122.0,340.0 L1122.2,335.5 L1122.5,332.0 L1122.7,327.6 L1122.9,327.8 L1123.1,323.6 L1123.4,319.7 L1123.6,317.0 L1123.8,319.0 L1124.1,319.0 L1124.3,319.9 L1124.5,322.2 L1124.8,324.6 L1125.0,326.0 L1125.2,325.6 L1125.5,322.5 L1125.7,317.3 L1125.9,320.6 L1126.2,318.2 L1126.4,316.0 L1126.7,324.0 L1126.9,332.0 L1127.2,340.0 L1127.4,336.3 L1127.7,328.2 L1127.9,326.7 L1128.2,323.4 L1128.4,320.0 L1128.6,314.3 L1128.9,314.8 L1129.1,309.5 L1129.4,306.4 L1129.6,300.0 L1129.8,297.0 L1130.0,294.0 L1130.2,291.4 L1130.5,292.0 L1130.8,292.9 L1131.0,287.6 L1131.2,286.4 L1131.5,284.8 L1131.8,281.2 L1132.0,282.0 L1132.2,284.2 L1132.5,285.6 L1132.8,282.0 L1133.0,280.4 L1133.2,279.0 L1133.5,281.1 L1133.8,279.3 L1134.0,280.0 L1134.2,279.3 L1134.5,277.5 L1134.8,276.7 L1135.0,277.0 L1135.2,279.7 L1135.5,280.0 L1135.8,278.2 L1136.0,276.0 L1136.2,273.3 L1136.5,276.0 L1136.8,274.9 L1137.0,278.1 L1137.2,274.9 L1137.5,280.7 L1137.8,280.3 L1138.0,278.0 L1138.2,275.6 L1138.5,275.6 L1138.8,270.7 L1139.0,269.0 L1139.2,266.7 L1139.5,262.3 L1139.8,261.4 L1140.0,260.0 L1140.2,260.8 L1140.5,260.0 L1140.8,260.1 L1141.0,258.8 L1141.2,260.9 L1141.5,257.6 L1141.8,260.7 L1142.0,258.0 L1142.2,258.9 L1142.5,260.1 L1142.7,266.3 L1142.9,267.9 L1143.1,269.0 L1143.4,273.4 L1143.6,274.0 L1143.8,271.5 L1144.1,270.5 L1144.3,264.3 L1144.6,261.5 L1144.8,259.6 L1145.1,255.2 L1145.3,252.8 L1145.6,252.0 L1145.8,250.9 L1146.1,249.7 L1146.3,249.7 L1146.6,244.0 L1146.8,243.5 L1147.1,243.8 L1147.3,243.7 L1147.6,242.0 L1147.8,241.0 L1148.1,240.8 L1148.3,245.9 L1148.6,242.8 L1148.8,246.4 L1149.1,245.3 L1149.3,244.7 L1149.6,244.0 L1149.8,241.8 L1150.1,241.0 L1150.3,238.3 L1150.5,232.4 L1150.8,231.6 L1151.0,228.0 L1151.2,229.8 L1151.5,230.5 L1151.8,229.7 L1152.0,229.8 L1152.2,227.8 L1152.5,232.1 L1152.8,230.6 L1153.0,230.0 L1153.2,229.6 L1153.5,227.3 L1153.8,221.6 L1154.0,225.1 L1154.2,222.0 L1154.5,222.6 L1154.8,218.5 L1155.0,218.0 L1155.2,216.0 L1155.5,216.0 L1155.8,213.7 L1156.0,214.9 L1156.2,214.0 L1156.5,214.7 L1156.8,212.6 L1157.0,214.0 L1157.2,210.7 L1157.5,211.5 L1157.8,208.2 L1158.0,207.1 L1158.2,205.8 L1158.5,202.8 L1158.8,202.6 L1159.0,200.0 L1159.2,200.5 L1159.5,199.2 L1159.8,199.0 L1160.0,199.5 L1160.2,201.3 L1160.5,198.4 L1160.8,197.5 L1161.0,198.0 L1161.2,200.3 L1161.5,199.9 L1161.7,203.7 L1161.9,204.5 L1162.2,206.6 L1162.4,210.0 L1162.7,209.7 L1162.9,206.3 L1163.2,204.4 L1163.4,203.6 L1163.7,200.2 L1163.9,198.7 L1164.2,196.9 L1164.4,196.0 L1164.6,196.6 L1164.9,192.7 L1165.1,193.6 L1165.3,196.4 L1165.6,196.0 L1165.8,197.5 L1166.1,197.2 L1166.3,198.0 L1166.5,198.0 L1166.8,197.7 L1167.0,200.0 L1167.2,203.1 L1167.5,204.7 L1167.7,204.7 L1167.9,207.7 L1168.2,212.6 L1168.4,212.0 L1168.6,206.8 L1168.9,209.5 L1169.1,206.5 L1169.3,201.6 L1169.5,198.0 L1169.8,199.7 L1170.0,195.0 L1170.2,197.8 L1170.5,198.3 L1170.7,202.8 L1171.0,202.8 L1171.2,203.8 L1171.4,205.2 L1171.7,206.9 L1171.9,207.6 L1172.2,210.6 L1172.4,212.0 L1172.7,209.3 L1172.9,208.6 L1173.2,201.9 L1173.4,198.1 L1173.7,198.3 L1173.9,197.0 L1174.2,196.8 L1174.4,194.0 L1174.6,192.0 L1174.9,196.3 L1175.1,194.7 L1175.3,192.8 L1175.6,197.2 L1175.8,193.9 L1176.1,192.1 L1176.3,192.0 L1176.5,187.5 L1176.8,187.9 L1177.0,187.0 L1177.2,187.3 L1177.5,186.2 L1177.8,185.4 L1178.0,180.9 L1178.2,183.5 L1178.5,182.6 L1178.8,182.3 L1179.0,178.5 L1179.2,180.1 L1179.5,179.8 L1179.8,181.0 L1180.0,180.0 L1180.2,181.7 L1180.5,183.0 L1180.7,184.6 L1181.0,183.9 L1181.2,186.5 L1181.4,189.6 L1181.7,183.7 L1181.9,189.9 L1182.2,191.2 L1182.4,192.0 L1182.7,191.4 L1182.9,193.9 L1183.2,196.4 L1183.4,196.6 L1183.7,198.0 L1183.9,195.8 L1184.2,201.0 L1184.4,202.0 L1184.7,200.4 L1184.9,201.5 L1185.2,199.1 L1185.4,194.9 L1185.7,197.6 L1185.9,195.1 L1186.2,192.7 L1186.4,190.0 L1186.6,188.7 L1186.9,190.1 L1187.1,190.8 L1187.3,189.9 L1187.6,185.3 L1187.8,185.0 L1188.1,184.8 L1188.3,185.0 L1188.5,184.0 L1188.8,181.0 L1189.0,180.0 L1189.2,176.6 L1189.5,175.3 L1189.8,169.8 L1190.0,172.0 L1190.2,170.5 L1190.5,173.5 L1190.8,171.5 L1191.0,170.0 L1191.2,170.2 L1191.5,169.6 L1191.7,167.3 L1191.9,165.8 L1192.2,166.3 L1192.4,166.7 L1192.7,163.0 L1192.9,164.1 L1193.1,166.2 L1193.4,167.5 L1193.6,165.0 L1193.8,165.1 L1194.1,168.1 L1194.3,169.6 L1194.6,172.5 L1194.8,169.5 L1195.1,171.7 L1195.3,174.7 L1195.6,176.0 L1195.8,178.4 L1196.1,182.3 L1196.3,183.2 L1196.5,187.2 L1196.8,192.8 L1197.0,194.0 L1197.2,190.1 L1197.5,190.2 L1197.8,185.8 L1198.0,184.6 L1198.2,180.9 L1198.5,178.1 L1198.8,175.6 L1199.0,176.0 L1199.2,176.2 L1199.5,174.4 L1199.8,171.6 L1200.0,165.4 L1200.2,168.3 L1200.5,166.5 L1200.8,163.5 L1201.0,162.0 L1201.2,159.0 L1201.5,159.6 L1201.7,156.6 L1201.9,157.7 L1202.2,155.9 L1202.4,157.0 L1202.6,159.3 L1202.9,160.8 L1203.1,156.9 L1203.3,160.2 L1203.5,166.4 L1203.8,165.5 L1204.0,165.0 L1204.2,165.7 L1204.5,172.1 L1204.8,176.5 L1205.0,177.3 L1205.2,181.9 L1205.5,181.4 L1205.8,181.9 L1206.0,186.0 L1206.2,181.3 L1206.5,179.6 L1206.8,178.7 L1207.0,176.8 L1207.2,182.7 L1207.5,179.4 L1207.8,173.9 L1208.0,173.0 L1208.2,170.9 L1208.5,170.8 L1208.8,177.5 L1209.0,182.0 L1209.2,184.3 L1209.5,181.3 L1209.8,189.3 L1210.0,190.0 L1210.2,193.5 L1210.5,197.2 L1210.8,197.1 L1211.0,197.0 L1211.2,206.7 L1211.5,204.0 L1211.8,208.4 L1212.0,206.0 L1212.2,204.0 L1212.5,200.6 L1212.8,194.2 L1213.0,192.4 L1213.2,197.5 L1213.5,191.8 L1213.8,191.7 L1214.0,192.0 L1214.2,190.1 L1214.5,193.6 L1214.7,189.4 L1215.0,184.7 L1215.2,184.3 L1215.4,183.3 L1215.7,182.6 L1215.9,175.5 L1216.2,168.9 L1216.4,168.0 L1216.6,169.6 L1216.9,178.5 L1217.1,179.1 L1217.3,178.2 L1217.5,181.3 L1217.8,181.7 L1218.0,186.0 L1218.2,177.0 L1218.5,180.8 L1218.8,177.5 L1219.0,180.6 L1219.2,175.0 L1219.5,178.6 L1219.8,176.2 L1220.0,175.0 L1220.2,178.3 L1220.5,185.7 L1220.8,187.6 L1221.0,187.3 L1221.2,187.3 L1221.5,188.1 L1221.8,194.4 L1222.0,192.0 L1222.2,196.6 L1222.5,201.0 L1222.8,206.2 L1223.0,207.5 L1223.2,206.6 L1223.5,212.8 L1223.8,213.2 L1224.0,216.0 L1224.2,215.5 L1224.5,219.6 L1224.7,220.8 L1224.9,220.8 L1225.1,230.3 L1225.4,225.9 L1225.6,230.0 L1225.8,227.6 L1226.1,227.6 L1226.3,226.6 L1226.6,226.0 L1226.8,219.8 L1227.1,213.1 L1227.3,206.3 L1227.6,204.0 L1227.8,206.1 L1228.1,203.5 L1228.3,215.1 L1228.5,215.3 L1228.7,221.2 L1229.0,223.8 L1229.2,228.0 L1229.4,232.2 L1229.7,240.1 L1229.9,244.8 L1230.2,258.5 L1230.4,264.0 L1230.6,259.9 L1230.9,260.8 L1231.1,258.6 L1231.3,249.6 L1231.5,248.6 L1231.8,242.9 L1232.0,244.0 L1232.2,246.1 L1232.5,243.4 L1232.8,244.7 L1233.0,242.2 L1233.2,248.3 L1233.5,256.1 L1233.8,248.6 L1234.0,254.0 L1234.2,255.1 L1234.5,251.3 L1234.8,249.2 L1235.0,245.3 L1235.2,241.9 L1235.5,240.7 L1235.8,239.1 L1236.0,236.0 L1236.2,232.9 L1236.5,229.6 L1236.8,231.6 L1237.0,226.7 L1237.2,220.9 L1237.5,223.3 L1237.8,220.4 L1238.0,216.0 L1238.2,216.6 L1238.5,213.5 L1238.8,205.8 L1239.0,215.6 L1239.2,214.7 L1239.5,213.1 L1239.8,201.6 L1240.0,201.7 L1240.2,199.5 L1240.5,206.2 L1240.8,199.9 L1241.0,196.0 L1241.2,197.6 L1241.5,192.9 L1241.8,204.2 L1242.0,202.8 L1242.2,205.0 L1242.5,209.0 L1242.8,219.9 L1243.0,220.0 L1243.2,220.8 L1243.5,215.0 L1243.8,215.3 L1244.0,216.8 L1244.2,219.4 L1244.5,222.7 L1244.8,216.5 L1245.0,214.0 L1245.2,219.4 L1245.5,220.8 L1245.8,222.0 L1246.0,225.4 L1246.2,231.9 L1246.5,236.6 L1246.8,238.1 L1247.0,236.0 L1247.2,239.2 L1247.5,240.1 L1247.7,248.7 L1247.9,246.9 L1248.2,253.5 L1248.4,258.0 L1248.6,261.3 L1248.9,259.2 L1249.1,265.1 L1249.4,269.4 L1249.6,274.0 L1249.8,268.7 L1250.1,269.2 L1250.3,268.2 L1250.6,262.6 L1250.8,261.1 L1251.1,253.6 L1251.3,258.9 L1251.6,256.0 L1251.8,254.0 L1252.1,256.6 L1252.3,251.6 L1252.5,253.7 L1252.8,249.0 L1253.0,248.0 L1253.2,248.5 L1253.5,245.2 L1253.7,244.2 L1253.9,236.8 L1254.2,233.7 L1254.4,234.0 L1254.6,231.6 L1254.9,228.9 L1255.1,231.4 L1255.3,227.8 L1255.6,230.1 L1255.8,225.2 L1256.1,223.6 L1256.3,229.2 L1256.5,225.2 L1256.8,225.0 L1257.0,218.0 L1257.2,217.9 L1257.5,219.9 L1257.7,219.9 L1257.9,218.4 L1258.2,211.9 L1258.4,213.7 L1258.7,208.3 L1258.9,208.6 L1259.1,208.3 L1259.4,209.9 L1259.6,208.0 L1259.8,207.2 L1260.1,207.7 L1260.3,212.9 L1260.6,218.5 L1260.8,216.8 L1261.1,218.4 L1261.3,215.9 L1261.6,216.0 L1261.8,215.8 L1262.1,216.8 L1262.3,218.4 L1262.6,221.6 L1262.8,224.7 L1263.1,229.3 L1263.3,231.0 L1263.6,234.0 L1263.8,228.4 L1264.1,226.1 L1264.3,225.2 L1264.6,228.8 L1264.8,226.6 L1265.1,224.0 L1265.3,222.9 L1265.6,220.0 L1265.8,217.0 L1266.1,219.0 L1266.3,211.2 L1266.6,210.1 L1266.8,209.8 L1267.0,209.3 L1267.3,206.6 L1267.5,204.8 L1267.8,205.9 L1268.0,204.0 L1268.2,201.2 L1268.5,198.8 L1268.7,201.5 L1268.9,196.2 L1269.2,198.3 L1269.4,196.0 L1269.7,194.8 L1269.9,191.4 L1270.1,190.3 L1270.4,187.3 L1270.6,188.0 L1270.8,193.0 L1271.1,192.7 L1271.3,189.4 L1271.6,190.6 L1271.8,192.4 L1272.0,195.2 L1272.3,200.1 L1272.5,199.1 L1272.8,197.0 L1273.0,198.0 L1273.2,200.6 L1273.5,203.9 L1273.8,202.8 L1274.0,205.7 L1274.2,205.2 L1274.5,203.4 L1274.8,204.6 L1275.0,208.0 L1275.2,212.8 L1275.5,210.9 L1275.8,213.3 L1276.0,218.5 L1276.2,219.4 L1276.5,222.1 L1276.8,222.8 L1277.0,226.0 L1277.2,229.9 L1277.5,229.8 L1277.7,234.8 L1277.9,233.0 L1278.1,236.0 L1278.4,236.5 L1278.6,240.0 L1278.9,238.6 L1279.1,237.1 L1279.4,236.0 L1279.6,231.6 L1279.9,230.3 L1280.1,224.4 L1280.4,224.0 L1280.7,221.9 L1280.9,219.2 L1281.2,217.4 L1281.4,217.2 L1281.7,219.7 L1281.9,213.2 L1282.2,217.7 L1282.4,217.0 L1282.7,217.8 L1282.9,214.4 L1283.2,216.9 L1283.4,220.0 L1283.7,217.5 L1283.9,215.4 L1284.2,218.8 L1284.4,219.0 L1284.7,218.7 L1284.9,219.4 L1285.2,219.3 L1285.4,220.9 L1285.7,221.2 L1285.9,225.3 L1286.2,226.4 L1286.4,228.0 L1286.7,225.5 L1286.9,225.1 L1287.2,222.5 L1287.4,224.2 L1287.7,227.1 L1287.9,226.3 L1288.2,224.0 L1288.4,226.0 L1288.6,228.6 L1288.9,228.2 L1289.1,227.3 L1289.4,229.2 L1289.6,225.0 L1289.9,228.6 L1290.1,232.5 L1290.4,229.3 L1290.6,234.0 L1290.8,232.9 L1291.1,229.1 L1291.3,225.4 L1291.6,225.7 L1291.8,222.8 L1292.0,218.8 L1292.3,219.5 L1292.5,219.4 L1292.8,213.5 L1293.0,212.0 L1293.2,211.1 L1293.5,208.8 L1293.8,212.4 L1294.0,208.3 L1294.2,206.3 L1294.5,204.2 L1294.8,206.5 L1295.0,206.0 L1295.2,207.1 L1295.5,202.6 L1295.8,206.1 L1296.0,201.4 L1296.2,198.4 L1296.5,200.0 L1296.8,197.4 L1297.0,198.0 L1297.2,198.5 L1297.5,196.5 L1297.8,196.0 L1298.0,194.0 L1298.2,193.5 L1298.5,191.8 L1298.8,191.2 L1299.0,190.0 L1299.2,188.7 L1299.5,187.9 L1299.8,193.2 L1300.0,188.2 L1300.2,187.5 L1300.5,186.2 L1300.8,188.5 L1301.0,187.0 L1301.2,188.7 L1301.5,188.8 L1301.8,190.7 L1302.0,190.3 L1302.2,190.8 L1302.5,196.4 L1302.8,195.0 L1303.0,198.0 L1303.2,199.8 L1303.5,201.1 L1303.8,201.1 L1304.0,201.9 L1304.2,204.2 L1304.5,201.6 L1304.8,207.6 L1305.0,208.0 L1305.2,207.9 L1305.5,203.9 L1305.8,205.1 L1306.0,202.8 L1306.2,198.7 L1306.5,201.0 L1306.8,202.9 L1307.0,202.0 L1307.2,200.6 L1307.5,205.3 L1307.8,202.0 L1308.0,204.6 L1308.2,204.4 L1308.5,208.6 L1308.8,207.1 L1309.0,210.0 L1309.2,209.5 L1309.5,211.8 L1309.8,217.4 L1310.0,221.3 L1310.2,220.1 L1310.5,221.0 L1310.8,222.4 L1311.0,224.0 L1311.2,222.2 L1311.5,224.2 L1311.8,226.5 L1312.0,230.9 L1312.2,230.2 L1312.5,232.0 L1312.8,234.4 L1313.0,234.0 L1313.2,230.0 L1313.5,229.8 L1313.7,227.6 L1313.9,230.0 L1314.2,229.2 L1314.4,228.0 L1314.6,229.9 L1314.9,230.0 L1315.1,233.3 L1315.3,237.1 L1315.5,239.2 L1315.8,242.3 L1316.0,248.0 L1316.2,249.5 L1316.5,251.0 L1316.8,252.5 L1317.0,254.0 L1317.2,249.9 L1317.5,248.7 L1317.7,244.7 L1317.9,241.9 L1318.2,235.5 L1318.4,234.0 L1318.6,230.8 L1318.9,225.8 L1319.1,225.2 L1319.3,223.4 L1319.5,220.2 L1319.8,221.6 L1320.0,220.0 L1320.2,220.1 L1320.5,216.4 L1320.8,216.9 L1321.0,211.4 L1321.2,211.5 L1321.5,212.5 L1321.8,209.5 L1322.0,208.0 L1322.2,204.8 L1322.5,205.1 L1322.8,203.5 L1323.0,200.8 L1323.2,194.5 L1323.5,193.6 L1323.8,196.1 L1324.0,192.0 L1324.3,190.0 L1324.5,185.7 L1324.8,184.4 L1325.0,185.6 L1325.3,181.5 L1325.5,179.6 L1325.8,178.0 L1326.0,176.9 L1326.2,173.5 L1326.5,175.3 L1326.7,172.3 L1327.0,178.8 L1327.2,176.4 L1327.4,173.9 L1327.7,173.7 L1327.9,174.4 L1328.1,174.2 L1328.4,174.7 L1328.6,177.7 L1328.8,178.4 L1329.1,176.5 L1329.3,176.5 L1329.5,176.0 L1329.8,175.1 L1330.0,173.6 L1330.3,179.5 L1330.5,175.5 L1330.8,180.3 L1331.1,174.9 L1331.3,174.2 L1331.6,174.6 L1331.8,171.6 L1332.1,173.0 L1332.3,175.2 L1332.6,175.3 L1332.8,172.8 L1333.1,178.3 L1333.3,171.6 L1333.6,173.5 L1333.8,174.8 L1334.1,174.6 L1334.4,172.3 L1334.6,172.0 L1334.9,168.0 L1335.1,170.1 L1335.4,171.3 L1335.6,169.9 L1335.9,167.3 L1336.1,165.6 L1336.4,164.9 L1336.7,166.3 L1336.9,167.5 L1337.2,159.9 L1337.4,162.5 L1337.7,163.3 L1337.9,158.7 L1338.2,162.1 L1338.4,157.9 L1338.7,158.9 L1338.9,158.9 L1339.2,157.5 L1339.4,157.7 L1339.7,155.8 L1339.9,153.2 L1340.2,155.0 L1340.4,154.2 L1340.6,153.0 L1340.9,150.4 L1341.1,150.9 L1341.3,153.2 L1341.6,150.7 L1341.8,148.6 L1342.1,146.4 L1342.4,144.2 L1342.6,143.5 L1342.9,140.8 L1343.1,144.2 L1343.4,143.4 L1343.6,140.1 L1343.9,140.6 L1344.1,142.4 L1344.4,141.7 L1344.6,144.4 L1344.8,145.8 L1345.1,146.3 L1345.3,143.5 L1345.6,147.7 L1345.8,146.6 L1346.1,148.3 L1346.3,151.3 L1346.6,154.3 L1346.9,157.3 L1347.2,160.0 L1347.4,162.8 L1347.7,165.5 L1348.0,166.8 L1348.3,168.2 L1348.5,169.6 L1348.8,167.7 L1349.1,165.8 L1349.3,163.8 L1349.6,161.6 L1349.8,159.4 L1350.1,159.5 L1350.3,158.4 L1350.6,157.3 L1350.8,154.8 L1351.1,152.4 L1351.4,149.9 L1351.6,148.7 L1351.9,147.5 L1352.1,146.2 L1352.4,145.0 L1352.6,146.9 L1352.9,148.7 L1353.2,150.5 L1353.4,152.4 L1353.7,155.9 L1354.0,159.5 L1354.3,163.0 L1354.5,163.1 L1354.7,162.0 L1355.0,160.1 L1355.2,157.5 L1355.5,157.3 L1355.7,157.2 L1356.0,156.5 L1356.2,159.1 L1356.5,159.0 L1356.7,160.6 L1357.0,157.9 L1357.2,156.4 L1357.4,157.6 L1357.7,154.7 L1357.9,154.0 L1358.2,153.5 L1358.4,154.4 L1358.7,154.1 L1358.9,151.3 L1359.2,152.4 L1359.4,155.4 L1359.7,158.4 L1360.0,161.4 L1360.2,159.9 L1360.5,161.1 L1360.7,159.2 L1361.0,159.2 L1361.2,158.9 L1361.5,150.7 L1361.8,142.6 L1362.0,134.4 L1362.3,136.1 L1362.5,131.4 L1362.8,135.7 L1363.1,129.4 L1363.3,132.9 L1363.6,133.5 L1363.8,130.9 L1364.1,133.6 L1364.3,137.7 L1364.6,141.7 L1364.9,145.8 L1365.1,148.3 L1365.4,149.0 L1365.6,153.6 L1365.8,154.9 L1366.1,155.8 L1366.3,161.0 L1366.5,162.6 L1366.8,157.2 L1367.0,158.7 L1367.3,155.3 L1367.5,152.4 L1367.8,149.1 L1368.0,141.7 L1368.3,134.4 L1368.6,127.0 L1368.8,126.2 L1369.1,127.8 L1369.3,126.5 L1369.6,124.6 L1369.8,121.3 L1370.1,125.1 L1370.4,128.9 L1370.6,132.7 L1370.9,134.7 L1371.1,134.2 L1371.4,135.4 L1371.6,139.5 L1371.9,139.3 L1372.1,135.7 L1372.4,132.2 L1372.7,128.6 L1372.9,125.9 L1373.2,123.2 L1373.5,120.5 L1373.7,118.0 L1374.0,121.2 L1374.2,118.8 L1374.5,117.3 L1374.7,116.4 L1375.0,115.6 L1375.2,115.4 L1375.5,116.7 L1375.7,113.4 L1375.9,114.7 L1376.2,114.5 L1376.4,115.6 L1376.7,116.4 L1376.9,117.1 L1377.2,116.0 L1377.4,113.3 L1377.7,114.1 L1377.9,112.8 L1378.2,112.2 L1378.4,110.6 L1378.6,109.1 L1378.9,110.0 L1379.1,109.1 L1379.4,105.2 L1379.6,108.2 L1379.9,108.9 L1380.1,110.5 L1380.4,112.6 L1380.6,114.1 L1380.9,114.7 L1381.1,116.4 L1381.4,118.0 L1381.7,119.6 L1381.9,117.8 L1382.2,114.4 L1382.4,113.9 L1382.7,111.5 L1382.9,108.2 L1383.2,100.0 L1383.5,91.8 L1383.7,96.3 L1384.0,100.7 L1384.3,105.1 L1384.5,101.0 L1384.8,96.9 L1385.1,92.9 L1385.3,88.8 L1385.6,87.5 L1385.8,86.2 L1386.1,84.9 L1386.3,83.7 L1386.6,84.7 L1386.8,85.7 L1387.1,86.7 L1387.3,87.8 L1387.6,89.8 L1387.9,91.8 L1388.1,93.9 L1388.4,95.9 L1388.6,99.2 L1388.9,102.6 L1389.1,105.9 L1389.4,109.2 L1389.6,117.9 L1389.9,126.5 L1390.2,123.7 L1390.4,120.9 L1390.7,118.1 L1390.9,115.3 L1391.2,117.3 L1391.4,119.4 L1391.7,121.4 L1391.9,123.5 L1392.2,125.1 L1392.4,124.0 L1392.7,124.7 L1393.0,124.9 L1393.2,128.3 L1393.5,128.6 L1393.7,124.2 L1394.0,119.9 L1394.2,115.6 L1394.5,111.2 L1394.7,108.7 L1395.0,106.1 L1395.3,103.6 L1395.5,101.0 L1395.8,99.0 L1396.0,100.5 L1396.3,98.4 L1396.5,99.3 L1396.8,95.9 L1397.0,99.0 L1397.3,101.0 L1397.6,103.1 L1397.8,105.1 L1398.1,107.1 L1398.3,106.1 L1398.6,111.4 L1398.8,107.7 L1399.1,109.2 L1399.3,108.2 L1399.6,108.2 L1399.8,105.9 L1400.1,103.6 L1400.4,101.3 L1400.6,99.0 L1400.9,101.3 L1401.1,103.6 L1401.4,105.9 L1401.6,108.2 L1401.9,108.0 L1402.2,107.8 L1402.4,107.7"/>
<path clip-path="url(#cl)" stroke="#000" d="M133.0,707.0 L133.2,707.8 L133.5,706.5 L133.8,707.3 L134.0,707.9 L134.2,707.4 L134.5,708.4 L134.8,706.8 L135.0,707.1 L135.2,708.0 L135.5,709.0 L135.8,708.7 L136.0,709.0 L136.2,708.0 L136.5,709.7 L136.7,709.2 L136.9,708.5 L137.2,709.8 L137.4,710.5 L137.7,709.3 L137.9,708.7 L138.1,709.8 L138.4,710.0 L138.6,710.0 L138.8,709.0 L139.1,709.9 L139.3,709.2 L139.6,707.4 L139.8,707.9 L140.0,706.1 L140.3,706.8 L140.5,704.8 L140.8,704.6 L141.0,704.0 L141.2,703.2 L141.5,705.6 L141.8,703.9 L142.0,703.6 L142.2,703.9 L142.5,702.8 L142.8,702.6 L143.0,701.7 L143.2,701.8 L143.5,702.6 L143.8,701.4 L144.0,702.0 L144.2,702.5 L144.5,701.8 L144.8,702.9 L145.0,703.3 L145.2,703.7 L145.5,703.0 L145.8,704.5 L146.0,705.2 L146.2,705.9 L146.5,704.2 L146.8,705.3 L147.0,706.0 L147.2,706.3 L147.5,708.1 L147.8,707.1 L148.0,708.6 L148.2,707.7 L148.5,708.4 L148.8,708.0 L149.0,709.9 L149.2,709.8 L149.5,709.9 L149.8,711.3 L150.0,712.0 L150.2,712.6 L150.5,712.1 L150.8,712.2 L151.0,712.5 L151.2,714.3 L151.5,715.4 L151.8,714.5 L152.0,714.5 L152.2,715.0 L152.5,715.5 L152.8,717.0 L153.0,714.8 L153.2,717.1 L153.5,716.6 L153.8,717.4 L154.0,717.0 L154.2,717.4 L154.5,718.4 L154.8,719.5 L155.0,718.8 L155.2,720.5 L155.5,720.3 L155.8,721.7 L156.0,720.5 L156.2,721.7 L156.5,721.7 L156.8,722.3 L157.0,724.0 L157.2,724.3 L157.5,722.6 L157.7,724.4 L158.0,724.6 L158.2,725.7 L158.4,725.3 L158.7,725.7 L158.9,726.8 L159.2,726.6 L159.4,727.0 L159.6,726.8 L159.9,726.5 L160.1,725.6 L160.3,726.5 L160.6,725.2 L160.8,724.0 L161.1,724.1 L161.3,723.9 L161.5,723.4 L161.8,723.0 L162.0,724.0 L162.2,724.5 L162.5,725.2 L162.8,724.4 L163.0,725.6 L163.2,723.9 L163.5,724.8 L163.8,725.2 L164.0,725.8 L164.2,724.1 L164.5,725.9 L164.8,724.8 L165.0,726.0 L165.2,726.0 L165.5,726.2 L165.7,726.4 L166.0,726.0 L166.2,726.0 L166.4,727.1 L166.7,728.3 L166.9,727.4 L167.2,727.6 L167.4,728.0 L167.7,727.3 L167.9,726.1 L168.2,725.2 L168.4,726.1 L168.7,724.2 L168.9,724.7 L169.2,723.5 L169.4,723.0 L169.6,723.8 L169.9,725.6 L170.1,725.6 L170.4,726.2 L170.6,728.0 L170.8,727.2 L171.1,726.2 L171.3,725.3 L171.6,724.0 L171.8,724.0 L172.1,722.6 L172.3,721.3 L172.6,720.0 L172.8,719.8 L173.1,718.8 L173.3,719.9 L173.6,718.3 L173.8,717.4 L174.0,719.6 L174.3,718.8 L174.5,721.5 L174.8,720.8 L175.0,721.0 L175.2,721.1 L175.5,722.7 L175.7,721.3 L176.0,721.2 L176.2,723.2 L176.4,722.7 L176.7,723.4 L176.9,723.6 L177.2,724.7 L177.4,724.0 L177.6,724.0 L177.9,724.4 L178.1,722.5 L178.3,724.0 L178.6,723.8 L178.8,723.3 L179.1,722.8 L179.3,722.6 L179.5,723.7 L179.8,723.2 L180.0,723.0 L180.2,723.4 L180.5,725.4 L180.7,725.7 L180.9,726.0 L181.2,725.7 L181.4,726.2 L181.7,727.9 L181.9,727.9 L182.1,727.7 L182.4,729.5 L182.6,729.0 L182.8,729.6 L183.1,729.9 L183.3,729.0 L183.6,729.7 L183.8,729.8 L184.0,729.6 L184.3,728.2 L184.5,728.7 L184.8,729.0 L185.0,729.0 L185.2,730.4 L185.5,729.2 L185.8,731.1 L186.0,730.0 L186.2,731.0 L186.5,732.4 L186.8,731.3 L187.0,731.5 L187.2,731.6 L187.5,732.3 L187.8,732.4 L188.0,733.0 L188.2,733.7 L188.5,735.3 L188.8,735.1 L189.0,736.5 L189.2,737.0 L189.5,737.3 L189.8,738.8 L190.0,740.0 L190.2,739.3 L190.5,741.3 L190.8,742.6 L191.0,740.8 L191.2,740.7 L191.5,741.3 L191.8,740.9 L192.0,740.0 L192.2,740.2 L192.5,740.7 L192.8,740.0 L193.0,740.0 L193.2,739.8 L193.5,739.9 L193.8,739.7 L194.0,740.3 L194.2,740.1 L194.5,740.3 L194.8,741.6 L195.0,739.8 L195.2,739.2 L195.5,738.9 L195.8,739.2 L196.0,738.1 L196.2,738.1 L196.5,738.4 L196.8,738.4 L197.0,738.4 L197.2,738.8 L197.5,738.8 L197.8,739.0 L198.0,737.9 L198.2,741.0 L198.5,739.8 L198.8,741.5 L199.0,741.0 L199.2,740.5 L199.5,740.8 L199.8,741.7 L200.0,740.7 L200.2,741.3 L200.5,741.0 L200.8,741.2 L201.0,743.0 L201.2,744.1 L201.5,744.4 L201.8,744.5 L202.0,744.5 L202.2,745.0 L202.5,744.4 L202.8,746.7 L203.0,747.6 L203.2,744.8 L203.5,742.7 L203.8,743.3 L204.0,744.6 L204.2,744.9 L204.5,744.9 L204.8,744.3 L205.0,744.4 L205.2,744.6 L205.5,744.2 L205.8,743.3 L206.0,743.7 L206.2,743.8 L206.5,744.9 L206.8,743.8 L207.0,745.6 L207.2,745.2 L207.5,744.3 L207.8,743.8 L208.0,744.4 L208.2,743.1 L208.5,744.3 L208.8,742.1 L209.0,742.7 L209.2,742.8 L209.5,743.2 L209.8,742.0 L210.0,742.3 L210.2,743.3 L210.5,743.0 L210.8,741.4 L211.0,741.0 L211.2,741.2 L211.5,741.7 L211.8,740.0 L212.0,740.7 L212.2,740.9 L212.5,740.7 L212.8,740.4 L213.0,740.9 L213.2,740.2 L213.5,739.6 L213.8,741.0 L214.0,740.0 L214.2,741.0 L214.5,741.1 L214.8,739.9 L215.0,740.4 L215.2,739.0 L215.5,739.7 L215.8,738.3 L216.0,738.0 L216.2,738.2 L216.5,738.1 L216.8,738.9 L217.0,740.2 L217.2,739.5 L217.5,738.9 L217.8,738.9 L218.0,740.0 L218.2,739.4 L218.5,739.5 L218.7,738.3 L218.9,735.8 L219.2,735.4 L219.4,735.6 L219.7,734.6 L219.9,732.6 L220.1,731.8 L220.4,731.3 L220.6,730.0 L220.8,729.2 L221.1,729.6 L221.3,728.6 L221.6,728.1 L221.8,728.0 L222.0,725.9 L222.3,727.0 L222.5,727.0 L222.8,726.6 L223.0,726.0 L223.2,726.3 L223.5,727.7 L223.8,725.9 L224.0,726.5 L224.2,725.1 L224.5,725.8 L224.8,725.5 L225.0,726.3 L225.2,726.5 L225.5,727.0 L225.8,727.4 L226.0,727.0 L226.2,726.6 L226.5,727.1 L226.8,727.6 L227.0,729.1 L227.2,727.4 L227.5,726.1 L227.8,726.6 L228.0,727.8 L228.2,727.1 L228.5,728.3 L228.8,729.4 L229.0,729.0 L229.2,729.3 L229.5,730.3 L229.7,730.2 L230.0,729.8 L230.2,729.6 L230.4,730.4 L230.7,730.9 L230.9,730.9 L231.2,732.5 L231.4,733.0 L231.6,732.5 L231.9,732.3 L232.1,731.5 L232.3,732.3 L232.6,731.4 L232.8,731.6 L233.1,730.7 L233.3,732.3 L233.5,732.4 L233.8,731.8 L234.0,731.0 L234.2,731.0 L234.5,732.1 L234.8,732.6 L235.0,734.4 L235.2,733.6 L235.5,733.0 L235.8,733.4 L236.0,734.0 L236.2,733.4 L236.5,732.8 L236.8,731.4 L237.0,731.7 L237.2,730.2 L237.5,730.6 L237.8,729.3 L238.0,730.0 L238.2,729.1 L238.5,730.5 L238.8,732.0 L239.0,731.1 L239.2,731.9 L239.5,731.3 L239.8,731.2 L240.0,732.9 L240.2,732.9 L240.5,733.6 L240.8,733.6 L241.0,735.0 L241.2,735.8 L241.5,735.9 L241.8,736.8 L242.0,736.2 L242.2,737.5 L242.5,736.4 L242.8,738.4 L243.0,736.6 L243.2,738.2 L243.5,736.3 L243.8,736.0 L244.0,738.5 L244.2,737.1 L244.5,737.8 L244.8,737.6 L245.0,739.0 L245.2,738.2 L245.5,738.2 L245.8,736.7 L246.0,738.3 L246.2,737.0 L246.5,735.1 L246.8,734.7 L247.0,736.3 L247.2,735.2 L247.5,734.8 L247.8,734.3 L248.0,734.0 L248.2,734.2 L248.5,734.0 L248.8,732.6 L249.0,733.5 L249.2,734.7 L249.5,733.6 L249.8,733.7 L250.0,733.5 L250.2,733.9 L250.5,732.7 L250.8,732.5 L251.0,733.0 L251.2,734.2 L251.5,734.3 L251.8,734.6 L252.0,733.7 L252.2,734.6 L252.5,736.5 L252.8,736.1 L253.0,735.9 L253.2,737.7 L253.5,737.4 L253.8,737.9 L254.0,738.0 L254.2,738.4 L254.5,739.6 L254.8,740.7 L255.0,740.9 L255.2,740.3 L255.5,740.6 L255.8,742.5 L256.0,741.5 L256.2,742.0 L256.5,742.3 L256.8,743.7 L257.0,745.0 L257.2,745.9 L257.5,745.5 L257.7,745.5 L258.0,747.6 L258.2,746.5 L258.4,747.3 L258.7,748.2 L258.9,747.8 L259.2,749.8 L259.4,750.0 L259.6,750.0 L259.9,750.2 L260.1,749.8 L260.4,749.6 L260.6,747.4 L260.8,746.7 L261.1,746.1 L261.3,747.3 L261.6,748.7 L261.8,748.2 L262.0,746.4 L262.3,746.5 L262.5,748.4 L262.8,748.2 L263.0,748.0 L263.2,747.8 L263.5,748.6 L263.8,749.0 L264.0,749.4 L264.2,747.5 L264.5,748.6 L264.8,748.9 L265.0,748.9 L265.2,747.5 L265.5,748.5 L265.8,749.0 L266.0,748.4 L266.2,748.5 L266.5,748.1 L266.7,748.6 L267.0,749.2 L267.2,749.6 L267.5,748.2 L267.7,748.6 L267.9,750.9 L268.2,749.9 L268.4,748.9 L268.7,749.0 L268.9,749.7 L269.2,749.4 L269.4,749.6 L269.6,749.5 L269.9,749.3 L270.1,748.9 L270.4,746.9 L270.6,747.4 L270.9,747.2 L271.1,747.6 L271.3,746.9 L271.6,747.6 L271.8,747.9 L272.1,747.3 L272.3,747.3 L272.5,744.6 L272.8,744.1 L273.0,746.1 L273.3,746.5 L273.5,746.4 L273.8,745.7 L274.0,745.0 L274.2,745.1 L274.5,746.8 L274.8,745.8 L275.0,745.8 L275.2,745.5 L275.5,746.6 L275.8,747.1 L276.0,745.8 L276.2,746.3 L276.5,747.5 L276.8,747.9 L277.0,747.0 L277.2,746.2 L277.5,746.5 L277.7,747.4 L278.0,747.2 L278.2,747.0 L278.4,748.0 L278.7,747.8 L278.9,748.6 L279.1,748.4 L279.4,747.0 L279.6,748.7 L279.9,748.1 L280.1,747.1 L280.3,747.1 L280.6,747.2 L280.8,746.6 L281.0,746.8 L281.3,746.6 L281.5,746.7 L281.8,745.8 L282.0,746.0 L282.2,746.1 L282.5,744.2 L282.8,745.1 L283.0,741.8 L283.2,741.8 L283.5,742.4 L283.8,742.9 L284.0,740.9 L284.2,739.7 L284.5,740.1 L284.8,738.8 L285.0,738.0 L285.2,736.5 L285.5,735.1 L285.8,733.8 L286.0,733.3 L286.2,733.9 L286.5,731.1 L286.8,733.8 L287.0,731.4 L287.2,730.4 L287.5,730.9 L287.8,728.3 L288.0,730.0 L288.2,730.7 L288.5,730.0 L288.8,730.4 L289.0,732.4 L289.2,732.7 L289.5,731.6 L289.8,731.9 L290.0,732.0 L290.2,730.4 L290.5,730.6 L290.7,729.0 L290.9,728.7 L291.2,729.3 L291.4,727.3 L291.7,726.8 L291.9,728.1 L292.1,728.8 L292.4,726.6 L292.6,726.0 L292.8,724.6 L293.1,724.0 L293.3,722.0 L293.6,723.9 L293.8,723.6 L294.0,723.6 L294.3,722.0 L294.5,721.9 L294.8,722.3 L295.0,721.0 L295.2,722.5 L295.5,721.3 L295.7,720.7 L296.0,721.7 L296.2,722.7 L296.4,723.7 L296.7,723.9 L296.9,725.2 L297.2,724.4 L297.4,724.4 L297.6,724.2 L297.9,723.3 L298.1,723.6 L298.3,723.4 L298.6,722.7 L298.8,721.3 L299.1,720.8 L299.3,719.2 L299.5,721.1 L299.8,720.2 L300.0,720.0 L300.2,720.2 L300.5,719.5 L300.8,719.2 L301.0,718.7 L301.2,719.6 L301.5,719.7 L301.8,721.0 L302.0,719.6 L302.2,720.4 L302.5,719.4 L302.8,718.5 L303.0,719.0 L303.2,717.7 L303.5,718.9 L303.8,716.5 L304.0,716.5 L304.2,717.3 L304.5,716.2 L304.8,715.8 L305.0,716.8 L305.2,715.2 L305.5,715.6 L305.8,714.6 L306.0,715.0 L306.2,715.0 L306.5,715.8 L306.8,715.9 L307.0,716.7 L307.2,717.6 L307.5,717.6 L307.8,717.6 L308.0,718.0 L308.2,716.1 L308.5,716.6 L308.8,716.0 L309.0,716.5 L309.2,714.1 L309.5,713.5 L309.8,713.8 L310.0,713.0 L310.2,712.5 L310.5,710.1 L310.7,710.8 L310.9,708.8 L311.2,709.0 L311.4,708.5 L311.7,707.7 L311.9,708.9 L312.1,709.7 L312.4,708.7 L312.6,709.0 L312.8,707.1 L313.1,704.0 L313.3,702.6 L313.5,699.6 L313.8,696.8 L314.0,696.0 L314.2,696.8 L314.5,695.9 L314.7,697.3 L314.9,698.4 L315.2,699.5 L315.4,699.0 L315.6,701.4 L315.9,702.5 L316.1,705.2 L316.3,707.1 L316.5,709.5 L316.8,711.8 L317.0,714.0 L317.2,715.3 L317.5,717.3 L317.7,719.5 L317.9,720.1 L318.1,722.9 L318.4,723.6 L318.6,726.0 L318.8,725.9 L319.1,725.5 L319.3,725.7 L319.6,726.6 L319.8,727.6 L320.1,726.4 L320.3,727.6 L320.5,727.4 L320.8,725.3 L321.0,725.7 L321.3,728.5 L321.5,728.6 L321.8,727.3 L322.0,727.0 L322.2,727.4 L322.5,725.1 L322.8,724.8 L323.0,722.6 L323.2,721.6 L323.5,721.9 L323.8,721.4 L324.0,720.0 L324.2,718.7 L324.5,719.5 L324.8,719.2 L325.0,718.1 L325.2,717.1 L325.5,715.8 L325.8,715.1 L326.0,715.0 L326.2,715.3 L326.5,715.1 L326.7,715.2 L326.9,715.9 L327.2,718.1 L327.4,718.0 L327.7,719.8 L327.9,718.6 L328.1,720.3 L328.4,720.5 L328.6,720.0 L328.8,719.6 L329.1,720.5 L329.3,720.1 L329.6,718.9 L329.8,718.0 L330.0,716.3 L330.3,717.2 L330.5,717.7 L330.8,717.3 L331.0,716.0 L331.2,715.3 L331.5,715.4 L331.7,717.2 L332.0,716.5 L332.2,717.8 L332.4,717.0 L332.7,718.1 L332.9,718.5 L333.2,718.0 L333.4,719.0 L333.6,719.9 L333.9,719.5 L334.1,721.8 L334.3,721.8 L334.6,722.7 L334.8,723.5 L335.1,721.9 L335.3,721.9 L335.5,721.2 L335.8,723.7 L336.0,724.0 L336.2,724.9 L336.5,724.9 L336.8,726.7 L337.0,725.5 L337.2,726.4 L337.5,727.1 L337.8,727.9 L338.0,729.0 L338.2,727.6 L338.5,727.1 L338.8,727.2 L339.0,730.6 L339.2,729.5 L339.5,730.8 L339.8,729.6 L340.0,730.0 L340.2,729.1 L340.5,727.8 L340.8,726.5 L341.0,725.0 L341.2,725.5 L341.5,725.6 L341.8,722.4 L342.0,722.0 L342.2,723.4 L342.5,723.0 L342.7,722.0 L342.9,722.7 L343.2,723.0 L343.4,721.9 L343.7,722.1 L343.9,722.0 L344.1,722.9 L344.4,722.3 L344.6,723.0 L344.9,721.4 L345.1,720.6 L345.4,717.6 L345.6,716.4 L345.9,714.0 L346.1,712.6 L346.4,709.9 L346.6,708.0 L346.8,710.4 L347.1,710.8 L347.3,713.7 L347.5,717.0 L347.8,717.8 L348.0,720.0 L348.2,720.6 L348.5,719.7 L348.8,720.8 L349.0,719.4 L349.2,721.6 L349.5,719.7 L349.8,719.9 L350.0,721.0 L350.2,721.3 L350.5,722.1 L350.8,723.0 L351.0,725.2 L351.2,724.7 L351.5,726.4 L351.8,729.7 L352.0,730.0 L352.2,729.5 L352.5,733.7 L352.8,730.6 L353.0,726.9 L353.2,727.0 L353.5,729.3 L353.8,726.2 L354.0,726.0 L354.2,728.3 L354.5,729.6 L354.8,732.1 L355.0,732.2 L355.2,736.5 L355.5,737.1 L355.8,736.1 L356.0,737.0 L356.2,736.1 L356.5,738.4 L356.8,739.5 L357.0,738.9 L357.2,738.4 L357.5,738.6 L357.8,736.4 L358.0,739.0 L358.2,736.6 L358.5,732.4 L358.8,733.3 L359.0,732.1 L359.2,728.8 L359.5,729.9 L359.8,725.0 L360.0,726.0 L360.3,722.9 L360.5,719.7 L360.8,716.8 L361.0,713.2 L361.3,710.8 L361.5,707.4 L361.8,705.1 L362.0,702.2 L362.3,699.7 L362.5,698.3 L362.7,698.4 L363.0,698.7 L363.2,695.9 L363.5,697.5 L363.7,694.8 L364.0,695.1 L364.3,686.1 L364.5,677.1 L364.8,679.8 L365.0,677.8 L365.3,676.2 L365.5,674.9 L365.8,676.0 L366.0,674.6 L366.3,679.3 L366.6,683.9 L366.8,688.6 L367.1,686.8 L367.3,682.5 L367.5,678.9 L367.8,677.5 L368.0,673.5 L368.2,669.8 L368.5,668.9 L368.8,661.8 L369.0,654.6 L369.3,654.5 L369.6,654.4 L369.8,654.3 L370.1,654.2 L370.4,658.0 L370.7,661.8 L370.9,665.6 L371.2,665.6 L371.4,665.2 L371.7,667.2 L371.9,666.5 L372.2,666.5 L372.4,667.8 L372.7,669.2 L373.0,670.6 L373.2,673.0 L373.5,677.1 L373.7,677.9 L374.0,682.2 L374.2,684.5 L374.4,680.7 L374.6,676.8 L374.9,673.0 L375.1,672.4 L375.3,672.3 L375.6,672.4 L375.8,673.4 L376.0,672.7 L376.2,672.2 L376.5,679.0 L376.7,684.0 L377.0,689.9 L377.2,696.3 L377.5,704.5 L377.7,699.2 L378.0,693.9 L378.3,688.6 L378.5,686.8 L378.8,689.0 L379.0,688.1 L379.2,685.7 L379.5,687.7 L379.7,686.9 L379.9,686.9 L380.2,690.0 L380.4,691.9 L380.7,692.5 L380.9,694.1 L381.2,698.0 L381.4,695.2 L381.6,692.4 L381.9,690.6 L382.1,687.9 L382.4,684.5 L382.6,685.8 L382.9,689.0 L383.1,691.2 L383.4,692.4 L383.6,692.7 L383.9,690.3 L384.1,687.2 L384.4,683.9 L384.6,681.7 L384.8,678.7 L385.1,678.6 L385.3,677.7 L385.5,680.0 L385.8,678.6 L386.0,678.0 L386.2,679.7 L386.5,677.1 L386.7,675.3 L387.0,674.2 L387.2,671.9 L387.5,673.2 L387.7,671.4 L388.0,673.0 L388.2,670.0 L388.4,669.9 L388.7,671.6 L388.9,672.2 L389.2,676.3 L389.5,680.4 L389.8,680.6 L390.0,680.8 L390.3,681.0 L390.6,681.2 L390.9,691.8 L391.1,702.5 L391.4,699.4 L391.7,696.3 L391.9,693.3 L392.2,690.2 L392.5,697.3 L392.8,704.4 L393.0,711.5 L393.3,710.3 L393.5,709.2 L393.8,706.4 L394.0,704.8 L394.3,703.3 L394.5,709.3 L394.8,715.3 L395.1,721.3 L395.3,722.1 L395.5,722.9 L395.7,725.8 L396.0,731.2 L396.2,734.9 L396.5,737.8 L396.7,742.1 L397.0,746.0 L397.2,748.8 L397.5,751.5 L397.7,754.6 L397.9,755.0 L398.1,757.5 L398.4,759.7 L398.6,760.0 L398.8,756.0 L399.1,751.9 L399.3,747.9 L399.5,744.3 L399.8,741.4 L400.0,737.0 L400.2,739.0 L400.5,741.8 L400.8,745.2 L401.0,747.3 L401.2,750.2 L401.5,751.5 L401.8,755.3 L402.0,757.0 L402.2,755.0 L402.5,755.6 L402.8,755.3 L403.0,754.2 L403.2,753.9 L403.5,752.9 L403.8,752.6 L404.0,752.0 L404.2,749.2 L404.5,747.9 L404.8,747.8 L405.0,747.5 L405.2,743.2 L405.5,743.8 L405.8,744.5 L406.0,742.0 L406.2,742.2 L406.5,740.3 L406.8,740.9 L407.0,739.7 L407.2,739.2 L407.5,740.0 L407.8,740.9 L408.0,738.6 L408.2,739.5 L408.5,735.6 L408.8,736.0 L409.0,736.0 L409.2,737.5 L409.5,739.2 L409.8,738.8 L410.0,739.7 L410.2,741.9 L410.5,741.8 L410.8,744.1 L411.0,744.0 L411.2,745.7 L411.5,746.4 L411.8,749.6 L412.0,749.3 L412.2,751.5 L412.5,752.0 L412.8,753.9 L413.0,756.0 L413.2,757.2 L413.5,757.3 L413.8,761.3 L414.0,759.8 L414.2,763.8 L414.5,763.7 L414.8,765.0 L415.0,766.0 L415.2,766.4 L415.5,765.3 L415.8,765.0 L416.0,763.7 L416.2,764.4 L416.5,763.1 L416.8,762.1 L417.0,763.0 L417.2,764.7 L417.5,765.2 L417.8,763.8 L418.0,766.4 L418.2,767.5 L418.5,766.6 L418.8,766.9 L419.0,768.0 L419.2,769.2 L419.5,771.7 L419.8,771.0 L420.0,772.7 L420.2,775.4 L420.5,775.3 L420.8,776.9 L421.0,779.6 L421.2,778.3 L421.5,778.0 L421.7,779.3 L421.9,775.6 L422.2,775.1 L422.4,776.1 L422.7,775.6 L422.9,773.6 L423.1,775.3 L423.4,772.7 L423.6,772.0 L423.9,772.6 L424.1,772.0 L424.4,772.3 L424.6,773.6 L424.9,774.7 L425.1,775.2 L425.4,775.1 L425.6,775.0 L425.9,774.9 L426.1,774.4 L426.4,773.2 L426.6,773.8 L426.9,772.7 L427.1,774.6 L427.4,775.1 L427.6,776.0 L427.8,774.3 L428.1,773.1 L428.3,769.3 L428.5,768.5 L428.8,767.0 L429.0,765.0 L429.2,765.0 L429.5,765.4 L429.8,767.3 L430.0,764.9 L430.2,766.7 L430.5,767.5 L430.8,766.8 L431.0,769.0 L431.2,768.2 L431.5,767.2 L431.8,766.4 L432.0,764.9 L432.2,764.2 L432.5,763.8 L432.8,764.3 L433.0,764.0 L433.2,763.0 L433.5,763.7 L433.7,764.1 L433.9,764.7 L434.2,763.1 L434.4,763.0 L434.6,764.0 L434.9,764.6 L435.1,765.4 L435.4,768.1 L435.6,769.2 L435.9,769.9 L436.1,771.0 L436.4,772.0 L436.6,772.9 L436.9,773.9 L437.1,776.2 L437.4,774.9 L437.6,777.9 L437.9,778.3 L438.1,778.7 L438.4,780.0 L438.6,779.2 L438.9,780.1 L439.1,781.6 L439.3,781.8 L439.6,781.6 L439.8,779.4 L440.1,780.5 L440.3,780.0 L440.5,780.8 L440.8,780.8 L441.0,781.6 L441.2,780.2 L441.5,781.8 L441.7,781.9 L441.9,782.2 L442.2,782.5 L442.4,780.9 L442.7,780.5 L442.9,781.2 L443.1,780.4 L443.4,782.4 L443.6,782.4 L443.8,782.2 L444.1,781.7 L444.3,782.2 L444.5,782.7 L444.8,782.5 L445.0,781.6 L445.2,781.1 L445.5,782.5 L445.7,781.3 L445.9,782.4 L446.2,783.4 L446.4,781.6 L446.6,780.9 L446.9,781.8 L447.1,781.5 L447.3,785.7 L447.6,784.8 L447.8,784.1 L448.1,783.0 L448.3,784.4 L448.5,785.7 L448.8,785.5 L449.0,787.0 L449.2,786.6 L449.5,789.3 L449.7,791.2 L449.9,788.8 L450.2,789.8 L450.4,791.6 L450.7,792.5 L450.9,793.5 L451.1,791.5 L451.4,792.1 L451.6,793.6 L451.8,793.0 L452.1,794.6 L452.3,792.4 L452.6,794.6 L452.8,794.8 L453.0,792.9 L453.3,793.3 L453.5,793.3 L453.8,792.5 L454.0,793.0 L454.2,794.1 L454.5,793.0 L454.7,793.9 L455.0,794.4 L455.2,795.1 L455.4,796.1 L455.7,795.9 L455.9,796.7 L456.2,796.6 L456.4,797.0 L456.6,797.9 L456.9,798.3 L457.1,796.7 L457.4,797.3 L457.6,797.3 L457.9,796.6 L458.1,796.0 L458.4,796.0 L458.6,798.2 L458.9,799.2 L459.1,801.5 L459.4,803.4 L459.6,804.4 L459.9,802.9 L460.1,802.4 L460.4,802.0 L460.6,801.4 L460.9,801.1 L461.1,800.6 L461.4,797.6 L461.6,798.0 L461.9,799.8 L462.1,798.1 L462.4,801.2 L462.6,801.0 L462.9,800.6 L463.1,802.6 L463.4,803.1 L463.6,803.0 L463.9,802.4 L464.1,802.3 L464.4,801.0 L464.6,801.0 L464.9,802.5 L465.1,800.0 L465.4,800.5 L465.6,799.0 L465.8,799.8 L466.1,802.3 L466.3,801.2 L466.5,802.5 L466.8,802.1 L467.0,804.8 L467.2,802.6 L467.5,803.9 L467.7,804.3 L467.9,805.7 L468.2,805.3 L468.4,806.0 L468.6,805.2 L468.9,804.9 L469.1,803.4 L469.3,801.7 L469.5,801.9 L469.8,801.0 L470.0,800.0 L470.2,800.3 L470.5,800.9 L470.7,801.0 L471.0,799.5 L471.2,799.4 L471.4,800.2 L471.7,799.9 L471.9,799.7 L472.2,798.1 L472.4,798.0 L472.6,797.9 L472.9,797.1 L473.1,799.4 L473.4,798.5 L473.6,800.0 L473.9,800.2 L474.1,799.6 L474.4,799.8 L474.6,798.6 L474.9,801.6 L475.1,802.0 L475.4,801.9 L475.6,803.0 L475.8,802.5 L476.1,801.6 L476.3,801.2 L476.5,802.0 L476.8,800.7 L477.0,800.0 L477.2,799.7 L477.5,800.2 L477.8,800.4 L478.0,799.2 L478.2,798.4 L478.5,797.5 L478.8,798.4 L479.0,798.0 L479.2,797.7 L479.5,797.4 L479.8,798.7 L480.0,798.5 L480.2,798.3 L480.5,797.9 L480.8,799.8 L481.0,798.7 L481.2,799.2 L481.5,799.9 L481.8,800.8 L482.0,801.0 L482.2,802.1 L482.5,802.2 L482.8,802.4 L483.0,802.6 L483.2,801.1 L483.5,802.2 L483.8,802.0 L484.0,802.4 L484.2,802.2 L484.5,802.2 L484.8,800.6 L485.0,802.0 L485.2,802.9 L485.5,804.2 L485.7,804.2 L485.9,803.7 L486.2,803.4 L486.4,804.4 L486.7,804.4 L486.9,806.4 L487.1,804.2 L487.4,805.0 L487.6,806.0 L487.8,804.9 L488.1,803.2 L488.3,805.5 L488.6,804.6 L488.8,804.5 L489.1,803.8 L489.3,803.3 L489.5,804.6 L489.8,802.7 L490.0,804.1 L490.3,805.2 L490.5,806.0 L490.8,804.9 L491.0,804.0 L491.2,803.6 L491.5,804.3 L491.8,804.6 L492.0,803.6 L492.2,805.4 L492.5,804.5 L492.8,805.7 L493.0,804.9 L493.2,804.5 L493.5,805.2 L493.8,805.6 L494.0,805.6 L494.2,806.2 L494.5,806.2 L494.8,805.3 L495.0,808.3 L495.2,807.4 L495.5,807.3 L495.8,807.2 L496.0,809.0 L496.2,809.0 L496.5,810.5 L496.8,811.4 L497.0,810.0 L497.2,809.9 L497.5,810.4 L497.8,809.9 L498.0,811.4 L498.2,813.3 L498.5,812.0 L498.8,813.0 L499.0,813.0 L499.2,813.6 L499.5,814.1 L499.8,813.5 L500.0,815.6 L500.2,815.8 L500.5,814.5 L500.8,815.2 L501.0,816.0 L501.2,815.2 L501.5,815.0 L501.8,815.0 L502.0,814.0 L502.2,813.8 L502.5,813.5 L502.8,813.0 L503.0,812.9 L503.2,812.7 L503.5,811.4 L503.8,811.1 L504.0,811.0 L504.2,811.5 L504.5,811.8 L504.8,812.1 L505.0,813.0 L505.2,813.5 L505.5,813.4 L505.7,813.5 L505.9,811.9 L506.2,813.6 L506.4,813.0 L506.7,813.6 L506.9,812.1 L507.1,812.8 L507.4,811.7 L507.6,811.0 L507.8,810.8 L508.1,812.0 L508.3,812.7 L508.6,812.1 L508.8,813.1 L509.0,813.2 L509.3,813.1 L509.5,813.8 L509.8,814.6 L510.0,815.0 L510.2,814.3 L510.5,814.7 L510.8,813.8 L511.0,814.6 L511.2,817.0 L511.5,817.6 L511.8,818.8 L512.0,818.0 L512.2,817.9 L512.5,817.5 L512.7,817.6 L513.0,815.6 L513.2,816.6 L513.4,816.6 L513.7,816.0 L513.9,816.0 L514.2,815.5 L514.4,815.6 L514.6,817.7 L514.9,817.2 L515.1,818.3 L515.3,816.7 L515.6,817.5 L515.8,818.3 L516.1,817.9 L516.3,818.5 L516.5,817.8 L516.8,818.6 L517.0,819.0 L517.2,818.7 L517.5,818.7 L517.8,818.5 L518.0,819.8 L518.2,817.6 L518.5,818.9 L518.8,818.7 L519.0,819.6 L519.2,820.8 L519.5,820.5 L519.8,820.6 L520.0,821.0 L520.2,822.0 L520.5,821.8 L520.8,823.1 L521.0,823.2 L521.2,824.7 L521.5,823.0 L521.8,823.7 L522.0,823.5 L522.2,824.6 L522.5,824.7 L522.8,823.7 L523.0,823.0 L523.2,823.9 L523.5,823.0 L523.8,822.6 L524.0,822.5 L524.2,822.1 L524.5,823.5 L524.8,821.9 L525.0,821.6 L525.2,822.5 L525.5,822.1 L525.8,823.4 L526.0,822.8 L526.2,822.9 L526.5,824.3 L526.8,824.8 L527.0,826.0 L527.2,825.5 L527.5,824.4 L527.7,825.9 L527.9,825.5 L528.2,826.9 L528.4,824.5 L528.7,824.5 L528.9,824.8 L529.1,824.6 L529.4,824.9 L529.6,825.0 L529.8,824.7 L530.1,824.7 L530.3,824.7 L530.6,824.3 L530.8,823.1 L531.0,823.6 L531.3,821.8 L531.5,822.1 L531.8,822.0 L532.0,822.0 L532.2,822.3 L532.5,823.0 L532.7,824.3 L533.0,822.5 L533.2,824.4 L533.4,825.0 L533.7,823.1 L533.9,824.2 L534.2,825.3 L534.4,825.6 L534.6,825.3 L534.9,826.5 L535.1,826.2 L535.3,825.3 L535.5,824.9 L535.8,825.4 L536.0,825.0 L536.2,824.9 L536.5,822.6 L536.7,822.6 L537.0,821.2 L537.2,820.2 L537.4,820.6 L537.7,819.1 L537.9,819.0 L538.2,819.1 L538.4,819.0 L538.6,818.0 L538.9,816.6 L539.1,816.0 L539.3,815.8 L539.5,816.1 L539.8,816.0 L540.0,814.0 L540.2,812.9 L540.5,811.9 L540.7,809.3 L540.9,808.4 L541.2,804.7 L541.4,803.6 L541.6,804.9 L541.9,804.5 L542.1,804.7 L542.3,807.0 L542.5,807.3 L542.8,806.6 L543.0,808.0 L543.2,807.8 L543.5,807.4 L543.7,806.5 L543.9,805.6 L544.2,803.3 L544.4,804.0 L544.6,804.4 L544.9,803.6 L545.1,806.9 L545.3,807.5 L545.5,807.8 L545.8,809.7 L546.0,810.0 L546.2,811.4 L546.5,810.2 L546.8,810.3 L547.0,812.4 L547.2,813.3 L547.5,811.4 L547.8,811.2 L548.0,811.0 L548.2,808.0 L548.5,807.7 L548.7,808.3 L548.9,808.1 L549.1,805.5 L549.4,802.9 L549.6,802.0 L549.8,799.1 L550.1,800.2 L550.3,798.5 L550.5,796.4 L550.8,795.4 L551.0,795.6 L551.2,796.8 L551.5,795.5 L551.7,797.0 L551.9,800.7 L552.2,803.3 L552.4,803.0 L552.6,802.7 L552.9,802.1 L553.1,801.9 L553.4,801.1 L553.6,801.0 L553.8,801.5 L554.1,802.2 L554.3,803.3 L554.5,805.7 L554.8,807.3 L555.0,808.0 L555.2,809.3 L555.5,807.6 L555.8,806.9 L556.0,809.4 L556.2,809.2 L556.5,812.7 L556.8,811.0 L557.0,812.0 L557.2,811.7 L557.5,813.0 L557.7,812.2 L557.9,808.6 L558.2,808.5 L558.4,809.9 L558.7,811.1 L558.9,809.3 L559.1,811.3 L559.4,808.1 L559.6,808.0 L559.8,807.4 L560.1,809.4 L560.3,810.0 L560.6,808.3 L560.8,807.4 L561.0,808.4 L561.3,809.5 L561.5,807.5 L561.8,807.1 L562.0,806.0 L562.2,805.6 L562.5,804.7 L562.7,804.9 L563.0,803.7 L563.2,802.7 L563.4,802.8 L563.7,801.5 L563.9,802.0 L564.2,800.5 L564.4,801.0 L564.6,800.5 L564.9,802.3 L565.1,799.9 L565.3,799.4 L565.6,802.1 L565.8,800.5 L566.1,802.0 L566.3,799.1 L566.5,801.3 L566.8,800.9 L567.0,802.0 L567.2,803.5 L567.5,803.1 L567.7,802.8 L567.9,804.5 L568.2,804.2 L568.4,803.5 L568.7,804.9 L568.9,804.9 L569.1,804.7 L569.4,805.7 L569.6,807.0 L569.8,806.4 L570.1,807.9 L570.3,807.6 L570.6,809.5 L570.8,809.0 L571.0,809.3 L571.3,810.0 L571.5,809.0 L571.8,809.5 L572.0,812.0 L572.2,812.7 L572.5,812.8 L572.7,813.5 L573.0,811.9 L573.2,812.9 L573.4,811.8 L573.7,811.2 L573.9,811.9 L574.2,812.1 L574.4,813.0 L574.6,812.4 L574.9,811.8 L575.1,810.1 L575.3,811.9 L575.6,809.8 L575.8,811.3 L576.1,812.2 L576.3,810.9 L576.5,808.3 L576.8,809.1 L577.0,809.0 L577.2,807.6 L577.5,807.7 L577.8,808.0 L578.0,808.6 L578.2,806.7 L578.5,806.8 L578.8,806.9 L579.0,806.0 L579.2,805.6 L579.5,805.2 L579.8,804.7 L580.0,806.0 L580.2,803.4 L580.5,805.2 L580.8,803.3 L581.0,805.9 L581.2,802.1 L581.5,802.7 L581.8,802.8 L582.0,803.0 L582.2,803.1 L582.5,801.9 L582.7,802.6 L583.0,803.4 L583.2,802.3 L583.4,802.4 L583.7,801.5 L583.9,801.3 L584.2,801.7 L584.4,800.0 L584.6,800.2 L584.9,800.3 L585.1,800.6 L585.3,802.0 L585.6,801.3 L585.8,801.3 L586.1,803.2 L586.3,800.7 L586.5,803.2 L586.8,802.3 L587.0,802.0 L587.2,801.6 L587.5,801.8 L587.7,801.1 L587.9,802.0 L588.2,801.9 L588.4,802.7 L588.7,802.0 L588.9,801.8 L589.1,801.5 L589.4,799.6 L589.6,800.0 L589.9,798.1 L590.1,798.3 L590.4,797.6 L590.6,797.5 L590.9,797.5 L591.1,796.1 L591.4,796.0 L591.6,796.0 L591.8,796.5 L592.1,796.4 L592.3,796.0 L592.6,795.5 L592.8,795.7 L593.0,795.7 L593.3,797.2 L593.5,796.8 L593.8,796.8 L594.0,798.0 L594.2,797.5 L594.5,797.1 L594.8,796.8 L595.0,796.9 L595.2,795.7 L595.5,794.6 L595.8,794.3 L596.0,793.0 L596.2,793.3 L596.5,793.4 L596.8,795.3 L597.0,794.7 L597.2,793.7 L597.5,794.5 L597.8,793.9 L598.0,794.7 L598.2,794.4 L598.5,794.3 L598.8,793.5 L599.0,794.0 L599.2,793.2 L599.5,794.0 L599.8,793.4 L600.0,792.9 L600.2,793.1 L600.5,791.9 L600.8,792.0 L601.0,792.0 L601.2,791.5 L601.5,790.4 L601.7,792.3 L601.9,792.4 L602.2,792.3 L602.4,790.9 L602.7,790.3 L602.9,788.4 L603.1,788.6 L603.4,788.2 L603.6,788.0 L603.8,789.2 L604.1,790.2 L604.3,791.4 L604.5,791.8 L604.8,792.6 L605.0,794.0 L605.2,795.1 L605.5,794.4 L605.8,795.6 L606.0,794.6 L606.2,796.2 L606.5,797.3 L606.8,797.2 L607.0,796.9 L607.2,796.8 L607.5,795.9 L607.8,794.6 L608.0,795.0 L608.2,794.1 L608.5,794.9 L608.8,794.3 L609.0,793.3 L609.2,794.0 L609.5,793.9 L609.8,793.4 L610.0,794.0 L610.2,794.4 L610.5,794.5 L610.7,796.9 L610.9,797.0 L611.1,798.2 L611.4,798.4 L611.6,799.0 L611.9,797.8 L612.1,797.2 L612.4,797.1 L612.6,795.8 L612.9,793.7 L613.1,794.2 L613.4,793.5 L613.6,793.0 L613.9,792.3 L614.1,792.1 L614.4,792.8 L614.6,792.7 L614.9,793.7 L615.1,793.3 L615.4,793.2 L615.6,793.6 L615.8,793.7 L616.1,794.7 L616.3,796.6 L616.6,796.6 L616.8,796.3 L617.0,796.2 L617.3,796.7 L617.5,798.1 L617.8,798.5 L618.0,798.0 L618.2,799.3 L618.5,798.5 L618.8,800.6 L619.0,799.8 L619.2,799.3 L619.5,800.2 L619.8,799.7 L620.0,800.2 L620.2,801.4 L620.5,802.6 L620.8,801.5 L621.0,803.0 L621.2,803.0 L621.5,802.7 L621.8,803.9 L622.0,803.5 L622.2,803.6 L622.5,803.9 L622.8,804.7 L623.0,805.0 L623.2,803.2 L623.5,803.5 L623.8,803.1 L624.0,804.0 L624.2,803.8 L624.5,805.4 L624.8,804.5 L625.0,804.5 L625.2,806.1 L625.5,806.4 L625.8,806.2 L626.0,807.1 L626.2,805.9 L626.5,808.3 L626.8,809.2 L627.0,809.0 L627.2,809.3 L627.5,809.9 L627.8,809.1 L628.0,809.8 L628.2,811.1 L628.5,811.3 L628.8,809.7 L629.0,812.0 L629.2,811.4 L629.5,812.8 L629.8,813.1 L630.0,812.0 L630.2,813.5 L630.5,813.9 L630.8,814.9 L631.0,814.7 L631.2,814.2 L631.5,816.0 L631.8,816.0 L632.0,815.8 L632.2,816.4 L632.5,815.8 L632.8,816.3 L633.0,815.0 L633.2,815.5 L633.5,816.2 L633.7,816.8 L633.9,818.1 L634.2,818.7 L634.4,817.8 L634.7,818.0 L634.9,818.7 L635.1,818.2 L635.4,818.7 L635.6,819.0 L635.8,818.2 L636.1,818.5 L636.3,817.6 L636.5,816.9 L636.8,818.0 L637.0,821.2 L637.2,821.0 L637.5,819.3 L637.7,819.5 L637.9,821.8 L638.2,821.0 L638.4,821.0 L638.6,820.6 L638.9,821.9 L639.1,821.3 L639.3,821.4 L639.6,822.6 L639.8,820.8 L640.1,819.1 L640.3,820.0 L640.5,818.2 L640.8,818.3 L641.0,818.0 L641.2,818.6 L641.5,818.9 L641.7,819.0 L641.9,820.6 L642.2,819.1 L642.4,820.5 L642.7,820.9 L642.9,821.4 L643.1,820.4 L643.4,821.3 L643.6,821.6 L643.8,821.2 L644.1,821.0 L644.3,821.7 L644.5,820.8 L644.8,821.4 L645.0,821.3 L645.2,822.1 L645.5,820.9 L645.7,819.8 L645.9,818.6 L646.2,818.5 L646.4,819.0 L646.6,819.9 L646.9,819.0 L647.1,817.6 L647.3,818.1 L647.6,818.8 L647.8,817.0 L648.1,817.4 L648.3,817.7 L648.5,817.2 L648.8,816.9 L649.0,818.0 L649.2,817.9 L649.5,818.2 L649.7,818.0 L649.9,819.5 L650.2,820.3 L650.4,819.7 L650.7,821.8 L650.9,821.3 L651.1,819.7 L651.4,820.5 L651.6,821.0 L651.8,820.7 L652.1,821.0 L652.3,820.6 L652.6,820.7 L652.8,821.8 L653.0,821.6 L653.3,821.6 L653.5,823.5 L653.8,824.1 L654.0,824.4 L654.2,825.1 L654.5,823.7 L654.7,824.2 L655.0,823.4 L655.2,824.5 L655.4,823.5 L655.7,821.8 L655.9,822.1 L656.2,821.5 L656.4,822.0 L656.6,822.4 L656.9,820.9 L657.1,820.7 L657.3,819.8 L657.6,821.0 L657.8,820.7 L658.1,820.2 L658.3,820.9 L658.5,820.1 L658.8,820.8 L659.0,820.4 L659.2,820.2 L659.5,819.8 L659.8,820.4 L660.0,820.7 L660.2,823.3 L660.5,822.1 L660.8,823.2 L661.0,822.1 L661.2,821.7 L661.5,820.9 L661.8,822.4 L662.0,823.0 L662.2,823.5 L662.5,823.1 L662.8,824.6 L663.0,824.8 L663.2,822.7 L663.5,824.4 L663.8,822.8 L664.0,823.1 L664.2,824.4 L664.5,823.9 L664.8,823.7 L665.0,825.0 L665.2,826.9 L665.5,825.9 L665.8,825.0 L666.0,825.6 L666.2,827.9 L666.5,827.8 L666.8,828.7 L667.0,827.7 L667.2,827.4 L667.5,828.3 L667.8,827.7 L668.0,828.0 L668.2,829.2 L668.5,828.4 L668.8,829.5 L669.0,829.4 L669.2,830.2 L669.5,832.3 L669.8,829.5 L670.0,830.3 L670.2,828.7 L670.5,830.5 L670.8,828.2 L671.0,829.0 L671.2,829.4 L671.5,827.6 L671.7,827.2 L671.9,829.1 L672.2,828.3 L672.4,828.5 L672.7,827.5 L672.9,829.4 L673.1,828.0 L673.4,827.5 L673.6,828.0 L673.8,828.4 L674.1,829.4 L674.3,828.1 L674.6,829.3 L674.8,827.9 L675.0,829.2 L675.3,829.8 L675.5,829.9 L675.8,831.7 L676.0,831.0 L676.2,831.3 L676.5,830.3 L676.8,831.3 L677.0,832.4 L677.2,830.5 L677.5,830.7 L677.8,831.4 L678.0,830.7 L678.2,830.9 L678.5,831.8 L678.8,831.8 L679.0,832.4 L679.2,832.9 L679.5,834.2 L679.8,832.1 L680.0,833.8 L680.2,833.2 L680.5,832.5 L680.8,833.6 L681.0,833.1 L681.2,832.8 L681.5,832.2 L681.8,832.6 L682.0,831.0 L682.2,831.5 L682.5,832.4 L682.8,832.0 L683.0,830.8 L683.2,830.5 L683.5,831.7 L683.8,830.0 L684.0,831.6 L684.2,831.1 L684.5,829.1 L684.8,829.6 L685.0,829.0 L685.2,828.6 L685.5,829.5 L685.8,829.4 L686.0,829.4 L686.2,830.0 L686.5,829.2 L686.8,829.2 L687.0,828.3 L687.2,827.3 L687.5,826.7 L687.8,827.2 L688.0,827.0 L688.2,828.0 L688.5,828.4 L688.8,827.1 L689.0,826.9 L689.2,827.9 L689.5,826.4 L689.8,828.6 L690.0,827.5 L690.2,827.2 L690.5,828.0 L690.8,827.4 L691.0,826.4 L691.2,826.5 L691.5,828.1 L691.8,827.1 L692.0,827.3 L692.2,826.9 L692.5,827.3 L692.8,827.3 L693.0,829.0 L693.2,828.8 L693.5,828.9 L693.7,831.0 L693.9,830.8 L694.2,829.1 L694.4,830.0 L694.7,828.8 L694.9,829.8 L695.1,829.8 L695.4,829.3 L695.6,829.0 L695.8,828.7 L696.1,829.1 L696.3,828.2 L696.6,827.7 L696.8,828.2 L697.1,829.2 L697.3,829.2 L697.5,829.2 L697.8,829.6 L698.0,830.5 L698.3,830.9 L698.5,830.4 L698.8,829.9 L699.0,830.4 L699.2,829.5 L699.5,831.7 L699.7,832.3 L699.9,831.8 L700.2,831.2 L700.4,831.2 L700.7,832.9 L700.9,831.4 L701.1,831.3 L701.4,833.0 L701.6,832.4 L701.9,833.8 L702.1,833.3 L702.4,834.3 L702.6,834.9 L702.9,835.1 L703.1,836.9 L703.4,836.3 L703.6,837.0 L703.8,838.1 L704.1,837.2 L704.3,837.5 L704.5,836.3 L704.8,838.6 L705.0,836.7 L705.2,835.0 L705.5,835.8 L705.7,837.2 L705.9,838.0 L706.2,835.4 L706.4,835.6 L706.6,835.2 L706.9,836.4 L707.1,833.6 L707.3,834.5 L707.6,835.0 L707.8,834.6 L708.1,832.7 L708.3,834.2 L708.5,833.4 L708.8,834.8 L709.0,834.0 L709.2,834.5 L709.5,836.3 L709.8,834.6 L710.0,835.8 L710.2,836.3 L710.5,835.7 L710.8,836.8 L711.0,836.4 L711.2,837.1 L711.5,835.1 L711.8,836.6 L712.0,836.6 L712.2,833.6 L712.5,835.1 L712.8,834.5 L713.0,833.2 L713.2,832.4 L713.5,834.4 L713.8,833.0 L714.0,832.4 L714.2,833.0 L714.5,831.9 L714.7,833.0 L715.0,832.3 L715.2,834.1 L715.4,834.3 L715.7,833.7 L715.9,834.1 L716.2,834.4 L716.4,834.4 L716.6,835.5 L716.9,835.3 L717.1,833.9 L717.3,833.9 L717.6,833.9 L717.8,832.3 L718.1,832.4 L718.3,833.2 L718.5,832.4 L718.8,832.3 L719.0,832.0 L719.2,831.4 L719.5,832.3 L719.8,830.8 L720.0,833.8 L720.2,832.8 L720.5,831.4 L720.8,834.4 L721.0,832.1 L721.2,833.3 L721.5,833.8 L721.8,834.0 L722.0,834.0 L722.2,835.1 L722.5,835.6 L722.8,834.3 L723.0,835.7 L723.2,834.4 L723.5,834.8 L723.8,836.4 L724.0,835.5 L724.2,834.8 L724.5,834.4 L724.8,835.1 L725.0,837.0 L725.2,836.5 L725.5,836.4 L725.8,836.4 L726.0,834.0 L726.2,836.6 L726.5,835.6 L726.8,834.2 L727.0,833.8 L727.2,833.6 L727.5,832.6 L727.8,833.1 L728.0,832.0 L728.2,831.8 L728.5,831.7 L728.8,831.8 L729.0,831.0 L729.2,831.3 L729.5,831.2 L729.8,830.3 L730.0,831.0 L730.2,832.0 L730.5,831.0 L730.7,832.2 L731.0,833.4 L731.2,831.7 L731.4,831.7 L731.7,832.2 L731.9,832.2 L732.2,833.5 L732.4,833.0 L732.6,833.5 L732.9,832.2 L733.1,833.0 L733.3,831.4 L733.6,832.8 L733.8,832.1 L734.1,831.7 L734.3,833.8 L734.5,833.4 L734.8,833.5 L735.0,833.6 L735.2,834.7 L735.5,833.8 L735.7,833.9 L735.9,835.3 L736.2,833.7 L736.4,834.4 L736.7,833.6 L736.9,833.9 L737.1,835.1 L737.4,833.1 L737.6,834.0 L737.9,833.2 L738.1,833.7 L738.4,833.2 L738.6,831.3 L738.9,830.8 L739.1,830.0 L739.4,828.7 L739.6,828.0 L739.9,827.6 L740.1,826.7 L740.4,826.8 L740.6,826.1 L740.9,826.5 L741.1,826.2 L741.4,825.8 L741.6,827.0 L741.8,825.6 L742.1,826.3 L742.3,825.7 L742.5,824.2 L742.7,824.2 L743.0,824.4 L743.2,824.0 L743.4,824.6 L743.7,826.1 L743.9,828.3 L744.2,829.1 L744.4,830.4 L744.6,830.9 L744.9,830.3 L745.1,831.4 L745.3,831.3 L745.6,832.3 L745.8,831.4 L746.1,830.6 L746.3,830.9 L746.5,830.1 L746.8,830.1 L747.0,831.0 L747.2,831.1 L747.5,831.3 L747.8,832.4 L748.0,831.0 L748.2,830.3 L748.5,832.0 L748.8,833.0 L749.0,831.7 L749.2,832.2 L749.5,832.0 L749.8,832.4 L750.0,831.0 L750.2,831.4 L750.5,830.1 L750.7,831.2 L751.0,830.7 L751.2,830.5 L751.4,829.4 L751.7,831.3 L751.9,829.9 L752.2,829.5 L752.4,830.0 L752.6,830.1 L752.9,831.8 L753.1,830.8 L753.4,831.8 L753.6,830.7 L753.9,832.9 L754.1,832.1 L754.4,831.3 L754.6,831.8 L754.9,831.0 L755.1,832.3 L755.4,831.8 L755.6,833.0 L755.8,833.4 L756.1,832.4 L756.3,831.8 L756.5,833.8 L756.8,831.9 L757.0,832.3 L757.2,832.8 L757.5,832.2 L757.7,832.3 L757.9,833.0 L758.2,832.7 L758.4,832.4 L758.6,832.1 L758.9,831.8 L759.1,830.8 L759.4,831.7 L759.6,830.5 L759.9,830.3 L760.1,830.3 L760.4,830.4 L760.6,830.9 L760.9,832.3 L761.1,833.7 L761.4,833.6 L761.6,834.5 L761.9,834.6 L762.1,835.5 L762.4,836.0 L762.6,834.9 L762.9,833.7 L763.1,833.9 L763.3,836.5 L763.6,837.0 L763.8,836.2 L764.1,836.5 L764.3,837.1 L764.5,836.7 L764.8,836.6 L765.0,836.4 L765.2,835.6 L765.5,834.7 L765.8,835.1 L766.0,833.1 L766.2,833.1 L766.5,834.0 L766.8,834.5 L767.0,834.4 L767.2,832.2 L767.5,833.4 L767.8,833.1 L768.0,833.6 L768.2,834.4 L768.5,835.3 L768.8,835.7 L769.0,835.1 L769.2,835.4 L769.5,835.9 L769.8,835.3 L770.0,835.1 L770.2,833.6 L770.5,835.2 L770.8,835.2 L771.0,836.0 L771.2,836.2 L771.5,836.3 L771.7,837.9 L771.9,836.5 L772.2,838.6 L772.4,837.8 L772.7,838.8 L772.9,840.4 L773.1,839.9 L773.4,838.8 L773.6,840.0 L773.8,840.5 L774.1,839.4 L774.3,839.1 L774.6,836.7 L774.8,837.7 L775.0,836.5 L775.3,836.4 L775.5,835.8 L775.8,836.2 L776.0,836.0 L776.2,836.8 L776.5,835.8 L776.7,835.4 L777.0,835.4 L777.2,835.9 L777.4,835.7 L777.7,835.8 L777.9,836.0 L778.2,836.4 L778.4,834.4 L778.6,834.7 L778.9,834.7 L779.1,834.0 L779.4,832.2 L779.6,832.6 L779.8,832.9 L780.1,833.8 L780.3,833.9 L780.6,834.7 L780.8,833.3 L781.0,832.2 L781.3,833.3 L781.5,832.4 L781.8,832.4 L782.0,833.0 L782.2,832.8 L782.5,832.6 L782.8,833.8 L783.0,833.3 L783.2,833.3 L783.5,833.2 L783.8,832.9 L784.0,833.2 L784.2,832.7 L784.5,832.6 L784.8,831.8 L785.0,832.0 L785.2,832.0 L785.5,831.6 L785.8,833.2 L786.0,832.7 L786.2,831.8 L786.5,831.8 L786.8,832.1 L787.0,833.4 L787.2,830.7 L787.5,831.1 L787.8,830.5 L788.0,831.0 L788.2,830.4 L788.5,829.8 L788.7,829.4 L789.0,829.0 L789.2,830.9 L789.4,830.5 L789.7,829.5 L789.9,829.8 L790.2,828.9 L790.4,829.0 L790.6,827.6 L790.9,826.5 L791.1,824.7 L791.4,822.4 L791.6,821.6 L791.9,821.2 L792.1,822.9 L792.4,821.7 L792.6,821.3 L792.9,823.3 L793.1,823.6 L793.4,822.9 L793.6,824.0 L793.8,823.9 L794.1,825.3 L794.3,823.9 L794.6,826.3 L794.8,827.9 L795.0,827.7 L795.3,826.2 L795.5,826.3 L795.8,828.1 L796.0,828.0 L796.2,828.8 L796.5,828.5 L796.7,829.2 L797.0,829.5 L797.2,828.0 L797.4,829.3 L797.7,828.2 L797.9,829.6 L798.2,829.2 L798.4,830.4 L798.6,830.2 L798.9,831.3 L799.1,831.5 L799.3,831.5 L799.6,831.1 L799.8,831.7 L800.1,829.3 L800.3,829.6 L800.5,829.5 L800.8,829.1 L801.0,829.0 L801.2,828.9 L801.5,829.4 L801.8,829.7 L802.0,828.7 L802.2,829.7 L802.5,828.5 L802.8,828.9 L803.0,828.0 L803.2,827.9 L803.5,827.5 L803.8,825.5 L804.0,826.3 L804.2,825.8 L804.5,824.4 L804.8,824.4 L805.0,824.0 L805.2,825.9 L805.5,825.8 L805.7,828.0 L805.9,827.0 L806.2,827.8 L806.4,829.0 L806.6,828.3 L806.9,827.0 L807.1,827.3 L807.3,823.7 L807.5,824.4 L807.8,823.5 L808.0,823.0 L808.2,821.9 L808.5,821.4 L808.7,819.6 L808.9,820.1 L809.1,818.7 L809.4,818.3 L809.6,817.0 L809.8,816.7 L810.1,816.4 L810.3,816.3 L810.6,815.9 L810.8,813.9 L811.0,816.1 L811.3,818.1 L811.5,817.5 L811.8,817.0 L812.0,818.0 L812.2,817.7 L812.5,819.2 L812.8,817.3 L813.0,816.7 L813.2,816.6 L813.5,817.3 L813.8,816.2 L814.0,816.0 L814.2,814.9 L814.5,817.0 L814.7,816.6 L814.9,817.4 L815.1,816.4 L815.4,818.0 L815.6,818.0 L815.9,816.6 L816.1,816.0 L816.4,815.1 L816.6,814.3 L816.9,814.4 L817.1,813.3 L817.4,811.4 L817.6,811.0 L817.9,812.2 L818.1,812.3 L818.4,812.5 L818.6,813.6 L818.9,815.2 L819.1,815.1 L819.4,814.0 L819.6,814.0 L819.9,813.3 L820.1,813.8 L820.4,813.3 L820.6,815.5 L820.9,815.0 L821.1,814.2 L821.4,814.7 L821.6,815.0 L821.8,814.3 L822.1,813.9 L822.3,814.1 L822.5,811.6 L822.7,811.0 L823.0,809.4 L823.2,808.0 L823.5,807.8 L823.7,806.6 L824.0,806.4 L824.2,807.9 L824.5,807.0 L824.7,807.2 L825.0,807.0 L825.2,808.1 L825.5,809.1 L825.8,809.8 L826.0,812.3 L826.2,810.2 L826.5,812.1 L826.8,811.9 L827.0,814.0 L827.2,813.5 L827.5,811.5 L827.7,812.1 L827.9,810.5 L828.2,810.5 L828.4,809.0 L828.6,811.4 L828.9,811.3 L829.1,813.4 L829.4,814.4 L829.6,813.5 L829.9,815.5 L830.1,815.5 L830.4,816.0 L830.6,816.8 L830.9,817.9 L831.1,818.9 L831.3,819.8 L831.5,822.1 L831.8,823.0 L832.0,825.0 L832.2,825.5 L832.5,825.1 L832.7,824.4 L833.0,823.6 L833.2,822.6 L833.4,824.1 L833.7,823.3 L833.9,823.7 L834.2,824.6 L834.4,824.0 L834.6,823.9 L834.9,823.1 L835.1,822.7 L835.3,823.5 L835.6,822.8 L835.8,821.4 L836.1,821.3 L836.3,821.4 L836.5,821.4 L836.8,820.1 L837.0,820.0 L837.2,820.1 L837.5,821.1 L837.8,821.5 L838.0,821.6 L838.2,822.9 L838.5,823.0 L838.8,823.0 L839.0,823.0 L839.2,824.4 L839.5,825.6 L839.8,827.2 L840.0,827.2 L840.2,829.0 L840.5,828.7 L840.8,829.8 L841.0,831.0 L841.2,829.5 L841.5,828.9 L841.8,829.4 L842.0,827.4 L842.2,828.3 L842.5,825.3 L842.8,825.2 L843.0,825.0 L843.2,823.7 L843.5,824.7 L843.8,824.8 L844.0,824.9 L844.2,824.1 L844.5,824.1 L844.8,823.8 L845.0,824.4 L845.2,823.9 L845.5,825.7 L845.7,825.2 L845.9,825.3 L846.2,824.7 L846.4,827.8 L846.7,826.5 L846.9,826.8 L847.1,827.9 L847.4,827.6 L847.6,829.0 L847.9,827.8 L848.1,828.0 L848.4,829.7 L848.6,828.2 L848.9,827.5 L849.1,827.9 L849.4,828.5 L849.6,827.0 L849.9,826.6 L850.1,825.3 L850.4,826.1 L850.6,825.3 L850.9,824.9 L851.1,823.3 L851.4,822.7 L851.6,822.0 L851.9,822.9 L852.1,824.4 L852.4,823.6 L852.6,823.5 L852.9,823.3 L853.1,824.2 L853.4,825.8 L853.6,826.0 L853.9,825.7 L854.1,827.3 L854.4,828.1 L854.6,826.8 L854.9,827.2 L855.1,828.6 L855.4,828.8 L855.6,830.0 L855.9,829.9 L856.1,829.1 L856.4,828.5 L856.6,828.6 L856.9,826.9 L857.1,826.9 L857.4,826.3 L857.6,825.0 L857.9,825.9 L858.1,825.3 L858.4,826.6 L858.6,828.0 L858.9,826.5 L859.1,826.0 L859.4,826.9 L859.6,827.0 L859.8,826.4 L860.1,826.8 L860.3,828.0 L860.6,827.4 L860.8,827.7 L861.0,829.8 L861.3,828.3 L861.5,830.4 L861.8,830.2 L862.0,830.4 L862.2,829.5 L862.5,830.1 L862.7,828.7 L863.0,829.3 L863.2,828.7 L863.4,827.6 L863.7,827.3 L863.9,827.5 L864.2,829.1 L864.4,828.0 L864.6,827.3 L864.9,827.9 L865.1,827.8 L865.3,827.9 L865.6,826.8 L865.8,825.9 L866.1,825.9 L866.3,825.6 L866.5,826.4 L866.8,825.5 L867.0,826.0 L867.2,826.4 L867.5,826.5 L867.8,827.3 L868.0,827.6 L868.2,827.6 L868.5,827.5 L868.8,828.7 L869.0,829.0 L869.2,828.5 L869.5,829.0 L869.7,828.6 L869.9,826.9 L870.2,826.1 L870.4,827.0 L870.7,826.9 L870.9,826.4 L871.1,825.7 L871.4,825.0 L871.6,825.0 L871.9,825.0 L872.1,823.5 L872.4,824.0 L872.6,824.8 L872.9,823.6 L873.1,825.1 L873.4,825.0 L873.6,824.0 L873.9,824.7 L874.1,824.6 L874.4,824.2 L874.6,825.4 L874.9,826.0 L875.1,826.5 L875.4,827.2 L875.6,827.0 L875.8,828.9 L876.1,829.3 L876.3,830.4 L876.5,831.7 L876.8,832.5 L877.0,834.0 L877.2,834.1 L877.5,833.9 L877.8,835.2 L878.0,834.8 L878.2,834.5 L878.5,835.4 L878.8,835.4 L879.0,835.0 L879.2,835.5 L879.5,836.4 L879.7,835.8 L879.9,837.2 L880.2,837.0 L880.4,837.6 L880.6,836.8 L880.9,835.2 L881.1,835.1 L881.3,832.6 L881.5,831.2 L881.8,831.0 L882.0,830.0 L882.2,830.3 L882.5,829.6 L882.7,829.9 L883.0,828.5 L883.2,830.2 L883.4,829.2 L883.7,829.2 L883.9,828.4 L884.2,829.2 L884.4,829.0 L884.6,829.5 L884.9,829.5 L885.1,830.3 L885.3,830.5 L885.6,830.4 L885.8,830.1 L886.1,831.5 L886.3,830.5 L886.5,830.6 L886.8,830.4 L887.0,831.0 L887.2,830.7 L887.5,830.0 L887.7,830.6 L887.9,830.0 L888.2,830.4 L888.4,831.4 L888.7,831.4 L888.9,830.2 L889.1,829.7 L889.4,829.0 L889.6,830.0 L889.8,830.2 L890.1,830.8 L890.3,829.8 L890.5,831.0 L890.8,831.2 L891.0,830.0 L891.2,828.6 L891.5,829.1 L891.7,828.3 L891.9,828.8 L892.2,828.7 L892.4,829.0 L892.6,827.7 L892.9,827.7 L893.1,828.3 L893.3,827.3 L893.6,827.2 L893.8,825.2 L894.1,823.9 L894.3,824.6 L894.5,824.6 L894.8,824.0 L895.0,824.0 L895.2,824.7 L895.5,823.6 L895.7,823.6 L895.9,823.1 L896.2,823.4 L896.4,822.4 L896.6,822.5 L896.9,822.6 L897.1,822.7 L897.3,823.6 L897.6,824.8 L897.8,823.0 L898.1,824.6 L898.3,824.1 L898.5,823.9 L898.8,823.9 L899.0,824.4 L899.2,825.3 L899.5,825.3 L899.7,824.6 L899.9,826.0 L900.2,826.4 L900.4,826.0 L900.7,825.8 L900.9,826.9 L901.1,826.2 L901.4,826.1 L901.6,825.6 L901.9,825.1 L902.1,825.6 L902.4,826.0 L902.6,826.9 L902.9,826.0 L903.1,825.9 L903.4,826.0 L903.6,826.4 L903.8,826.8 L904.1,824.9 L904.3,825.4 L904.6,824.1 L904.8,824.4 L905.0,824.6 L905.3,823.2 L905.5,823.5 L905.8,822.1 L906.0,822.0 L906.2,822.0 L906.5,820.3 L906.8,822.2 L907.0,821.0 L907.2,821.2 L907.5,821.0 L907.8,819.9 L908.0,821.1 L908.2,820.8 L908.5,820.3 L908.8,820.7 L909.0,820.4 L909.2,820.4 L909.5,819.8 L909.8,819.6 L910.0,819.5 L910.2,819.1 L910.5,819.9 L910.8,821.5 L911.0,819.6 L911.2,819.4 L911.5,819.4 L911.8,819.7 L912.0,819.6 L912.2,820.6 L912.5,820.8 L912.7,820.7 L913.0,819.6 L913.2,820.7 L913.4,820.4 L913.7,820.9 L913.9,820.6 L914.2,820.2 L914.4,821.0 L914.6,821.0 L914.9,821.6 L915.1,821.2 L915.4,821.9 L915.6,822.2 L915.9,822.2 L916.1,823.1 L916.4,823.0 L916.6,822.7 L916.9,822.7 L917.1,823.8 L917.3,823.2 L917.6,822.3 L917.8,822.8 L918.1,822.0 L918.3,821.1 L918.5,821.8 L918.8,821.6 L919.0,821.0 L919.2,821.3 L919.5,821.3 L919.8,820.2 L920.0,819.7 L920.2,821.0 L920.5,820.1 L920.8,820.3 L921.0,820.0 L921.2,820.1 L921.5,817.8 L921.8,818.1 L922.0,816.9 L922.2,817.2 L922.5,816.1 L922.8,816.0 L923.0,815.0 L923.2,814.4 L923.5,815.6 L923.7,816.1 L923.9,815.9 L924.2,814.3 L924.4,813.8 L924.7,814.4 L924.9,814.9 L925.1,815.8 L925.4,814.5 L925.6,814.4 L925.8,814.8 L926.1,814.7 L926.3,815.3 L926.6,816.1 L926.8,815.0 L927.0,816.4 L927.3,814.6 L927.5,814.9 L927.8,815.6 L928.0,815.6 L928.2,814.8 L928.5,815.9 L928.7,815.5 L929.0,814.9 L929.2,815.2 L929.4,815.5 L929.7,816.7 L929.9,817.0 L930.2,817.4 L930.4,818.0 L930.6,818.1 L930.9,818.3 L931.1,819.3 L931.4,819.0 L931.6,817.9 L931.9,818.1 L932.1,818.5 L932.4,818.4 L932.6,818.5 L932.9,818.9 L933.1,817.8 L933.3,818.3 L933.6,819.1 L933.8,817.8 L934.1,817.2 L934.3,817.9 L934.5,817.2 L934.8,815.4 L935.0,816.0 L935.2,815.2 L935.5,814.9 L935.8,813.3 L936.0,811.5 L936.2,810.8 L936.5,810.9 L936.8,810.4 L937.0,810.0 L937.2,810.1 L937.5,811.0 L937.8,811.2 L938.0,812.1 L938.2,812.4 L938.5,811.5 L938.8,811.5 L939.0,812.0 L939.2,811.5 L939.5,812.5 L939.8,812.6 L940.0,812.8 L940.2,814.1 L940.5,815.0 L940.8,815.0 L941.0,816.0 L941.2,816.7 L941.5,816.1 L941.8,816.8 L942.0,816.9 L942.2,817.9 L942.5,817.3 L942.8,817.2 L943.0,818.0 L943.2,817.2 L943.5,817.3 L943.8,815.7 L944.0,815.4 L944.2,815.0 L944.5,814.3 L944.8,814.8 L945.0,814.0 L945.2,814.1 L945.5,815.5 L945.8,814.5 L946.0,814.8 L946.2,814.4 L946.5,816.0 L946.8,815.8 L947.0,816.0 L947.2,816.2 L947.5,816.1 L947.7,815.0 L947.9,815.0 L948.2,815.4 L948.4,814.7 L948.7,812.2 L948.9,813.1 L949.1,812.4 L949.4,813.0 L949.6,813.0 L949.8,812.9 L950.1,812.4 L950.3,811.3 L950.5,811.9 L950.8,811.8 L951.0,812.4 L951.2,811.6 L951.5,811.2 L951.7,809.7 L951.9,810.3 L952.2,810.0 L952.4,810.0 L952.6,809.4 L952.9,809.7 L953.1,809.9 L953.3,809.8 L953.6,810.0 L953.8,809.7 L954.1,808.9 L954.3,808.9 L954.5,808.9 L954.8,808.2 L955.0,809.0 L955.2,809.0 L955.5,807.9 L955.7,807.1 L955.9,806.8 L956.2,806.0 L956.4,806.1 L956.7,805.9 L956.9,805.8 L957.1,806.5 L957.4,806.0 L957.6,806.0 L957.8,806.6 L958.1,806.3 L958.3,807.0 L958.6,808.0 L958.8,808.2 L959.0,809.1 L959.3,807.8 L959.5,809.0 L959.8,808.7 L960.0,809.0 L960.2,810.2 L960.5,811.1 L960.8,811.6 L961.0,812.1 L961.2,813.8 L961.5,814.8 L961.8,815.0 L962.0,815.6 L962.2,815.6 L962.5,815.7 L962.7,814.0 L963.0,815.6 L963.2,815.9 L963.4,815.3 L963.7,813.6 L963.9,814.8 L964.2,815.3 L964.4,814.0 L964.6,814.1 L964.9,814.0 L965.1,813.5 L965.3,813.9 L965.6,814.2 L965.8,815.2 L966.1,814.8 L966.3,815.7 L966.5,814.8 L966.8,815.8 L967.0,816.0 L967.2,815.3 L967.5,814.0 L967.7,814.0 L967.9,813.2 L968.2,813.4 L968.4,812.2 L968.7,811.9 L968.9,812.6 L969.1,811.4 L969.4,809.4 L969.6,809.0 L969.8,811.0 L970.1,810.3 L970.3,809.0 L970.5,809.7 L970.8,809.9 L971.0,809.7 L971.2,809.5 L971.5,810.4 L971.7,810.9 L971.9,810.8 L972.2,810.3 L972.4,810.4 L972.6,811.8 L972.9,809.6 L973.1,808.7 L973.3,808.6 L973.6,808.9 L973.8,809.7 L974.1,808.3 L974.3,809.1 L974.5,809.3 L974.8,809.7 L975.0,809.0 L975.2,809.1 L975.5,810.0 L975.8,809.7 L976.0,810.1 L976.2,810.1 L976.5,811.9 L976.8,812.5 L977.0,813.4 L977.2,812.9 L977.5,812.6 L977.8,813.4 L978.0,813.6 L978.2,812.5 L978.5,812.4 L978.8,812.5 L979.0,811.3 L979.2,812.4 L979.5,811.7 L979.8,810.2 L980.0,810.8 L980.2,810.4 L980.5,809.5 L980.8,808.8 L981.0,809.0 L981.2,807.8 L981.5,807.4 L981.8,806.6 L982.0,805.9 L982.2,805.3 L982.5,804.2 L982.8,804.3 L983.0,803.6 L983.2,803.8 L983.5,804.2 L983.8,804.8 L984.0,804.5 L984.2,805.9 L984.5,805.5 L984.8,806.2 L985.0,807.0 L985.2,806.8 L985.5,805.2 L985.8,805.8 L986.0,805.4 L986.2,806.2 L986.5,803.8 L986.8,804.0 L987.0,803.0 L987.2,802.3 L987.5,803.5 L987.7,803.6 L987.9,803.6 L988.2,803.9 L988.4,804.0 L988.7,804.6 L988.9,804.9 L989.1,804.5 L989.4,803.7 L989.6,804.4 L989.8,805.0 L990.1,804.6 L990.3,804.0 L990.6,804.1 L990.8,802.9 L991.0,803.1 L991.3,803.6 L991.5,802.0 L991.8,802.1 L992.0,802.4 L992.2,802.0 L992.5,800.9 L992.7,800.8 L993.0,800.2 L993.2,799.5 L993.4,799.3 L993.7,799.2 L993.9,799.4 L994.2,798.7 L994.4,798.0 L994.6,797.4 L994.9,797.0 L995.1,797.2 L995.3,795.4 L995.6,795.7 L995.8,795.9 L996.1,795.6 L996.3,794.3 L996.5,795.5 L996.8,795.3 L997.0,794.4 L997.2,793.9 L997.5,793.9 L997.7,794.9 L997.9,793.9 L998.2,793.6 L998.4,794.0 L998.7,792.9 L998.9,793.5 L999.1,793.2 L999.4,792.4 L999.6,793.0 L999.9,793.9 L1000.1,795.2 L1000.4,795.2 L1000.6,795.8 L1000.9,797.7 L1001.1,799.9 L1001.4,801.3 L1001.6,802.0 L1001.8,802.1 L1002.1,804.4 L1002.3,801.8 L1002.5,802.1 L1002.8,803.4 L1003.0,803.7 L1003.2,804.7 L1003.5,807.4 L1003.7,806.9 L1003.9,806.8 L1004.2,807.3 L1004.4,808.4 L1004.6,807.7 L1004.9,806.7 L1005.1,805.5 L1005.4,803.2 L1005.6,803.0 L1005.9,801.9 L1006.1,800.9 L1006.4,800.0 L1006.6,800.5 L1006.9,801.8 L1007.1,800.3 L1007.3,800.9 L1007.6,797.8 L1007.8,797.6 L1008.1,798.0 L1008.3,798.5 L1008.5,796.9 L1008.8,796.3 L1009.0,797.0 L1009.2,796.0 L1009.5,797.2 L1009.7,799.4 L1009.9,798.6 L1010.2,799.1 L1010.4,796.7 L1010.7,796.3 L1010.9,796.7 L1011.1,798.0 L1011.4,798.2 L1011.6,796.4 L1011.9,796.6 L1012.1,797.0 L1012.4,799.7 L1012.6,800.7 L1012.9,800.3 L1013.1,800.8 L1013.4,802.8 L1013.6,803.0 L1013.8,804.0 L1014.1,804.0 L1014.3,804.8 L1014.6,805.6 L1014.8,806.4 L1015.0,805.4 L1015.3,806.6 L1015.5,806.4 L1015.8,808.9 L1016.0,809.0 L1016.2,809.3 L1016.5,809.1 L1016.8,810.4 L1017.0,810.4 L1017.2,809.4 L1017.5,810.2 L1017.8,809.1 L1018.0,809.7 L1018.2,809.8 L1018.5,809.6 L1018.8,811.3 L1019.0,811.0 L1019.2,811.1 L1019.5,810.2 L1019.7,810.1 L1019.9,810.5 L1020.2,809.6 L1020.4,808.0 L1020.7,808.9 L1020.9,808.3 L1021.1,807.4 L1021.4,806.5 L1021.6,807.0 L1021.8,805.8 L1022.1,805.7 L1022.3,804.4 L1022.5,803.6 L1022.8,805.0 L1023.0,805.6 L1023.2,802.8 L1023.5,803.3 L1023.7,802.0 L1023.9,800.5 L1024.2,801.1 L1024.4,800.0 L1024.6,800.3 L1024.9,799.8 L1025.1,799.4 L1025.3,799.4 L1025.6,801.8 L1025.8,802.7 L1026.1,802.1 L1026.3,803.3 L1026.5,801.4 L1026.8,803.8 L1027.0,804.4 L1027.2,804.4 L1027.5,806.0 L1027.8,805.4 L1028.0,804.3 L1028.2,803.7 L1028.5,805.2 L1028.8,805.8 L1029.0,806.0 L1029.2,804.1 L1029.5,804.0 L1029.7,803.3 L1029.9,803.5 L1030.2,804.2 L1030.4,804.4 L1030.7,801.2 L1030.9,801.1 L1031.1,801.5 L1031.4,800.4 L1031.6,800.0 L1031.8,799.0 L1032.1,799.0 L1032.3,798.7 L1032.6,799.4 L1032.8,799.3 L1033.0,799.5 L1033.3,799.0 L1033.5,800.4 L1033.8,799.7 L1034.0,799.6 L1034.2,800.4 L1034.5,799.8 L1034.8,799.5 L1035.0,798.5 L1035.2,798.0 L1035.5,797.5 L1035.8,797.8 L1036.0,797.3 L1036.2,797.0 L1036.5,796.6 L1036.8,796.6 L1037.0,797.0 L1037.2,798.1 L1037.5,798.1 L1037.7,799.5 L1037.9,799.7 L1038.2,801.0 L1038.4,802.0 L1038.6,801.7 L1038.9,801.5 L1039.1,799.4 L1039.3,798.2 L1039.6,800.0 L1039.8,798.0 L1040.1,797.0 L1040.3,796.9 L1040.5,797.0 L1040.8,796.7 L1041.0,796.0 L1041.2,797.5 L1041.5,796.7 L1041.7,797.6 L1041.9,797.5 L1042.2,798.8 L1042.4,795.9 L1042.7,796.9 L1042.9,798.0 L1043.1,797.6 L1043.4,799.1 L1043.6,798.0 L1043.8,798.0 L1044.1,797.4 L1044.3,797.8 L1044.6,797.7 L1044.8,797.1 L1045.0,795.9 L1045.3,796.3 L1045.5,795.9 L1045.8,795.2 L1046.0,795.0 L1046.2,795.5 L1046.5,795.3 L1046.8,795.6 L1047.0,795.8 L1047.2,795.4 L1047.5,795.6 L1047.8,796.4 L1048.0,796.0 L1048.2,794.6 L1048.5,794.3 L1048.8,793.4 L1049.0,792.0 L1049.2,790.2 L1049.5,790.0 L1049.8,789.0 L1050.0,788.0 L1050.2,788.3 L1050.5,787.9 L1050.7,788.3 L1051.0,786.4 L1051.2,786.6 L1051.4,786.0 L1051.7,786.7 L1051.9,785.5 L1052.2,785.7 L1052.4,785.6 L1052.7,786.4 L1052.9,785.8 L1053.2,785.7 L1053.4,787.2 L1053.7,787.6 L1053.9,790.9 L1054.2,789.2 L1054.4,790.0 L1054.6,792.2 L1054.9,793.7 L1055.1,793.1 L1055.3,795.3 L1055.5,795.6 L1055.8,796.4 L1056.0,797.0 L1056.2,797.5 L1056.5,797.1 L1056.7,797.0 L1057.0,795.2 L1057.2,795.4 L1057.4,795.6 L1057.7,795.1 L1057.9,792.8 L1058.2,794.6 L1058.4,793.0 L1058.7,793.2 L1058.9,793.0 L1059.2,790.4 L1059.4,790.6 L1059.7,789.1 L1059.9,790.6 L1060.2,789.0 L1060.4,788.0 L1060.7,788.3 L1060.9,788.2 L1061.2,791.1 L1061.4,792.0 L1061.7,790.6 L1061.9,793.4 L1062.2,793.6 L1062.4,793.0 L1062.6,793.3 L1062.9,793.1 L1063.1,794.3 L1063.3,793.4 L1063.6,792.9 L1063.8,791.8 L1064.1,792.7 L1064.3,791.4 L1064.5,793.1 L1064.8,793.2 L1065.0,791.0 L1065.2,790.9 L1065.5,790.8 L1065.8,788.4 L1066.0,788.2 L1066.2,789.7 L1066.5,787.3 L1066.8,789.3 L1067.0,786.8 L1067.2,789.5 L1067.5,788.6 L1067.8,789.4 L1068.0,788.0 L1068.2,788.5 L1068.5,787.1 L1068.8,787.4 L1069.0,787.3 L1069.2,788.8 L1069.5,788.1 L1069.8,787.6 L1070.0,788.3 L1070.2,786.8 L1070.5,787.5 L1070.8,786.5 L1071.0,787.0 L1071.2,786.8 L1071.5,787.6 L1071.7,786.1 L1071.9,786.5 L1072.2,786.2 L1072.4,784.4 L1072.7,786.6 L1072.9,786.1 L1073.1,785.5 L1073.4,784.6 L1073.6,785.6 L1073.8,785.3 L1074.1,784.8 L1074.3,784.5 L1074.6,784.8 L1074.8,783.2 L1075.0,781.7 L1075.3,780.9 L1075.5,782.4 L1075.8,781.3 L1076.0,781.0 L1076.2,781.2 L1076.5,781.2 L1076.7,780.2 L1077.0,780.4 L1077.2,780.5 L1077.4,780.3 L1077.7,781.3 L1077.9,780.6 L1078.2,779.0 L1078.4,779.0 L1078.6,778.8 L1078.9,777.7 L1079.1,776.9 L1079.3,775.1 L1079.6,775.1 L1079.8,773.9 L1080.1,774.4 L1080.3,773.0 L1080.5,772.5 L1080.8,772.2 L1081.0,771.0 L1081.2,771.5 L1081.5,771.1 L1081.8,772.1 L1082.0,773.4 L1082.2,773.3 L1082.5,773.8 L1082.8,773.9 L1083.0,774.0 L1083.2,775.6 L1083.5,770.9 L1083.7,773.2 L1083.9,770.5 L1084.2,772.6 L1084.4,771.0 L1084.6,770.9 L1084.9,771.3 L1085.1,767.1 L1085.4,768.9 L1085.6,764.0 L1085.8,760.4 L1086.1,754.4 L1086.3,752.6 L1086.6,750.6 L1086.8,744.0 L1087.0,739.3 L1087.3,733.1 L1087.5,730.5 L1087.8,724.2 L1088.0,720.0 L1088.2,721.2 L1088.5,728.1 L1088.7,732.4 L1089.0,734.7 L1089.2,736.0 L1089.4,732.2 L1089.7,730.2 L1089.9,726.8 L1090.2,720.7 L1090.4,719.0 L1090.6,721.0 L1090.9,724.7 L1091.1,729.5 L1091.4,734.8 L1091.6,739.0 L1091.8,735.0 L1092.1,728.7 L1092.3,723.7 L1092.6,723.4 L1092.8,718.0 L1093.0,719.6 L1093.3,719.3 L1093.5,722.5 L1093.8,721.3 L1094.0,726.0 L1094.2,730.3 L1094.5,736.4 L1094.7,739.2 L1095.0,742.2 L1095.2,748.0 L1095.4,742.2 L1095.7,737.2 L1095.9,732.3 L1096.2,725.8 L1096.4,722.0 L1096.6,720.4 L1096.9,718.3 L1097.1,716.7 L1097.4,715.4 L1097.6,713.0 L1097.8,716.1 L1098.1,719.4 L1098.3,722.6 L1098.6,725.5 L1098.8,728.0 L1099.0,731.2 L1099.3,732.3 L1099.5,735.8 L1099.8,737.8 L1100.0,740.0 L1100.2,741.1 L1100.5,743.6 L1100.7,744.6 L1101.0,745.3 L1101.2,748.0 L1101.4,753.4 L1101.7,756.5 L1101.9,762.2 L1102.2,766.4 L1102.4,772.0 L1102.6,765.8 L1102.9,760.6 L1103.1,755.1 L1103.4,748.1 L1103.6,742.0 L1103.8,739.9 L1104.1,738.2 L1104.3,737.5 L1104.6,737.2 L1104.8,736.0 L1105.0,736.2 L1105.3,734.4 L1105.5,733.1 L1105.8,731.6 L1106.0,730.0 L1106.2,727.6 L1106.5,725.1 L1106.7,721.9 L1106.9,720.8 L1107.2,718.0 L1107.4,714.0 L1107.6,716.6 L1107.9,718.6 L1108.1,720.3 L1108.4,725.1 L1108.6,726.0 L1108.8,726.0 L1109.1,728.0 L1109.3,730.6 L1109.5,732.0 L1109.8,733.0 L1110.0,737.0 L1110.2,735.6 L1110.5,732.0 L1110.7,731.1 L1111.0,727.9 L1111.2,725.0 L1111.4,727.9 L1111.7,731.3 L1111.9,733.1 L1112.2,735.8 L1112.4,739.0 L1112.6,736.4 L1112.9,734.6 L1113.1,732.3 L1113.3,729.5 L1113.5,727.7 L1113.8,727.0 L1114.0,724.0 L1114.2,723.8 L1114.5,722.6 L1114.7,722.2 L1114.9,721.6 L1115.1,721.0 L1115.4,718.4 L1115.6,718.0 L1115.8,716.9 L1116.1,714.4 L1116.3,713.5 L1116.5,711.2 L1116.8,710.8 L1117.0,709.6 L1117.2,712.3 L1117.5,714.2 L1117.7,715.8 L1117.9,719.7 L1118.2,721.5 L1118.4,724.0 L1118.6,726.9 L1118.9,728.5 L1119.1,732.6 L1119.4,733.6 L1119.6,736.0 L1119.8,732.7 L1120.1,733.0 L1120.3,729.5 L1120.6,727.9 L1120.8,725.3 L1121.1,721.9 L1121.3,719.8 L1121.6,719.0 L1121.8,720.7 L1122.1,723.6 L1122.3,725.7 L1122.5,729.4 L1122.7,731.5 L1123.0,733.0 L1123.2,734.0 L1123.4,733.1 L1123.7,730.9 L1123.9,728.4 L1124.1,727.8 L1124.3,726.9 L1124.6,724.8 L1124.8,723.0 L1125.0,725.3 L1125.3,726.7 L1125.5,728.6 L1125.7,731.0 L1125.9,731.3 L1126.2,734.5 L1126.4,736.0 L1126.7,736.1 L1126.9,733.4 L1127.2,731.2 L1127.4,731.2 L1127.7,729.9 L1127.9,728.7 L1128.2,728.2 L1128.4,726.0 L1128.6,728.2 L1128.9,731.3 L1129.1,734.9 L1129.4,736.8 L1129.6,740.0 L1129.8,742.3 L1130.1,743.7 L1130.3,746.4 L1130.5,747.9 L1130.8,750.1 L1131.0,752.0 L1131.2,754.5 L1131.5,757.0 L1131.8,759.5 L1132.0,762.0 L1132.2,761.4 L1132.5,760.7 L1132.8,761.2 L1133.0,761.1 L1133.2,761.4 L1133.5,761.2 L1133.8,760.2 L1134.0,760.0 L1134.2,759.1 L1134.5,757.5 L1134.7,757.5 L1134.9,756.9 L1135.1,756.9 L1135.4,754.8 L1135.6,754.0 L1135.8,754.6 L1136.1,752.9 L1136.3,752.1 L1136.5,751.7 L1136.7,751.0 L1137.0,751.9 L1137.2,751.0 L1137.5,752.3 L1137.7,756.0 L1138.0,756.7 L1138.2,758.3 L1138.5,759.4 L1138.7,762.2 L1139.0,764.0 L1139.2,764.7 L1139.5,766.3 L1139.7,766.1 L1139.9,765.9 L1140.1,767.9 L1140.4,768.4 L1140.6,770.0 L1140.9,767.8 L1141.1,765.1 L1141.4,762.9 L1141.6,759.4 L1141.9,757.2 L1142.1,755.6 L1142.4,754.0 L1142.7,753.0 L1142.9,753.7 L1143.2,754.6 L1143.4,754.9 L1143.7,754.6 L1143.9,754.6 L1144.2,754.7 L1144.4,755.0 L1144.7,756.1 L1144.9,757.1 L1145.2,758.2 L1145.4,760.6 L1145.7,760.6 L1145.9,761.8 L1146.2,761.4 L1146.4,762.0 L1146.6,763.6 L1146.9,765.5 L1147.1,768.8 L1147.3,769.3 L1147.5,771.4 L1147.8,773.4 L1148.0,776.0 L1148.2,778.1 L1148.5,780.3 L1148.7,783.4 L1148.9,785.0 L1149.1,786.7 L1149.4,788.4 L1149.6,790.0 L1149.8,788.8 L1150.1,788.1 L1150.3,786.8 L1150.6,784.6 L1150.8,783.7 L1151.1,782.8 L1151.3,781.4 L1151.6,781.0 L1151.8,781.1 L1152.1,781.8 L1152.3,782.5 L1152.6,782.9 L1152.8,784.0 L1153.1,785.1 L1153.3,784.9 L1153.6,785.0 L1153.8,783.5 L1154.1,782.8 L1154.3,780.9 L1154.6,780.1 L1154.8,778.3 L1155.1,777.1 L1155.3,776.7 L1155.6,775.0 L1155.8,775.5 L1156.1,776.4 L1156.3,776.9 L1156.6,778.6 L1156.8,778.8 L1157.1,777.6 L1157.3,778.3 L1157.6,778.0 L1157.8,779.3 L1158.1,780.4 L1158.3,781.7 L1158.6,781.7 L1158.8,782.5 L1159.1,783.8 L1159.3,785.0 L1159.6,786.0 L1159.8,786.1 L1160.1,786.1 L1160.3,788.1 L1160.5,789.4 L1160.8,791.4 L1161.0,791.0 L1161.2,789.1 L1161.5,788.9 L1161.8,789.5 L1162.0,788.9 L1162.2,786.3 L1162.5,786.6 L1162.8,786.3 L1163.0,785.0 L1163.2,786.8 L1163.5,787.4 L1163.8,788.5 L1164.0,787.6 L1164.2,787.6 L1164.5,789.4 L1164.8,790.0 L1165.0,791.0 L1165.2,789.7 L1165.5,788.5 L1165.8,786.7 L1166.0,787.4 L1166.2,785.8 L1166.5,784.7 L1166.8,781.3 L1167.0,780.0 L1167.2,779.0 L1167.5,779.3 L1167.8,778.3 L1168.0,778.2 L1168.2,777.0 L1168.5,777.2 L1168.8,776.4 L1169.0,775.0 L1169.2,774.4 L1169.5,772.0 L1169.8,771.0 L1170.0,770.1 L1170.2,770.1 L1170.5,768.6 L1170.8,767.9 L1171.0,766.0 L1171.2,765.9 L1171.5,766.2 L1171.8,764.9 L1172.0,764.3 L1172.2,763.4 L1172.5,764.6 L1172.8,763.3 L1173.0,763.0 L1173.2,764.7 L1173.5,765.0 L1173.8,764.8 L1174.0,766.5 L1174.2,765.9 L1174.5,765.5 L1174.8,767.2 L1175.0,767.0 L1175.2,767.1 L1175.5,768.5 L1175.8,768.6 L1176.0,769.8 L1176.2,770.6 L1176.5,770.9 L1176.8,769.3 L1177.0,771.0 L1177.2,770.6 L1177.5,769.0 L1177.8,770.5 L1178.0,767.2 L1178.2,768.7 L1178.5,767.4 L1178.8,766.8 L1179.0,765.0 L1179.2,765.5 L1179.5,766.2 L1179.8,766.7 L1180.0,766.6 L1180.2,764.4 L1180.5,764.2 L1180.8,762.6 L1181.0,762.9 L1181.2,762.9 L1181.5,763.2 L1181.8,762.5 L1182.0,762.4 L1182.2,762.4 L1182.5,763.6 L1182.8,764.4 L1183.0,763.2 L1183.2,763.9 L1183.5,765.1 L1183.8,765.2 L1184.0,765.0 L1184.2,766.3 L1184.5,768.2 L1184.8,767.1 L1185.0,769.7 L1185.2,771.0 L1185.5,771.8 L1185.8,773.7 L1186.0,775.0 L1186.2,775.6 L1186.5,775.4 L1186.7,774.0 L1187.0,773.0 L1187.2,772.4 L1187.4,773.2 L1187.7,772.6 L1187.9,770.6 L1188.2,771.7 L1188.4,771.0 L1188.7,770.8 L1188.9,767.5 L1189.2,766.3 L1189.4,764.4 L1189.7,764.2 L1189.9,762.6 L1190.2,762.1 L1190.4,760.0 L1190.7,760.3 L1190.9,762.2 L1191.2,761.5 L1191.4,761.8 L1191.7,763.1 L1191.9,763.6 L1192.2,765.3 L1192.4,765.0 L1192.7,763.2 L1192.9,762.7 L1193.2,761.8 L1193.4,759.2 L1193.7,758.8 L1193.9,756.9 L1194.2,756.8 L1194.4,756.0 L1194.6,755.6 L1194.9,753.3 L1195.1,753.2 L1195.3,751.5 L1195.5,749.7 L1195.8,748.1 L1196.0,747.6 L1196.2,747.5 L1196.5,749.3 L1196.8,750.5 L1197.0,750.1 L1197.2,750.7 L1197.5,752.8 L1197.8,753.5 L1198.0,754.0 L1198.2,753.9 L1198.5,754.7 L1198.8,753.3 L1199.0,752.7 L1199.2,752.6 L1199.5,752.6 L1199.8,753.4 L1200.0,753.0 L1200.2,753.1 L1200.5,753.7 L1200.8,752.8 L1201.0,754.9 L1201.2,755.5 L1201.5,753.8 L1201.8,754.7 L1202.0,756.0 L1202.2,757.3 L1202.5,759.0 L1202.7,759.5 L1202.9,762.3 L1203.1,763.2 L1203.4,763.5 L1203.6,766.0 L1203.8,766.3 L1204.1,765.6 L1204.3,768.1 L1204.6,768.6 L1204.8,768.9 L1205.1,770.6 L1205.3,770.6 L1205.6,772.0 L1205.8,770.5 L1206.1,768.7 L1206.3,767.2 L1206.5,764.7 L1206.8,764.7 L1207.0,763.0 L1207.2,763.7 L1207.5,767.7 L1207.8,768.5 L1208.0,770.2 L1208.2,769.7 L1208.5,770.3 L1208.8,773.4 L1209.0,774.0 L1209.2,773.8 L1209.5,774.3 L1209.7,776.6 L1209.9,774.0 L1210.2,775.0 L1210.4,775.9 L1210.7,777.2 L1210.9,776.3 L1211.1,776.7 L1211.4,778.4 L1211.6,779.0 L1211.8,780.6 L1212.1,780.7 L1212.3,780.8 L1212.6,779.4 L1212.8,780.4 L1213.1,782.5 L1213.3,781.3 L1213.6,782.0 L1213.8,778.8 L1214.1,777.0 L1214.3,776.9 L1214.6,776.2 L1214.8,773.3 L1215.1,771.1 L1215.3,769.6 L1215.6,768.0 L1215.8,768.3 L1216.1,768.3 L1216.3,768.1 L1216.6,767.1 L1216.8,767.2 L1217.1,768.2 L1217.3,768.1 L1217.6,767.0 L1217.8,769.4 L1218.1,769.7 L1218.3,770.7 L1218.6,773.9 L1218.8,775.1 L1219.1,775.8 L1219.3,778.3 L1219.6,779.0 L1219.8,779.8 L1220.1,780.4 L1220.3,780.1 L1220.6,780.2 L1220.8,783.3 L1221.0,782.3 L1221.3,783.2 L1221.5,784.6 L1221.8,782.7 L1222.0,784.0 L1222.2,785.8 L1222.5,783.2 L1222.8,784.8 L1223.0,786.6 L1223.2,784.7 L1223.5,785.3 L1223.8,785.2 L1224.0,786.0 L1224.2,786.4 L1224.5,787.7 L1224.7,787.5 L1225.0,787.8 L1225.2,787.3 L1225.4,788.2 L1225.7,789.3 L1225.9,790.3 L1226.2,789.8 L1226.4,791.6 L1226.6,790.9 L1226.9,792.7 L1227.1,791.9 L1227.3,790.0 L1227.6,791.9 L1227.8,791.8 L1228.1,789.7 L1228.3,789.5 L1228.5,789.0 L1228.8,791.1 L1229.0,789.0 L1229.2,787.1 L1229.5,788.0 L1229.8,786.6 L1230.0,786.1 L1230.2,784.8 L1230.5,782.5 L1230.8,781.3 L1231.0,780.0 L1231.2,780.0 L1231.5,779.2 L1231.7,779.1 L1231.9,781.2 L1232.2,777.8 L1232.4,779.6 L1232.7,779.2 L1232.9,778.7 L1233.1,779.4 L1233.4,777.9 L1233.6,777.0 L1233.8,777.6 L1234.1,776.8 L1234.3,779.0 L1234.6,778.5 L1234.8,779.2 L1235.0,778.7 L1235.3,779.9 L1235.5,778.7 L1235.8,777.9 L1236.0,778.0 L1236.2,779.2 L1236.5,778.7 L1236.7,778.9 L1236.9,780.1 L1237.1,782.0 L1237.4,782.4 L1237.6,783.0 L1237.8,781.7 L1238.1,780.4 L1238.3,780.7 L1238.5,777.5 L1238.8,777.2 L1239.0,776.0 L1239.2,775.8 L1239.5,775.2 L1239.7,776.5 L1239.9,776.8 L1240.2,777.2 L1240.4,777.0 L1240.7,778.1 L1240.9,779.3 L1241.1,779.2 L1241.4,776.5 L1241.6,778.0 L1241.8,777.1 L1242.1,778.0 L1242.3,777.5 L1242.6,779.7 L1242.8,779.1 L1243.0,780.4 L1243.3,778.9 L1243.5,779.6 L1243.8,780.2 L1244.0,781.0 L1244.2,782.7 L1244.5,783.5 L1244.8,782.8 L1245.0,784.8 L1245.2,783.3 L1245.5,785.9 L1245.8,786.3 L1246.0,787.0 L1246.2,787.4 L1246.5,785.2 L1246.7,785.1 L1247.0,783.0 L1247.2,783.3 L1247.4,781.8 L1247.7,781.3 L1247.9,780.5 L1248.2,778.2 L1248.4,777.0 L1248.6,779.2 L1248.9,780.0 L1249.1,781.1 L1249.3,783.5 L1249.5,783.9 L1249.8,786.4 L1250.0,787.0 L1250.2,786.6 L1250.5,786.3 L1250.7,785.3 L1251.0,785.4 L1251.2,784.8 L1251.4,783.6 L1251.7,782.2 L1251.9,781.7 L1252.2,780.9 L1252.4,780.0 L1252.6,781.1 L1252.9,784.2 L1253.1,784.9 L1253.3,788.6 L1253.5,789.2 L1253.8,792.1 L1254.0,792.0 L1254.2,793.4 L1254.5,794.7 L1254.7,795.5 L1254.9,796.2 L1255.1,797.4 L1255.4,800.3 L1255.6,799.6 L1255.8,799.5 L1256.1,799.6 L1256.3,800.8 L1256.6,800.2 L1256.8,796.9 L1257.0,797.3 L1257.3,797.9 L1257.5,796.1 L1257.8,797.2 L1258.0,797.0 L1258.2,796.6 L1258.5,797.7 L1258.8,796.9 L1259.0,798.1 L1259.2,799.4 L1259.5,797.4 L1259.8,799.5 L1260.0,799.0 L1260.2,799.1 L1260.5,799.3 L1260.7,799.5 L1261.0,797.4 L1261.2,800.3 L1261.4,800.8 L1261.7,801.4 L1261.9,798.9 L1262.2,801.0 L1262.4,800.0 L1262.7,800.1 L1262.9,799.0 L1263.2,799.7 L1263.4,800.8 L1263.7,802.5 L1263.9,804.1 L1264.2,803.7 L1264.4,805.0 L1264.7,806.2 L1264.9,805.7 L1265.2,807.8 L1265.4,807.4 L1265.7,809.1 L1265.9,808.4 L1266.2,810.0 L1266.4,811.0 L1266.6,811.4 L1266.9,812.5 L1267.1,811.2 L1267.3,810.7 L1267.6,811.5 L1267.8,809.1 L1268.1,808.9 L1268.3,808.7 L1268.5,810.2 L1268.8,809.5 L1269.0,809.0 L1269.2,808.8 L1269.5,808.9 L1269.7,807.5 L1269.9,808.7 L1270.2,806.3 L1270.4,804.6 L1270.7,806.7 L1270.9,803.3 L1271.1,804.3 L1271.4,803.9 L1271.6,804.0 L1271.8,803.8 L1272.1,803.9 L1272.3,803.3 L1272.6,804.2 L1272.8,804.5 L1273.0,805.2 L1273.3,804.2 L1273.5,803.9 L1273.8,804.3 L1274.0,805.0 L1274.2,805.1 L1274.5,804.6 L1274.8,804.7 L1275.0,804.8 L1275.2,805.0 L1275.5,803.9 L1275.8,803.2 L1276.0,804.0 L1276.2,800.1 L1276.5,799.0 L1276.7,796.9 L1276.9,793.2 L1277.1,791.1 L1277.4,788.1 L1277.6,786.0 L1277.8,783.1 L1278.1,781.4 L1278.3,779.0 L1278.5,776.0 L1278.8,773.6 L1279.0,771.0 L1279.2,771.8 L1279.5,773.9 L1279.8,772.7 L1280.0,773.1 L1280.2,774.4 L1280.5,775.3 L1280.8,776.3 L1281.0,777.0 L1281.2,777.4 L1281.5,776.6 L1281.8,775.1 L1282.0,774.5 L1282.2,774.0 L1282.5,774.8 L1282.8,773.9 L1283.0,773.0 L1283.2,773.2 L1283.5,772.3 L1283.8,774.3 L1284.0,772.9 L1284.2,772.8 L1284.5,774.6 L1284.8,774.3 L1285.0,774.0 L1285.2,772.9 L1285.5,771.7 L1285.8,770.0 L1286.0,770.2 L1286.2,769.6 L1286.5,768.1 L1286.8,766.1 L1287.0,765.0 L1287.2,763.7 L1287.5,764.3 L1287.8,763.5 L1288.0,760.2 L1288.2,760.9 L1288.5,760.0 L1288.8,759.6 L1289.0,757.0 L1289.2,755.2 L1289.5,753.5 L1289.8,751.6 L1290.0,749.0 L1290.2,748.4 L1290.5,744.7 L1290.8,743.9 L1291.0,742.0 L1291.2,744.3 L1291.5,745.5 L1291.7,747.9 L1291.9,751.2 L1292.2,753.2 L1292.4,754.0 L1292.7,753.2 L1292.9,752.6 L1293.2,750.4 L1293.4,748.8 L1293.7,748.6 L1293.9,746.2 L1294.2,744.4 L1294.4,744.0 L1294.7,744.9 L1294.9,745.9 L1295.2,746.7 L1295.4,747.0 L1295.7,746.3 L1295.9,749.1 L1296.2,748.4 L1296.4,750.0 L1296.7,750.6 L1296.9,753.1 L1297.2,753.6 L1297.4,755.1 L1297.7,756.3 L1297.9,756.6 L1298.2,756.6 L1298.4,757.0 L1298.6,755.9 L1298.9,754.7 L1299.1,755.6 L1299.3,753.9 L1299.6,754.4 L1299.8,754.3 L1300.1,753.5 L1300.3,753.5 L1300.5,752.4 L1300.8,752.6 L1301.0,751.0 L1301.2,750.9 L1301.5,751.1 L1301.7,750.2 L1301.9,749.6 L1302.2,751.3 L1302.4,751.7 L1302.7,752.6 L1302.9,751.3 L1303.1,750.3 L1303.4,752.2 L1303.6,752.0 L1303.8,750.2 L1304.1,749.5 L1304.3,749.4 L1304.6,747.4 L1304.8,747.1 L1305.1,746.4 L1305.3,744.2 L1305.6,744.0 L1305.8,744.1 L1306.1,743.3 L1306.3,741.9 L1306.6,741.1 L1306.8,741.1 L1307.0,740.9 L1307.3,739.5 L1307.5,738.6 L1307.8,737.8 L1308.0,738.0 L1308.2,737.3 L1308.5,737.9 L1308.8,736.1 L1309.0,734.9 L1309.2,735.7 L1309.5,735.2 L1309.8,734.6 L1310.0,734.0 L1310.2,734.0 L1310.5,734.5 L1310.8,734.7 L1311.0,734.5 L1311.2,734.5 L1311.5,736.2 L1311.8,736.5 L1312.0,737.0 L1312.2,734.9 L1312.5,734.5 L1312.7,731.3 L1312.9,731.1 L1313.1,727.6 L1313.4,726.5 L1313.6,725.0 L1313.8,724.6 L1314.1,725.9 L1314.3,726.0 L1314.6,726.5 L1314.8,727.2 L1315.1,728.6 L1315.3,727.3 L1315.6,729.0 L1315.8,728.3 L1316.1,727.0 L1316.3,726.6 L1316.6,724.5 L1316.8,724.3 L1317.1,725.2 L1317.3,723.0 L1317.6,722.0 L1317.8,721.2 L1318.1,720.5 L1318.3,718.1 L1318.6,717.0 L1318.8,715.7 L1319.1,715.0 L1319.3,713.6 L1319.6,713.0 L1319.8,714.6 L1320.1,716.7 L1320.3,717.3 L1320.5,720.0 L1320.8,721.4 L1321.0,722.0 L1321.2,722.1 L1321.5,721.2 L1321.7,720.7 L1321.9,719.3 L1322.2,720.1 L1322.4,719.0 L1322.6,720.8 L1322.9,722.5 L1323.1,723.9 L1323.3,727.4 L1323.5,729.4 L1323.8,730.6 L1324.0,732.0 L1324.2,732.5 L1324.5,734.0 L1324.8,735.5 L1325.0,736.4 L1325.2,737.6 L1325.5,738.3 L1325.8,738.8 L1326.0,740.0 L1326.2,740.0 L1326.5,739.7 L1326.7,739.0 L1327.0,741.2 L1327.2,739.4 L1327.4,740.1 L1327.7,738.9 L1327.9,739.8 L1328.2,740.3 L1328.4,740.0 L1328.7,739.2 L1328.9,736.6 L1329.2,734.9 L1329.4,733.5 L1329.7,731.9 L1329.9,729.5 L1330.2,728.1 L1330.4,726.0 L1330.7,723.3 L1330.9,723.3 L1331.2,721.5 L1331.4,720.3 L1331.7,719.0 L1331.9,718.4 L1332.2,717.2 L1332.4,716.0 L1332.6,714.9 L1332.9,714.2 L1333.1,714.4 L1333.3,712.1 L1333.6,711.6 L1333.8,710.6 L1334.1,711.1 L1334.3,708.6 L1334.5,707.7 L1334.8,707.7 L1335.0,708.0 L1335.2,707.3 L1335.5,709.2 L1335.8,709.5 L1336.0,708.8 L1336.2,709.4 L1336.5,710.3 L1336.8,710.6 L1337.0,711.0 L1337.2,710.8 L1337.5,710.9 L1337.8,712.0 L1338.0,713.2 L1338.2,713.1 L1338.5,714.6 L1338.8,715.0 L1339.0,715.0 L1339.2,714.7 L1339.5,717.1 L1339.8,716.6 L1340.0,716.7 L1340.2,719.5 L1340.5,719.3 L1340.8,720.6 L1341.0,721.0 L1341.2,720.6 L1341.5,720.8 L1341.8,720.6 L1342.0,719.2 L1342.2,717.5 L1342.5,717.1 L1342.8,716.4 L1343.0,716.0 L1343.2,716.9 L1343.5,718.1 L1343.8,718.2 L1344.0,717.6 L1344.2,719.2 L1344.5,717.9 L1344.8,719.6 L1345.0,719.0 L1345.2,717.2 L1345.5,715.9 L1345.7,714.2 L1345.9,712.2 L1346.2,710.7 L1346.4,708.0 L1346.7,708.8 L1346.9,710.6 L1347.2,711.4 L1347.4,713.2 L1347.7,714.9 L1347.9,716.0 L1348.2,717.1 L1348.4,718.0 L1348.7,717.1 L1348.9,716.8 L1349.2,715.7 L1349.4,714.2 L1349.7,712.5 L1349.9,712.0 L1350.2,712.5 L1350.4,711.0 L1350.7,710.4 L1350.9,709.6 L1351.2,709.2 L1351.4,710.3 L1351.7,708.4 L1351.9,707.1 L1352.2,707.6 L1352.4,708.0 L1352.7,706.5 L1352.9,705.7 L1353.2,704.1 L1353.4,702.1 L1353.7,701.4 L1353.9,699.2 L1354.2,698.2 L1354.4,696.0 L1354.7,693.1 L1354.9,691.7 L1355.2,690.5 L1355.4,688.7 L1355.7,688.3 L1355.9,685.7 L1356.2,684.2 L1356.4,682.0 L1356.6,680.7 L1356.9,679.5 L1357.1,678.6 L1357.3,676.5 L1357.5,674.1 L1357.8,673.8 L1358.0,672.0 L1358.2,672.0 L1358.5,671.9 L1358.7,671.5 L1358.9,672.1 L1359.1,670.7 L1359.4,671.5 L1359.6,671.0 L1359.8,668.1 L1360.1,667.6 L1360.3,663.8 L1360.6,663.8 L1360.8,661.3 L1361.1,658.4 L1361.3,657.4 L1361.6,655.0 L1361.8,658.2 L1362.1,661.9 L1362.3,666.4 L1362.5,669.7 L1362.8,672.8 L1363.0,676.0 L1363.2,678.9 L1363.5,681.2 L1363.7,683.2 L1363.9,685.9 L1364.2,689.3 L1364.4,692.0 L1364.6,694.7 L1364.9,696.4 L1365.1,696.4 L1365.3,698.2 L1365.5,700.2 L1365.8,701.8 L1366.0,703.0 L1366.2,701.0 L1366.5,699.6 L1366.7,698.0 L1366.9,696.8 L1367.1,695.0 L1367.4,693.1 L1367.6,692.0 L1367.8,691.7 L1368.1,689.0 L1368.3,688.9 L1368.5,686.5 L1368.8,686.5 L1369.0,685.0 L1369.2,687.2 L1369.5,688.2 L1369.8,690.6 L1370.0,693.5 L1370.2,696.1 L1370.5,697.6 L1370.8,699.1 L1371.0,702.0 L1371.2,701.4 L1371.5,699.8 L1371.8,700.4 L1372.0,699.2 L1372.2,697.4 L1372.5,696.9 L1372.8,695.9 L1373.0,694.0 L1373.2,695.3 L1373.5,694.3 L1373.8,695.2 L1374.0,695.3 L1374.2,696.8 L1374.5,697.5 L1374.8,698.5 L1375.0,698.0 L1375.2,697.6 L1375.5,696.5 L1375.8,696.9 L1376.0,696.2 L1376.2,694.9 L1376.5,693.8 L1376.8,693.8 L1377.0,693.0 L1377.2,692.7 L1377.5,693.3 L1377.8,693.2 L1378.0,695.1 L1378.2,694.1 L1378.5,693.9 L1378.8,693.4 L1379.0,694.0 L1379.2,693.9 L1379.5,692.6 L1379.8,691.8 L1380.0,690.1 L1380.2,689.4 L1380.5,688.9 L1380.8,688.5 L1381.0,687.0 L1381.2,687.4 L1381.5,686.7 L1381.8,687.1 L1382.0,688.0 L1382.2,689.2 L1382.5,688.1 L1382.8,690.3 L1383.0,689.0 L1383.2,688.1 L1383.5,688.5 L1383.7,687.4 L1383.9,687.4 L1384.2,687.8 L1384.4,686.0 L1384.6,688.8 L1384.9,690.1 L1385.1,691.9 L1385.3,692.7 L1385.5,694.7 L1385.8,696.7 L1386.0,698.0 L1386.2,696.3 L1386.5,693.4 L1386.8,688.8 L1387.0,687.6 L1387.2,684.4 L1387.5,681.2 L1387.8,679.2 L1388.0,676.0 L1388.2,673.6 L1388.5,672.0 L1388.8,669.2 L1389.0,666.2 L1389.2,663.3 L1389.5,662.9 L1389.8,661.5 L1390.0,659.0 L1390.2,659.1 L1390.5,658.5 L1390.7,660.3 L1390.9,658.0 L1391.1,658.8 L1391.4,658.8 L1391.6,658.0 L1391.8,658.1 L1392.1,658.2 L1392.3,658.1 L1392.5,659.0 L1392.8,660.0 L1393.0,661.0 L1393.2,662.7 L1393.5,664.8 L1393.7,666.6 L1393.9,670.0 L1394.2,671.7 L1394.4,674.0 L1394.7,676.2 L1394.9,674.5 L1395.2,674.3 L1395.4,675.2 L1395.7,677.1 L1395.9,675.6 L1396.2,677.5 L1396.4,677.0 L1396.6,675.8 L1396.9,673.0 L1397.1,673.4 L1397.3,671.9 L1397.5,671.5 L1397.8,670.1 L1398.0,668.0 L1398.2,667.8 L1398.5,666.6 L1398.8,665.0 L1399.0,665.1 L1399.2,664.0 L1399.5,663.5 L1399.8,661.8 L1400.0,661.0 L1400.2,661.7 L1400.5,662.4 L1400.7,663.2 L1400.9,664.4 L1401.1,666.4 L1401.4,666.3 L1401.6,668.0 L1401.9,670.7 L1402.1,673.3 L1402.4,676.0"/>
</g>
<g fill="none" stroke="#000" stroke-width="1.2" stroke-linecap="square">
<rect x="70.6" y="33.6" width="1394.8000000000002" height="611.6999999999999"/>
<rect x="70.6" y="645.3" width="1394.8000000000002" height="204.0"/>
</g>
<g stroke="#000" stroke-width="1.2">
<line x1="65.30" x2="70.6" y1="560.36" y2="560.36"/>
<line x1="65.30" x2="70.6" y1="438.10" y2="438.10"/>
<line x1="65.30" x2="70.6" y1="315.84" y2="315.84"/>
<line x1="65.30" x2="70.6" y1="193.58" y2="193.58"/>
<line x1="65.30" x2="70.6" y1="71.32" y2="71.32"/>
<line x1="65.30" x2="70.6" y1="819.49" y2="819.49"/>
<line x1="65.30" x2="70.6" y1="776.46" y2="776.46"/>
<line x1="65.30" x2="70.6" y1="733.43" y2="733.43"/>
<line x1="65.30" x2="70.6" y1="690.40" y2="690.40"/>
<line x1="65.30" x2="70.6" y1="647.37" y2="647.37"/>
<line x1="313.50" x2="313.50" y1="849.3" y2="854.60"/>
<line x1="567.30" x2="567.30" y1="849.3" y2="854.60"/>
<line x1="821.11" x2="821.11" y1="849.3" y2="854.60"/>
<line x1="1074.91" x2="1074.91" y1="849.3" y2="854.60"/>
<line x1="1328.72" x2="1328.72" y1="849.3" y2="854.60"/>
</g>
<g font-size="13.89">
<text x="59.9" y="566.16" text-anchor="end">0</text>
<text x="59.9" y="443.90" text-anchor="end" dx="0 -1 0">100</text>
<text x="59.9" y="321.64" text-anchor="end" dx="0 -1 0">200</text>
<text x="59.9" y="199.38" text-anchor="end" dx="0 -1 0">300</text>
<text x="59.9" y="77.12" text-anchor="end" dx="0 -1 0">400</text>
<text x="60.6" y="826.39" text-anchor="end" dx="0 -1.05 -0.35 0">0.65</text>
<text x="60.6" y="783.36" text-anchor="end" dx="0 -1.05 -0.35 0">0.70</text>
<text x="60.6" y="740.33" text-anchor="end" dx="0 -1.05 -0.35 0">0.75</text>
<text x="60.6" y="697.30" text-anchor="end" dx="0 -1.05 -0.35 0">0.80</text>
<text x="60.6" y="654.27" text-anchor="end" dx="0 -1.05 -0.35 0">0.85</text>
<text transform="translate(311.40,870.00) rotate(-30)" text-anchor="end">2008-01-01</text>
<text transform="translate(565.20,870.00) rotate(-30)" text-anchor="end">2012-01-01</text>
<text transform="translate(819.01,870.00) rotate(-30)" text-anchor="end">2016-01-01</text>
<text transform="translate(1072.81,870.00) rotate(-30)" text-anchor="end">2020-01-01</text>
<text transform="translate(1326.62,870.00) rotate(-30)" text-anchor="end">2024-01-01</text>
<text x="767.1" y="929" text-anchor="middle">Date</text>
<text transform="translate(24.9,341) rotate(-90)" text-anchor="middle">Cumulative Return (%)</text>
<text transform="translate(20.5,750.7) rotate(-90)" text-anchor="middle">Ratio</text>
<text x="768" y="54.9" text-anchor="middle">SP500 Mkt Cap Cumulative Return: 391.98%</text>
<text x="768" y="70.9" text-anchor="middle">SP500 Equal Wght Cumulative Return: 369.56%</text>
<rect x="77.5" y="40.5" width="178" height="46" rx="2.8" fill="#fff" fill-opacity="0.8" stroke="#ccc" stroke-opacity="0.8" stroke-width="1.11"/>
<line x1="82" x2="111" y1="51.9" y2="51.9" stroke="#1f77b4" stroke-width="2.15"/>
<line x1="82" x2="111" y1="72.9" y2="72.9" stroke="#ff7f0e" stroke-width="2.15"/>
<text x="120.75" y="57.7">SP500 Mkt Cap</text>
<text x="120.75" y="78.65">SP500 Equal Wght</text>
<rect x="77.5" y="817.9" width="296" height="25.7" rx="2.8" fill="#fff" fill-opacity="0.8" stroke="#ccc" stroke-opacity="0.8" stroke-width="1.11"/>
<line x1="82" x2="111" y1="828.8" y2="828.8" stroke="#000" stroke-width="2.15"/>
<text x="120.75" y="834.7">SP500 Mkt Cap / SP500 Equal Wght</text>
</g>
<g id="logo">
<rect x="1419.9" y="0" width="55.1" height="35.1" fill="#fff"/>
<path d="M1420.25,20.7 L1422.4,28.7 L1424.1,21.8 L1425.2,26.4 L1426.6,21.4 L1429.6,34.4 L1431.5,5.4 L1433.4,28.3 L1435,21.8 L1436.5,26.8 L1437.8,21.4 L1439.4,28.7 L1440.9,21.8 L1442.1,26.8 L1443.4,20.7 L1445.3,28.3" fill="none" stroke="#a5142a" stroke-width="0.95" stroke-linejoin="round" stroke-linecap="round"/>
<rect x="1447.2" y="5.2" width="5.8" height="7.0" rx="1.4" fill="#a5142a"/>
<text x="1450.1" y="10.70" font-size="5.6" font-weight="bold" text-anchor="middle" style="fill:#fff;font-family:'Liberation Sans',sans-serif">S</text>
<rect x="1447.2" y="14.3" width="5.8" height="6.5" rx="1.4" fill="#a5142a"/>
<text x="1450.1" y="19.55" font-size="5.6" font-weight="bold" text-anchor="middle" style="fill:#fff;font-family:'Liberation Sans',sans-serif">2</text>
<rect x="1447.2" y="23.0" width="5.8" height="6.6" rx="1.4" fill="#a5142a"/>
<text x="1450.1" y="28.30" font-size="5.6" font-weight="bold" text-anchor="middle" style="fill:#fff;font-family:'Liberation Sans',sans-serif">N</text>
<text x="1453.8" y="10.9" font-size="5.4" font-weight="bold" textLength="15.6" lengthAdjust="spacingAndGlyphs" style="font-family:'Liberation Sans',sans-serif;fill:#1a1a1a">IGNAL</text>
<text x="1453.8" y="28.5" font-size="5.4" font-weight="bold" textLength="12.9" lengthAdjust="spacingAndGlyphs" style="font-family:'Liberation Sans',sans-serif;fill:#1a1a1a">OISE</text>
</g>
</svg></body></html>
